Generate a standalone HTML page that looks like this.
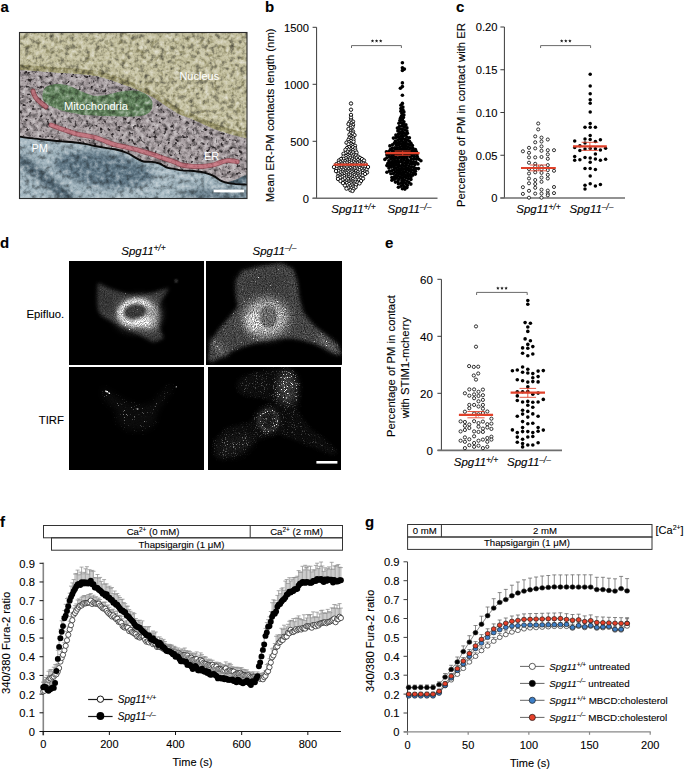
<!DOCTYPE html>
<html><head><meta charset="utf-8"><style>
html,body{margin:0;padding:0;background:#fff;}
svg{display:block;font-family:'Liberation Sans', sans-serif;}
.t{stroke:#000;stroke-width:0.1px;}
</style></head><body>
<svg width="685" height="770" viewBox="0 0 685 770">
<text x="0.50" y="12.00" font-size="15" text-anchor="start" font-weight="bold" font-style="normal" fill="#000" class="t">a</text>
<text x="265.00" y="12.00" font-size="15" text-anchor="start" font-weight="bold" font-style="normal" fill="#000" class="t">b</text>
<text x="456.00" y="12.00" font-size="15" text-anchor="start" font-weight="bold" font-style="normal" fill="#000" class="t">c</text>
<text x="0.00" y="248.00" font-size="15" text-anchor="start" font-weight="bold" font-style="normal" fill="#000" class="t">d</text>
<text x="385.00" y="248.00" font-size="15" text-anchor="start" font-weight="bold" font-style="normal" fill="#000" class="t">e</text>
<text x="0.00" y="527.00" font-size="15" text-anchor="start" font-weight="bold" font-style="normal" fill="#000" class="t">f</text>
<text x="365.00" y="527.00" font-size="15" text-anchor="start" font-weight="bold" font-style="normal" fill="#000" class="t">g</text>
<line x1="316.60" y1="27.30" x2="316.60" y2="198.30" stroke="#3a3a3a" stroke-width="1" />
<line x1="312.60" y1="27.30" x2="316.60" y2="27.30" stroke="#3a3a3a" stroke-width="1" />
<text x="309.00" y="31.70" font-size="11.2" text-anchor="end" font-weight="normal" font-style="normal" fill="#000" class="t">1500</text>
<line x1="312.60" y1="84.30" x2="316.60" y2="84.30" stroke="#3a3a3a" stroke-width="1" />
<text x="309.00" y="88.70" font-size="11.2" text-anchor="end" font-weight="normal" font-style="normal" fill="#000" class="t">1000</text>
<line x1="312.60" y1="141.30" x2="316.60" y2="141.30" stroke="#3a3a3a" stroke-width="1" />
<text x="309.00" y="145.70" font-size="11.2" text-anchor="end" font-weight="normal" font-style="normal" fill="#000" class="t">500</text>
<line x1="312.60" y1="198.30" x2="316.60" y2="198.30" stroke="#3a3a3a" stroke-width="1" />
<text x="309.00" y="202.70" font-size="11.2" text-anchor="end" font-weight="normal" font-style="normal" fill="#000" class="t">0</text>
<line x1="312.60" y1="198.30" x2="437.50" y2="198.30" stroke="#6e6e6e" stroke-width="1.6" />
<text transform="translate(274,115.35) rotate(-90)" font-size="11.35" text-anchor="middle" fill="#000" class="t">Mean ER-PM contacts length (nm)</text>
<text class="t" x="353.50" y="213.00" font-size="11.5" text-anchor="middle" fill="#000"><tspan font-style="italic">Spg11</tspan><tspan font-size="8.51" dx="-0.3" dy="-3.45" font-style="italic">+/+</tspan></text>
<text class="t" x="409.50" y="213.00" font-size="11.5" text-anchor="middle" fill="#000"><tspan font-style="italic">Spg11</tspan><tspan font-size="8.51" dx="-0.3" dy="-3.45" font-style="italic">–/–</tspan></text>
<line x1="504.40" y1="27.00" x2="504.40" y2="198.00" stroke="#3a3a3a" stroke-width="1" />
<line x1="500.40" y1="27.00" x2="504.40" y2="27.00" stroke="#3a3a3a" stroke-width="1" />
<text x="497.50" y="31.40" font-size="11.2" text-anchor="end" font-weight="normal" font-style="normal" fill="#000" class="t">0.20</text>
<line x1="500.40" y1="69.75" x2="504.40" y2="69.75" stroke="#3a3a3a" stroke-width="1" />
<text x="497.50" y="74.15" font-size="11.2" text-anchor="end" font-weight="normal" font-style="normal" fill="#000" class="t">0.15</text>
<line x1="500.40" y1="112.50" x2="504.40" y2="112.50" stroke="#3a3a3a" stroke-width="1" />
<text x="497.50" y="116.90" font-size="11.2" text-anchor="end" font-weight="normal" font-style="normal" fill="#000" class="t">0.10</text>
<line x1="500.40" y1="155.25" x2="504.40" y2="155.25" stroke="#3a3a3a" stroke-width="1" />
<text x="497.50" y="159.65" font-size="11.2" text-anchor="end" font-weight="normal" font-style="normal" fill="#000" class="t">0.05</text>
<line x1="500.40" y1="198.00" x2="504.40" y2="198.00" stroke="#3a3a3a" stroke-width="1" />
<text x="497.50" y="202.40" font-size="11.2" text-anchor="end" font-weight="normal" font-style="normal" fill="#000" class="t">0</text>
<line x1="500.40" y1="198.00" x2="625.00" y2="198.00" stroke="#6e6e6e" stroke-width="1.6" />
<text transform="translate(464.6,115.1) rotate(-90)" font-size="11.3" text-anchor="middle" fill="#000" class="t">Percentage of PM in contact with ER</text>
<text class="t" x="538.50" y="213.00" font-size="11.5" text-anchor="middle" fill="#000"><tspan font-style="italic">Spg11</tspan><tspan font-size="8.51" dx="-0.3" dy="-3.45" font-style="italic">+/+</tspan></text>
<text class="t" x="591.50" y="213.00" font-size="11.5" text-anchor="middle" fill="#000"><tspan font-style="italic">Spg11</tspan><tspan font-size="8.51" dx="-0.3" dy="-3.45" font-style="italic">–/–</tspan></text>
<line x1="441.40" y1="279.30" x2="441.40" y2="450.30" stroke="#3a3a3a" stroke-width="1" />
<line x1="437.40" y1="279.30" x2="441.40" y2="279.30" stroke="#3a3a3a" stroke-width="1" />
<text x="432.90" y="283.70" font-size="11.5" text-anchor="end" font-weight="normal" font-style="normal" fill="#000" class="t">60</text>
<line x1="437.40" y1="336.30" x2="441.40" y2="336.30" stroke="#3a3a3a" stroke-width="1" />
<text x="432.90" y="340.70" font-size="11.5" text-anchor="end" font-weight="normal" font-style="normal" fill="#000" class="t">40</text>
<line x1="437.40" y1="393.30" x2="441.40" y2="393.30" stroke="#3a3a3a" stroke-width="1" />
<text x="432.90" y="397.70" font-size="11.5" text-anchor="end" font-weight="normal" font-style="normal" fill="#000" class="t">20</text>
<line x1="437.40" y1="450.30" x2="441.40" y2="450.30" stroke="#3a3a3a" stroke-width="1" />
<text x="432.90" y="454.70" font-size="11.5" text-anchor="end" font-weight="normal" font-style="normal" fill="#000" class="t">0</text>
<line x1="437.60" y1="450.40" x2="562.00" y2="450.40" stroke="#6e6e6e" stroke-width="1.6" />
<text transform="translate(394.8,366.05) rotate(-90)" font-size="11.3" text-anchor="middle" fill="#000" class="t">Percentage of PM in contact</text>
<text transform="translate(408.6,367.7) rotate(-90)" font-size="11.3" text-anchor="middle" fill="#000" class="t">with STIM1-mcherry</text>
<text class="t" x="476.00" y="466.00" font-size="11.5" text-anchor="middle" fill="#000"><tspan font-style="italic">Spg11</tspan><tspan font-size="8.51" dx="-0.3" dy="-3.45" font-style="italic">+/+</tspan></text>
<text class="t" x="529.00" y="466.00" font-size="11.5" text-anchor="middle" fill="#000"><tspan font-style="italic">Spg11</tspan><tspan font-size="8.51" dx="-0.3" dy="-3.45" font-style="italic">–/–</tspan></text>
<text class="t" x="143.50" y="254.50" font-size="11.5" text-anchor="middle" fill="#000"><tspan font-style="italic">Spg11</tspan><tspan font-size="8.51" dx="-0.3" dy="-3.45" font-style="italic">+/+</tspan></text>
<text class="t" x="274.50" y="254.50" font-size="11.5" text-anchor="middle" fill="#000"><tspan font-style="italic">Spg11</tspan><tspan font-size="8.51" dx="-0.3" dy="-3.45" font-style="italic">–/–</tspan></text>
<text x="64.20" y="317.50" font-size="11.3" text-anchor="end" font-weight="normal" font-style="normal" fill="#000" class="t">Epifluo.</text>
<text x="63.90" y="423.60" font-size="11.3" text-anchor="end" font-weight="normal" font-style="normal" fill="#000" class="t">TIRF</text>
<line x1="43.30" y1="562.60" x2="43.30" y2="735.50" stroke="#858585" stroke-width="1.6" />
<line x1="39.50" y1="731.50" x2="43.30" y2="731.50" stroke="#111" stroke-width="1" />
<text x="34.90" y="735.90" font-size="11.2" text-anchor="end" font-weight="normal" font-style="normal" fill="#000" class="t">0</text>
<line x1="39.50" y1="712.81" x2="43.30" y2="712.81" stroke="#111" stroke-width="1" />
<text x="34.90" y="717.21" font-size="11.2" text-anchor="end" font-weight="normal" font-style="normal" fill="#000" class="t">0.1</text>
<line x1="39.50" y1="694.12" x2="43.30" y2="694.12" stroke="#111" stroke-width="1" />
<text x="34.90" y="698.52" font-size="11.2" text-anchor="end" font-weight="normal" font-style="normal" fill="#000" class="t">0.2</text>
<line x1="39.50" y1="675.43" x2="43.30" y2="675.43" stroke="#111" stroke-width="1" />
<text x="34.90" y="679.83" font-size="11.2" text-anchor="end" font-weight="normal" font-style="normal" fill="#000" class="t">0.3</text>
<line x1="39.50" y1="656.74" x2="43.30" y2="656.74" stroke="#111" stroke-width="1" />
<text x="34.90" y="661.14" font-size="11.2" text-anchor="end" font-weight="normal" font-style="normal" fill="#000" class="t">0.4</text>
<line x1="39.50" y1="638.05" x2="43.30" y2="638.05" stroke="#111" stroke-width="1" />
<text x="34.90" y="642.45" font-size="11.2" text-anchor="end" font-weight="normal" font-style="normal" fill="#000" class="t">0.5</text>
<line x1="39.50" y1="619.36" x2="43.30" y2="619.36" stroke="#111" stroke-width="1" />
<text x="34.90" y="623.76" font-size="11.2" text-anchor="end" font-weight="normal" font-style="normal" fill="#000" class="t">0.6</text>
<line x1="39.50" y1="600.67" x2="43.30" y2="600.67" stroke="#111" stroke-width="1" />
<text x="34.90" y="605.07" font-size="11.2" text-anchor="end" font-weight="normal" font-style="normal" fill="#000" class="t">0.7</text>
<line x1="39.50" y1="581.98" x2="43.30" y2="581.98" stroke="#111" stroke-width="1" />
<text x="34.90" y="586.38" font-size="11.2" text-anchor="end" font-weight="normal" font-style="normal" fill="#000" class="t">0.8</text>
<line x1="39.50" y1="563.29" x2="43.30" y2="563.29" stroke="#111" stroke-width="1" />
<text x="34.90" y="567.69" font-size="11.2" text-anchor="end" font-weight="normal" font-style="normal" fill="#000" class="t">0.9</text>
<line x1="39.80" y1="731.50" x2="341.00" y2="731.50" stroke="#111" stroke-width="1" />
<line x1="43.20" y1="731.50" x2="43.20" y2="735.00" stroke="#111" stroke-width="1" />
<text x="43.20" y="748.00" font-size="11" text-anchor="middle" font-weight="normal" font-style="normal" fill="#000" class="t">0</text>
<line x1="109.36" y1="731.50" x2="109.36" y2="735.00" stroke="#111" stroke-width="1" />
<text x="109.36" y="748.00" font-size="11" text-anchor="middle" font-weight="normal" font-style="normal" fill="#000" class="t">200</text>
<line x1="175.52" y1="731.50" x2="175.52" y2="735.00" stroke="#111" stroke-width="1" />
<text x="175.52" y="748.00" font-size="11" text-anchor="middle" font-weight="normal" font-style="normal" fill="#000" class="t">400</text>
<line x1="241.68" y1="731.50" x2="241.68" y2="735.00" stroke="#111" stroke-width="1" />
<text x="241.68" y="748.00" font-size="11" text-anchor="middle" font-weight="normal" font-style="normal" fill="#000" class="t">600</text>
<line x1="307.84" y1="731.50" x2="307.84" y2="735.00" stroke="#111" stroke-width="1" />
<text x="307.84" y="748.00" font-size="11" text-anchor="middle" font-weight="normal" font-style="normal" fill="#000" class="t">800</text>
<text x="192.50" y="765.50" font-size="11" text-anchor="middle" font-weight="normal" font-style="normal" fill="#000" class="t">Time (s)</text>
<text transform="translate(9.9,642.85) rotate(-90)" font-size="11.3" text-anchor="middle" fill="#000" class="t">340/380 Fura-2 ratio</text>
<rect x="43.5" y="525.5" width="299" height="12.3" fill="none" stroke="#333" stroke-width="1"/>
<line x1="250.20" y1="525.50" x2="250.20" y2="537.80" stroke="#333" stroke-width="1" />
<rect x="51.5" y="537.8" width="291" height="12.4" fill="none" stroke="#333" stroke-width="1"/>
<text x="153" y="535" font-size="9.6" text-anchor="middle" fill="#000" class="t">Ca<tspan font-size="6.5" dy="-3.5">2+</tspan><tspan dy="3.5"> (0 mM)</tspan></text>
<text x="296.5" y="535" font-size="9.6" text-anchor="middle" fill="#000" class="t">Ca<tspan font-size="6.5" dy="-3.5">2+</tspan><tspan dy="3.5"> (2 mM)</tspan></text>
<text x="181.5" y="547.5" font-size="9.6" text-anchor="middle" fill="#000" class="t">Thapsigargin (1 μM)</text>
<line x1="407.50" y1="561.90" x2="407.50" y2="734.80" stroke="#404040" stroke-width="1" />
<line x1="403.50" y1="731.90" x2="407.50" y2="731.90" stroke="#404040" stroke-width="1" />
<text x="399.50" y="736.30" font-size="11.2" text-anchor="end" font-weight="normal" font-style="normal" fill="#000" class="t">0</text>
<line x1="403.50" y1="713.00" x2="407.50" y2="713.00" stroke="#404040" stroke-width="1" />
<text x="399.50" y="717.40" font-size="11.2" text-anchor="end" font-weight="normal" font-style="normal" fill="#000" class="t">0.1</text>
<line x1="403.50" y1="694.10" x2="407.50" y2="694.10" stroke="#404040" stroke-width="1" />
<text x="399.50" y="698.50" font-size="11.2" text-anchor="end" font-weight="normal" font-style="normal" fill="#000" class="t">0.2</text>
<line x1="403.50" y1="675.20" x2="407.50" y2="675.20" stroke="#404040" stroke-width="1" />
<text x="399.50" y="679.60" font-size="11.2" text-anchor="end" font-weight="normal" font-style="normal" fill="#000" class="t">0.3</text>
<line x1="403.50" y1="656.30" x2="407.50" y2="656.30" stroke="#404040" stroke-width="1" />
<text x="399.50" y="660.70" font-size="11.2" text-anchor="end" font-weight="normal" font-style="normal" fill="#000" class="t">0.4</text>
<line x1="403.50" y1="637.40" x2="407.50" y2="637.40" stroke="#404040" stroke-width="1" />
<text x="399.50" y="641.80" font-size="11.2" text-anchor="end" font-weight="normal" font-style="normal" fill="#000" class="t">0.5</text>
<line x1="403.50" y1="618.50" x2="407.50" y2="618.50" stroke="#404040" stroke-width="1" />
<text x="399.50" y="622.90" font-size="11.2" text-anchor="end" font-weight="normal" font-style="normal" fill="#000" class="t">0.6</text>
<line x1="403.50" y1="599.60" x2="407.50" y2="599.60" stroke="#404040" stroke-width="1" />
<text x="399.50" y="604.00" font-size="11.2" text-anchor="end" font-weight="normal" font-style="normal" fill="#000" class="t">0.7</text>
<line x1="403.50" y1="580.70" x2="407.50" y2="580.70" stroke="#404040" stroke-width="1" />
<text x="399.50" y="585.10" font-size="11.2" text-anchor="end" font-weight="normal" font-style="normal" fill="#000" class="t">0.8</text>
<line x1="403.50" y1="561.80" x2="407.50" y2="561.80" stroke="#404040" stroke-width="1" />
<text x="399.50" y="566.20" font-size="11.2" text-anchor="end" font-weight="normal" font-style="normal" fill="#000" class="t">0.9</text>
<line x1="404.00" y1="731.90" x2="650.80" y2="731.90" stroke="#888" stroke-width="1.3" />
<line x1="407.50" y1="731.90" x2="407.50" y2="734.80" stroke="#888" stroke-width="1.2" />
<text x="407.50" y="749.00" font-size="11" text-anchor="middle" font-weight="normal" font-style="normal" fill="#000" class="t">0</text>
<line x1="468.18" y1="731.90" x2="468.18" y2="734.80" stroke="#888" stroke-width="1.2" />
<text x="468.18" y="749.00" font-size="11" text-anchor="middle" font-weight="normal" font-style="normal" fill="#000" class="t">50</text>
<line x1="528.85" y1="731.90" x2="528.85" y2="734.80" stroke="#888" stroke-width="1.2" />
<text x="528.85" y="749.00" font-size="11" text-anchor="middle" font-weight="normal" font-style="normal" fill="#000" class="t">100</text>
<line x1="589.52" y1="731.90" x2="589.52" y2="734.80" stroke="#888" stroke-width="1.2" />
<text x="589.52" y="749.00" font-size="11" text-anchor="middle" font-weight="normal" font-style="normal" fill="#000" class="t">150</text>
<line x1="650.20" y1="731.90" x2="650.20" y2="734.80" stroke="#888" stroke-width="1.2" />
<text x="650.20" y="749.00" font-size="11" text-anchor="middle" font-weight="normal" font-style="normal" fill="#000" class="t">200</text>
<text x="530.00" y="767.00" font-size="11" text-anchor="middle" font-weight="normal" font-style="normal" fill="#000" class="t">Time (s)</text>
<text transform="translate(374.4,640.95) rotate(-90)" font-size="11.3" text-anchor="middle" fill="#000" class="t">340/380 Fura-2 ratio</text>
<rect x="407.6" y="524.5" width="244.4" height="12.5" fill="none" stroke="#333" stroke-width="1"/>
<line x1="441.40" y1="524.50" x2="441.40" y2="537.00" stroke="#333" stroke-width="1" />
<rect x="407.6" y="537" width="244.4" height="12.4" fill="none" stroke="#333" stroke-width="1"/>
<text x="424.80" y="533.60" font-size="9.6" text-anchor="middle" font-weight="normal" font-style="normal" fill="#000" class="t">0 mM</text>
<text x="545.00" y="533.60" font-size="9.6" text-anchor="middle" font-weight="normal" font-style="normal" fill="#000" class="t">2 mM</text>
<text x="527.00" y="546.00" font-size="9.6" text-anchor="middle" font-weight="normal" font-style="normal" fill="#000" class="t">Thapsigargin (1 μM)</text>
<text x="655.5" y="534" font-size="11" fill="#000" class="t">[Ca<tspan font-size="7" dy="-4">2+</tspan><tspan dy="4">]</tspan></text>
<defs>
<clipPath id="clipA"><rect x="19.5" y="32.5" width="227.5" height="166"/></clipPath>
<filter id="emN" x="19" y="32" width="229" height="167" filterUnits="userSpaceOnUse" color-interpolation-filters="sRGB">
  <feTurbulence type="fractalNoise" baseFrequency="0.2" numOctaves="3" seed="4" result="n"/>
  <feColorMatrix in="n" type="matrix" values="0.7 0 0 0 0.150  0.7 0 0 0 0.150  0.7 0 0 0 0.150  0 0 0 0 1" result="g"/>
  <feBlend in="SourceGraphic" in2="g" mode="overlay" result="b"/>
  <feComposite in="b" in2="SourceGraphic" operator="in"/>
</filter>
<filter id="emC" x="19" y="32" width="229" height="167" filterUnits="userSpaceOnUse" color-interpolation-filters="sRGB">
  <feTurbulence type="fractalNoise" baseFrequency="0.22" numOctaves="3" seed="7" result="n"/>
  <feColorMatrix in="n" type="matrix" values="0.7 0 0 0 0.150  0.7 0 0 0 0.150  0.7 0 0 0 0.150  0 0 0 0 1" result="g"/>
  <feBlend in="SourceGraphic" in2="g" mode="overlay" result="b"/>
  <feComposite in="b" in2="SourceGraphic" operator="in"/>
</filter>
<filter id="emB" x="19" y="32" width="229" height="167" filterUnits="userSpaceOnUse" color-interpolation-filters="sRGB">
  <feTurbulence type="fractalNoise" baseFrequency="0.2" numOctaves="3" seed="11" result="n"/>
  <feColorMatrix in="n" type="matrix" values="0.6 0 0 0 0.200  0.6 0 0 0 0.200  0.6 0 0 0 0.200  0 0 0 0 1" result="g"/>
  <feBlend in="SourceGraphic" in2="g" mode="overlay" result="b"/>
  <feComposite in="b" in2="SourceGraphic" operator="in"/>
</filter>
<filter id="dotsC" x="19" y="32" width="229" height="167" filterUnits="userSpaceOnUse" color-interpolation-filters="sRGB">
  <feTurbulence type="fractalNoise" baseFrequency="0.28" numOctaves="2" seed="31" result="n"/>
  <feColorMatrix in="n" type="matrix" values="0 0 0 0 0.14  0 0 0 0 0.12  0 0 0 0 0.13  -5 0 0 0 2.15"/>
  <feGaussianBlur stdDeviation="0.5"/>
</filter>
<filter id="dotsN" x="19" y="32" width="229" height="167" filterUnits="userSpaceOnUse" color-interpolation-filters="sRGB">
  <feTurbulence type="fractalNoise" baseFrequency="0.22" numOctaves="2" seed="37" result="n"/>
  <feColorMatrix in="n" type="matrix" values="0 0 0 0 0.38  0 0 0 0 0.36  0 0 0 0 0.2  -5 0 0 0 2.1"/>
  <feGaussianBlur stdDeviation="0.45"/>
</filter>
<filter id="bl1" x="-20%" y="-20%" width="140%" height="140%" color-interpolation-filters="sRGB"><feGaussianBlur stdDeviation="0.6"/></filter>
<filter id="bl06" x="-20%" y="-20%" width="140%" height="140%" color-interpolation-filters="sRGB"><feGaussianBlur stdDeviation="0.8"/></filter>
<filter id="bl15" x="-20%" y="-20%" width="140%" height="140%" color-interpolation-filters="sRGB"><feGaussianBlur stdDeviation="1.5"/></filter>
<filter id="bl3" x="-30%" y="-30%" width="160%" height="160%" color-interpolation-filters="sRGB"><feGaussianBlur stdDeviation="3"/></filter>
<filter id="bl5" x="-50%" y="-50%" width="200%" height="200%" color-interpolation-filters="sRGB"><feGaussianBlur stdDeviation="5"/></filter>
<filter id="fTL" x="69" y="261" width="135" height="104" filterUnits="userSpaceOnUse" color-interpolation-filters="sRGB">
  <feGaussianBlur in="SourceGraphic" stdDeviation="0.8" result="g"/>
  <feTurbulence type="fractalNoise" baseFrequency="0.9" numOctaves="2" seed="9" result="n"/>
  <feColorMatrix in="n" type="matrix" values="0.6 0 0 0 0.200  0.6 0 0 0 0.200  0.6 0 0 0 0.200  0 0 0 0 1" result="nc"/>
  <feComposite in="g" in2="nc" operator="arithmetic" k1="2" k2="0" k3="0" k4="0" result="mod"/>
  <feTurbulence type="fractalNoise" baseFrequency="0.75" numOctaves="1" seed="109" result="n2"/>
  <feColorMatrix in="n2" type="matrix" values="10 0 0 0 -7.30  10 0 0 0 -7.30  10 0 0 0 -7.30  0 0 0 0 1" result="sp"/>
  <feComposite in="g" in2="sp" operator="arithmetic" k1="3.0" k2="0" k3="0" k4="0" result="spg"/>
  <feComposite in="mod" in2="spg" operator="arithmetic" k1="0" k2="1" k3="1" k4="0"/>
</filter>
<filter id="fTR" x="206" y="261" width="136" height="104" filterUnits="userSpaceOnUse" color-interpolation-filters="sRGB">
  <feGaussianBlur in="SourceGraphic" stdDeviation="0.8" result="g"/>
  <feTurbulence type="fractalNoise" baseFrequency="0.9" numOctaves="2" seed="13" result="n"/>
  <feColorMatrix in="n" type="matrix" values="0.9 0 0 0 0.050  0.9 0 0 0 0.050  0.9 0 0 0 0.050  0 0 0 0 1" result="nc"/>
  <feComposite in="g" in2="nc" operator="arithmetic" k1="2" k2="0" k3="0" k4="0" result="mod"/>
  <feTurbulence type="fractalNoise" baseFrequency="0.75" numOctaves="1" seed="113" result="n2"/>
  <feColorMatrix in="n2" type="matrix" values="10 0 0 0 -7.20  10 0 0 0 -7.20  10 0 0 0 -7.20  0 0 0 0 1" result="sp"/>
  <feComposite in="g" in2="sp" operator="arithmetic" k1="3.0" k2="0" k3="0" k4="0" result="spg"/>
  <feComposite in="mod" in2="spg" operator="arithmetic" k1="0" k2="1" k3="1" k4="0"/>
</filter>
<filter id="fBL" x="69" y="367" width="135" height="103" filterUnits="userSpaceOnUse" color-interpolation-filters="sRGB">
  <feGaussianBlur in="SourceGraphic" stdDeviation="0.6" result="g"/>
  <feTurbulence type="fractalNoise" baseFrequency="0.9" numOctaves="2" seed="17" result="n"/>
  <feColorMatrix in="n" type="matrix" values="0.6 0 0 0 0.200  0.6 0 0 0 0.200  0.6 0 0 0 0.200  0 0 0 0 1" result="nc"/>
  <feComposite in="g" in2="nc" operator="arithmetic" k1="2" k2="0" k3="0" k4="0" result="mod"/>
  <feTurbulence type="fractalNoise" baseFrequency="0.9" numOctaves="2" seed="117" result="n2"/>
  <feColorMatrix in="n2" type="matrix" values="10 0 0 0 -6.80  10 0 0 0 -6.80  10 0 0 0 -6.80  0 0 0 0 1" result="sp"/>
  <feComposite in="g" in2="sp" operator="arithmetic" k1="10.0" k2="0" k3="0" k4="0" result="spg"/>
  <feComposite in="mod" in2="spg" operator="arithmetic" k1="0" k2="1" k3="1" k4="0"/>
</filter>
<filter id="fBR" x="208" y="367" width="133" height="103" filterUnits="userSpaceOnUse" color-interpolation-filters="sRGB">
  <feGaussianBlur in="SourceGraphic" stdDeviation="0.8" result="g"/>
  <feTurbulence type="fractalNoise" baseFrequency="0.9" numOctaves="2" seed="23" result="n"/>
  <feColorMatrix in="n" type="matrix" values="1.0 0 0 0 0.000  1.0 0 0 0 0.000  1.0 0 0 0 0.000  0 0 0 0 1" result="nc"/>
  <feComposite in="g" in2="nc" operator="arithmetic" k1="2" k2="0" k3="0" k4="0" result="mod"/>
  <feTurbulence type="fractalNoise" baseFrequency="0.9" numOctaves="2" seed="123" result="n2"/>
  <feColorMatrix in="n2" type="matrix" values="10 0 0 0 -6.30  10 0 0 0 -6.30  10 0 0 0 -6.30  0 0 0 0 1" result="sp"/>
  <feComposite in="g" in2="sp" operator="arithmetic" k1="4.5" k2="0" k3="0" k4="0" result="spg"/>
  <feComposite in="mod" in2="spg" operator="arithmetic" k1="0" k2="1" k3="1" k4="0"/>
</filter>
</defs>
<defs><mask id="mCyto" maskUnits="userSpaceOnUse" x="19" y="32" width="229" height="167"><rect x="19" y="32" width="229" height="167" fill="#fff"/><path d="M19,32 L247,32 L247,138.5 C235,136 222,132.8 205,125.2 C195,120 185,117 178.4,113.9 C165,106 158,100 151.8,96.8 C140,91 132,87.5 125,85.4 C112,80 100,77 95,75.9 C80,74 60,73 57,72.9 C45,71.8 30,70.6 19,70.2 Z" fill="#000"/><path d="M19.0,136.6 C21.2,136.9 27.3,137.8 32.5,138.4 C37.7,139.0 45.1,139.7 50.0,140.2 C54.9,140.7 57.8,141.1 61.7,141.4 C65.6,141.7 69.5,141.8 73.4,142.2 C77.3,142.6 81.4,143.3 85.0,143.9 C88.6,144.5 92.1,145.4 95.0,146.0 C97.9,146.6 99.1,146.8 102.4,147.4 C105.7,148.0 110.7,148.4 114.8,149.3 C118.9,150.2 123.5,151.4 127.2,153.0 C130.9,154.6 134.4,157.2 137.1,158.6 C139.8,160.0 140.8,160.9 143.3,161.5 C145.8,162.1 149.3,161.6 152.0,161.9 C154.7,162.2 157.0,162.6 159.5,163.5 C162.0,164.4 164.3,166.7 166.9,167.6 C169.5,168.5 172.5,168.6 175.0,169.1 C177.5,169.6 178.6,170.1 181.7,170.4 C184.8,170.7 189.5,170.6 193.4,171.0 C197.3,171.4 201.5,171.9 205.0,172.8 C208.5,173.7 211.9,175.0 214.4,176.3 C216.9,177.6 218.3,179.3 220.2,180.4 C222.1,181.5 223.7,182.1 226.0,182.7 C228.3,183.3 231.1,183.6 234.2,183.9 C237.3,184.2 242.5,184.4 244.7,184.5 C246.9,184.6 247.0,184.6 247.5,184.6 L248,199 L19,199 Z" fill="#000"/><path d="M42.3,96 C42,89 46,85.5 52,84.5 C58,83.5 64,84 70,86 C78,89 84,93 92,95.2 C98,96.3 104,95.5 110,94 C118,91.5 126,90 134,90.3 C142,91 148,94.5 151.4,99.7 C153.5,103 153.5,108 149.5,112.5 C145,116 138,116.8 130,116.8 L115,116.4 L96,115.8 C88,115.5 82,114.8 77,113.9 C68,112.5 62,111 57,109 C51,106.5 46,104 43.5,100.5 C42.6,99 42.3,97.5 42.3,96 Z" fill="#000"/></mask><clipPath id="cNuc"><path d="M19,32 L247,32 L247,138.5 C235,136 222,132.8 205,125.2 C195,120 185,117 178.4,113.9 C165,106 158,100 151.8,96.8 C140,91 132,87.5 125,85.4 C112,80 100,77 95,75.9 C80,74 60,73 57,72.9 C45,71.8 30,70.6 19,70.2 Z"/></clipPath></defs>
<g clip-path="url(#clipA)">
<g filter="url(#emC)"><rect x="19" y="32" width="229" height="167" fill="#a69da0"/></g>
<g filter="url(#emN)"><path d="M19,32 L247,32 L247,138.5 C235,136 222,132.8 205,125.2 C195,120 185,117 178.4,113.9 C165,106 158,100 151.8,96.8 C140,91 132,87.5 125,85.4 C112,80 100,77 95,75.9 C80,74 60,73 57,72.9 C45,71.8 30,70.6 19,70.2 Z" fill="#c1bd9b"/><path d="M19,70.2 C30,70.6 45,71.8 57,72.9 C60,73 80,74 95,75.9 C100,77 112,80 125,85.4 C132,87.5 140,91 151.8,96.8 C158,100 165,106 178.4,113.9 C185,117 195,120 205,125.2 C222,132.8 235,136 247,138.5" fill="none" stroke="#9c976c" stroke-width="5" transform="translate(0,-3)"/></g>
<rect x="19" y="32" width="229" height="167" fill="#000" filter="url(#dotsC)" mask="url(#mCyto)" opacity="0.95"/>
<rect x="19" y="32" width="229" height="167" fill="#000" filter="url(#dotsN)" clip-path="url(#cNuc)" opacity="0.4"/>
<g filter="url(#emB)"><path d="M19.0,136.6 C21.2,136.9 27.3,137.8 32.5,138.4 C37.7,139.0 45.1,139.7 50.0,140.2 C54.9,140.7 57.8,141.1 61.7,141.4 C65.6,141.7 69.5,141.8 73.4,142.2 C77.3,142.6 81.4,143.3 85.0,143.9 C88.6,144.5 92.1,145.4 95.0,146.0 C97.9,146.6 99.1,146.8 102.4,147.4 C105.7,148.0 110.7,148.4 114.8,149.3 C118.9,150.2 123.5,151.4 127.2,153.0 C130.9,154.6 134.4,157.2 137.1,158.6 C139.8,160.0 140.8,160.9 143.3,161.5 C145.8,162.1 149.3,161.6 152.0,161.9 C154.7,162.2 157.0,162.6 159.5,163.5 C162.0,164.4 164.3,166.7 166.9,167.6 C169.5,168.5 172.5,168.6 175.0,169.1 C177.5,169.6 178.6,170.1 181.7,170.4 C184.8,170.7 189.5,170.6 193.4,171.0 C197.3,171.4 201.5,171.9 205.0,172.8 C208.5,173.7 211.9,175.0 214.4,176.3 C216.9,177.6 218.3,179.3 220.2,180.4 C222.1,181.5 223.7,182.1 226.0,182.7 C228.3,183.3 231.1,183.6 234.2,183.9 C237.3,184.2 242.5,184.4 244.7,184.5 C246.9,184.6 247.0,184.6 247.5,184.6 L248,199 L19,199 Z" fill="#9db1bb"/><path d="M224,182.6 C232,181.5 238,179 242,176.5 C244,175.5 246,174.8 248,174.5 L248,185 Z" fill="#5a7280"/>
<g filter="url(#bl3)"><ellipse cx="104" cy="170" rx="50" ry="17" fill="#587080" transform="rotate(9 104 170)" opacity="0.9"/><path d="M19,158 Q42,176 72,201" stroke="#3f5564" stroke-width="10" fill="none" opacity="0.9"/><ellipse cx="215" cy="196" rx="36" ry="8" fill="#647a88" opacity="0.85"/><path d="M112,201 Q140,190 172,176" stroke="#b4c5cd" stroke-width="7" fill="none" opacity="0.7"/></g></g>
<g filter="url(#emN)"><path d="M42.3,96 C42,89 46,85.5 52,84.5 C58,83.5 64,84 70,86 C78,89 84,93 92,95.2 C98,96.3 104,95.5 110,94 C118,91.5 126,90 134,90.3 C142,91 148,94.5 151.4,99.7 C153.5,103 153.5,108 149.5,112.5 C145,116 138,116.8 130,116.8 L115,116.4 L96,115.8 C88,115.5 82,114.8 77,113.9 C68,112.5 62,111 57,109 C51,106.5 46,104 43.5,100.5 C42.6,99 42.3,97.5 42.3,96 Z" fill="#5f805a"/></g>
<g opacity="0.75"><path d="M33,91 C34,96 36,99 40,102 L46,107" fill="none" stroke="#7e3038" stroke-width="5" stroke-linecap="round"/><path d="M51.0,125.0 C53.2,125.8 59.9,128.3 64.0,129.7 C68.1,131.1 72.2,132.6 75.7,133.6 C79.2,134.6 81.8,134.8 85.0,135.4 C88.2,136.0 92.1,136.6 95.0,137.4 C97.9,138.2 99.1,138.8 102.4,140.0 C105.7,141.2 110.7,143.5 114.8,144.7 C118.9,145.9 123.1,146.4 127.2,147.4 C131.3,148.4 135.5,149.4 139.6,150.5 C143.7,151.6 147.9,152.8 152.0,154.2 C156.1,155.5 160.6,157.3 164.4,158.6 C168.2,159.9 172.1,161.1 175.0,162.2 C177.9,163.3 178.6,164.3 181.7,165.0 C184.8,165.7 189.5,166.2 193.4,166.4 C197.3,166.6 201.5,166.5 205.0,166.2 C208.5,165.9 211.5,165.3 214.4,164.6 C217.3,163.8 220.3,162.4 222.6,161.7 C224.9,161.0 226.5,160.7 228.4,160.6 C230.3,160.5 232.7,160.9 234.2,161.1 C235.7,161.3 236.7,161.6 237.2,161.7" fill="none" stroke="#8a3a44" stroke-width="5" stroke-linecap="round"/>
<path d="M33,91 C34,96 36,99 40,102 L46,107" fill="none" stroke="#c06470" stroke-width="3.2" stroke-linecap="round"/><path d="M51.0,125.0 C53.2,125.8 59.9,128.3 64.0,129.7 C68.1,131.1 72.2,132.6 75.7,133.6 C79.2,134.6 81.8,134.8 85.0,135.4 C88.2,136.0 92.1,136.6 95.0,137.4 C97.9,138.2 99.1,138.8 102.4,140.0 C105.7,141.2 110.7,143.5 114.8,144.7 C118.9,145.9 123.1,146.4 127.2,147.4 C131.3,148.4 135.5,149.4 139.6,150.5 C143.7,151.6 147.9,152.8 152.0,154.2 C156.1,155.5 160.6,157.3 164.4,158.6 C168.2,159.9 172.1,161.1 175.0,162.2 C177.9,163.3 178.6,164.3 181.7,165.0 C184.8,165.7 189.5,166.2 193.4,166.4 C197.3,166.6 201.5,166.5 205.0,166.2 C208.5,165.9 211.5,165.3 214.4,164.6 C217.3,163.8 220.3,162.4 222.6,161.7 C224.9,161.0 226.5,160.7 228.4,160.6 C230.3,160.5 232.7,160.9 234.2,161.1 C235.7,161.3 236.7,161.6 237.2,161.7" fill="none" stroke="#cc6b78" stroke-width="3.3" stroke-linecap="round"/></g>
<path d="M19.0,136.6 C21.2,136.9 27.3,137.8 32.5,138.4 C37.7,139.0 45.1,139.7 50.0,140.2 C54.9,140.7 57.8,141.1 61.7,141.4 C65.6,141.7 69.5,141.8 73.4,142.2 C77.3,142.6 81.4,143.3 85.0,143.9 C88.6,144.5 92.1,145.4 95.0,146.0 C97.9,146.6 99.1,146.8 102.4,147.4 C105.7,148.0 110.7,148.4 114.8,149.3 C118.9,150.2 123.5,151.4 127.2,153.0 C130.9,154.6 134.4,157.2 137.1,158.6 C139.8,160.0 140.8,160.9 143.3,161.5 C145.8,162.1 149.3,161.6 152.0,161.9 C154.7,162.2 157.0,162.6 159.5,163.5 C162.0,164.4 164.3,166.7 166.9,167.6 C169.5,168.5 172.5,168.6 175.0,169.1 C177.5,169.6 178.6,170.1 181.7,170.4 C184.8,170.7 189.5,170.6 193.4,171.0 C197.3,171.4 201.5,171.9 205.0,172.8 C208.5,173.7 211.9,175.0 214.4,176.3 C216.9,177.6 218.3,179.3 220.2,180.4 C222.1,181.5 223.7,182.1 226.0,182.7 C228.3,183.3 231.1,183.6 234.2,183.9 C237.3,184.2 242.5,184.4 244.7,184.5 C246.9,184.6 247.0,184.6 247.5,184.6" fill="none" stroke="#0a0a0a" stroke-width="1.9"/>
</g>
<rect x="19.5" y="32.5" width="227.5" height="166" fill="none" stroke="#2a2a2a" stroke-width="1.1"/>
<text x="179.4" y="80.4" font-size="11" fill="#fff">Nucleus</text>
<text x="64" y="110.4" font-size="11.2" fill="#fff">Mitochondria</text>
<text x="31.4" y="151.6" font-size="11" fill="#fff">PM</text>
<text x="204" y="160" font-size="11" fill="#fff">ER</text>
<rect x="213.6" y="189.6" width="30.6" height="2.8" fill="#fff"/>
<g filter="url(#fTL)"><rect x="69" y="261" width="135" height="103.6" fill="#000"/>
<path d="M97.9,282.9 C105,286 110,289 116.3,290.8 C122,293 128,294.5 133.3,294.7 C140,295 145,294 149.1,293.4 C156,292 162,290 168.8,288.1 C167,292 165,295 163.5,297.3 C161,301 159,305 158.3,307.8 C157.5,313 157.8,317 158.3,321 C159,325 160,328 160.9,331.5 C162,334 163,336 163.5,338 C160,340 156,341.5 153,342 C147,339 141,336 136,332.8 C129,329 122,326 116.3,323.6 C111,321 107,319 103.1,317 C100,314 98.5,312 97.9,309.1 C97,300 97.2,291 97.9,282.9Z" fill="#3c3c3c" filter="url(#bl15)"/>
<path d="M98,290 L112,300 M99,298 L113,306 M100,306 L114,312" stroke="#222" stroke-width="1.2" filter="url(#bl06)"/>
<ellipse cx="138" cy="314" rx="21" ry="15" fill="#8a8a8a" transform="rotate(-8 138 314)" filter="url(#bl5)"/><ellipse cx="136" cy="312.5" rx="15" ry="10.5" fill="none" stroke="#e0e0e0" stroke-width="7" transform="rotate(-8 136 312.5)" filter="url(#bl15)"/><ellipse cx="150" cy="318" rx="9" ry="12" fill="#909090" filter="url(#bl3)"/>
<ellipse cx="145" cy="321" rx="8" ry="5" fill="#f4f4f4" filter="url(#bl3)"/>
<ellipse cx="127" cy="318" rx="5" ry="4" fill="#b0b0b0" filter="url(#bl3)"/>
<ellipse cx="135" cy="311.4" rx="11.4" ry="7.4" fill="#383838" transform="rotate(-8 135 311.4)" filter="url(#bl06)"/>
<circle cx="176.2" cy="280.9" r="0.8" fill="#fff"/></g>
<g filter="url(#fTR)"><rect x="206.4" y="261" width="134.6" height="103.6" fill="#000"/>
<path d="M241.7,270.9 L257.6,267 281.4,263 293.4,268.9 297.3,280.9 299.3,296.7 303.3,312.6 313.2,324.5 325.1,334.5 337,344.4 342,354.3 337,355 C320,344 300,338 285.4,338.4 C268,339 250,344 235,350 L212,362.3 208,360.3 210,344.4 217.9,330.5 229.8,316.6 237.8,306.7 235.8,294.8 235.8,280.9Z" fill="#444444" filter="url(#bl15)"/>
<ellipse cx="265" cy="285" rx="26" ry="15" fill="#3e3e3e" filter="url(#bl5)"/><ellipse cx="266" cy="318" rx="22" ry="19" fill="#b0b0b0" filter="url(#bl5)"/>
<ellipse cx="254" cy="322" rx="7" ry="9" fill="#c8c8c8" filter="url(#bl3)"/>
<ellipse cx="268.5" cy="316.6" rx="9" ry="11" fill="#686868" filter="url(#bl1)"/>
<path d="M318,336 L336,350 M212,340 L225,355" stroke="#707070" stroke-width="5" filter="url(#bl3)"/></g>
<g filter="url(#fBL)"><rect x="69" y="367" width="135" height="103" fill="#000"/>
<path d="M102,388 L110,392 122,400 137,406 152,404 160,395 172,384 170,392 158,410 154,424 146,430 128,430 118,422 116,410 104,398Z" fill="#0b0b0b" filter="url(#bl3)"/>
<ellipse cx="106.5" cy="391.5" rx="1.6" ry="0.9" fill="#ddd" transform="rotate(30 106.5 391.5)"/><ellipse cx="109" cy="393" rx="1" ry="0.7" fill="#bbb"/><ellipse cx="137.5" cy="409" rx="1.1" ry="0.8" fill="#bbb"/><circle cx="176.2" cy="386.9" r="0.6" fill="#ccc"/></g>
<g filter="url(#fBR)"><rect x="208.2" y="367" width="132.8" height="103" fill="#000"/>
<path d="M238,380 L256,372 276,368 290,368 298,380 300,400 298,412 310,428 326,440 338,452 332,455 310,446 290,438 278,434 258,440 240,452 222,460 214,456 214,440 226,428 250,422 258,410 268,404 276,404 262,398 246,396 238,392Z" fill="#0b0b0b" filter="url(#bl15)"/>
<ellipse cx="287" cy="388" rx="10" ry="17" fill="#383838" filter="url(#bl3)"/><ellipse cx="255" cy="385" rx="16" ry="9" fill="#0e0e0e" filter="url(#bl3)"/>
<ellipse cx="268.5" cy="420.6" rx="11" ry="12" fill="#1a1a1a" filter="url(#bl3)"/><ellipse cx="268.5" cy="420.6" rx="9" ry="10" fill="none" stroke="#2e2e2e" stroke-width="4" filter="url(#bl1)"/>
<ellipse cx="235" cy="445" rx="18" ry="10" fill="#161616" transform="rotate(-20 235 445)" filter="url(#bl3)"/></g>
<rect x="316.4" y="461" width="21" height="2.6" fill="#fff"/>
<circle cx="538.2" cy="123.5" r="1.55" fill="#fff" stroke="#111" stroke-width="0.85"/>
<circle cx="538.2" cy="129.4" r="1.55" fill="#fff" stroke="#111" stroke-width="0.85"/>
<circle cx="535.2" cy="136.4" r="1.55" fill="#fff" stroke="#111" stroke-width="0.85"/>
<circle cx="541.5" cy="137.6" r="1.55" fill="#fff" stroke="#111" stroke-width="0.85"/>
<circle cx="547.8" cy="139.5" r="1.55" fill="#fff" stroke="#111" stroke-width="0.85"/>
<circle cx="535.2" cy="142.3" r="1.55" fill="#fff" stroke="#111" stroke-width="0.85"/>
<circle cx="541.5" cy="141.5" r="1.55" fill="#fff" stroke="#111" stroke-width="0.85"/>
<circle cx="541.5" cy="146.4" r="1.55" fill="#fff" stroke="#111" stroke-width="0.85"/>
<circle cx="529.0" cy="147.8" r="1.55" fill="#fff" stroke="#111" stroke-width="0.85"/>
<circle cx="535.2" cy="148.4" r="1.55" fill="#fff" stroke="#111" stroke-width="0.85"/>
<circle cx="522.9" cy="151.3" r="1.55" fill="#fff" stroke="#111" stroke-width="0.85"/>
<circle cx="529.0" cy="152.8" r="1.55" fill="#fff" stroke="#111" stroke-width="0.85"/>
<circle cx="541.5" cy="150.8" r="1.55" fill="#fff" stroke="#111" stroke-width="0.85"/>
<circle cx="547.8" cy="150.2" r="1.55" fill="#fff" stroke="#111" stroke-width="0.85"/>
<circle cx="554.0" cy="150.2" r="1.55" fill="#fff" stroke="#111" stroke-width="0.85"/>
<circle cx="547.8" cy="154.4" r="1.55" fill="#fff" stroke="#111" stroke-width="0.85"/>
<circle cx="529.0" cy="157.4" r="1.55" fill="#fff" stroke="#111" stroke-width="0.85"/>
<circle cx="535.2" cy="157.4" r="1.55" fill="#fff" stroke="#111" stroke-width="0.85"/>
<circle cx="541.5" cy="157.0" r="1.55" fill="#fff" stroke="#111" stroke-width="0.85"/>
<circle cx="547.8" cy="158.8" r="1.55" fill="#fff" stroke="#111" stroke-width="0.85"/>
<circle cx="529.0" cy="162.7" r="1.55" fill="#fff" stroke="#111" stroke-width="0.85"/>
<circle cx="535.2" cy="163.8" r="1.55" fill="#fff" stroke="#111" stroke-width="0.85"/>
<circle cx="547.8" cy="165.1" r="1.55" fill="#fff" stroke="#111" stroke-width="0.85"/>
<circle cx="535.2" cy="166.6" r="1.55" fill="#fff" stroke="#111" stroke-width="0.85"/>
<circle cx="541.5" cy="166.6" r="1.55" fill="#fff" stroke="#111" stroke-width="0.85"/>
<circle cx="529.0" cy="169.0" r="1.55" fill="#fff" stroke="#111" stroke-width="0.85"/>
<circle cx="535.2" cy="169.3" r="1.55" fill="#fff" stroke="#111" stroke-width="0.85"/>
<circle cx="541.5" cy="169.3" r="1.55" fill="#fff" stroke="#111" stroke-width="0.85"/>
<circle cx="547.8" cy="170.1" r="1.55" fill="#fff" stroke="#111" stroke-width="0.85"/>
<circle cx="554.0" cy="170.8" r="1.55" fill="#fff" stroke="#111" stroke-width="0.85"/>
<circle cx="535.2" cy="172.3" r="1.55" fill="#fff" stroke="#111" stroke-width="0.85"/>
<circle cx="529.0" cy="173.5" r="1.55" fill="#fff" stroke="#111" stroke-width="0.85"/>
<circle cx="541.5" cy="172.9" r="1.55" fill="#fff" stroke="#111" stroke-width="0.85"/>
<circle cx="547.8" cy="174.8" r="1.55" fill="#fff" stroke="#111" stroke-width="0.85"/>
<circle cx="541.5" cy="177.6" r="1.55" fill="#fff" stroke="#111" stroke-width="0.85"/>
<circle cx="529.0" cy="178.5" r="1.55" fill="#fff" stroke="#111" stroke-width="0.85"/>
<circle cx="547.8" cy="178.5" r="1.55" fill="#fff" stroke="#111" stroke-width="0.85"/>
<circle cx="535.2" cy="180.0" r="1.55" fill="#fff" stroke="#111" stroke-width="0.85"/>
<circle cx="541.5" cy="181.8" r="1.55" fill="#fff" stroke="#111" stroke-width="0.85"/>
<circle cx="529.0" cy="183.3" r="1.55" fill="#fff" stroke="#111" stroke-width="0.85"/>
<circle cx="535.2" cy="184.0" r="1.55" fill="#fff" stroke="#111" stroke-width="0.85"/>
<circle cx="522.9" cy="187.2" r="1.55" fill="#fff" stroke="#111" stroke-width="0.85"/>
<circle cx="554.0" cy="187.0" r="1.55" fill="#fff" stroke="#111" stroke-width="0.85"/>
<circle cx="535.2" cy="187.8" r="1.55" fill="#fff" stroke="#111" stroke-width="0.85"/>
<circle cx="541.5" cy="189.7" r="1.55" fill="#fff" stroke="#111" stroke-width="0.85"/>
<circle cx="529.0" cy="190.8" r="1.55" fill="#fff" stroke="#111" stroke-width="0.85"/>
<circle cx="547.8" cy="190.6" r="1.55" fill="#fff" stroke="#111" stroke-width="0.85"/>
<circle cx="522.9" cy="193.9" r="1.55" fill="#fff" stroke="#111" stroke-width="0.85"/>
<circle cx="535.2" cy="193.6" r="1.55" fill="#fff" stroke="#111" stroke-width="0.85"/>
<circle cx="541.5" cy="193.6" r="1.55" fill="#fff" stroke="#111" stroke-width="0.85"/>
<circle cx="547.8" cy="193.6" r="1.55" fill="#fff" stroke="#111" stroke-width="0.85"/>
<circle cx="554.0" cy="193.1" r="1.55" fill="#fff" stroke="#111" stroke-width="0.85"/>
<circle cx="547.8" cy="195.3" r="1.55" fill="#fff" stroke="#111" stroke-width="0.85"/>
<circle cx="529.0" cy="197.7" r="1.55" fill="#fff" stroke="#111" stroke-width="0.85"/>
<circle cx="541.5" cy="197.7" r="1.55" fill="#fff" stroke="#111" stroke-width="0.85"/>
<circle cx="590.2" cy="74.3" r="1.75" fill="#000"/>
<circle cx="590.2" cy="86.0" r="1.75" fill="#000"/>
<circle cx="590.2" cy="93.7" r="1.75" fill="#000"/>
<circle cx="590.2" cy="99.7" r="1.75" fill="#000"/>
<circle cx="590.2" cy="103.3" r="1.75" fill="#000"/>
<circle cx="590.2" cy="111.9" r="1.75" fill="#000"/>
<circle cx="590.2" cy="123.5" r="1.75" fill="#000"/>
<circle cx="585.0" cy="127.3" r="1.75" fill="#000"/>
<circle cx="590.2" cy="127.3" r="1.75" fill="#000"/>
<circle cx="595.4" cy="127.3" r="1.75" fill="#000"/>
<circle cx="590.2" cy="135.4" r="1.75" fill="#000"/>
<circle cx="585.0" cy="139.0" r="1.75" fill="#000"/>
<circle cx="590.2" cy="139.5" r="1.75" fill="#000"/>
<circle cx="600.4" cy="139.8" r="1.75" fill="#000"/>
<circle cx="574.7" cy="140.9" r="1.75" fill="#000"/>
<circle cx="595.4" cy="141.6" r="1.75" fill="#000"/>
<circle cx="585.0" cy="142.9" r="1.75" fill="#000"/>
<circle cx="579.9" cy="145.7" r="1.75" fill="#000"/>
<circle cx="574.7" cy="147.6" r="1.75" fill="#000"/>
<circle cx="585.0" cy="149.0" r="1.75" fill="#000"/>
<circle cx="590.2" cy="148.4" r="1.75" fill="#000"/>
<circle cx="595.4" cy="148.8" r="1.75" fill="#000"/>
<circle cx="605.6" cy="148.2" r="1.75" fill="#000"/>
<circle cx="579.9" cy="150.6" r="1.75" fill="#000"/>
<circle cx="600.4" cy="150.1" r="1.75" fill="#000"/>
<circle cx="595.4" cy="153.9" r="1.75" fill="#000"/>
<circle cx="574.7" cy="156.5" r="1.75" fill="#000"/>
<circle cx="574.7" cy="160.2" r="1.75" fill="#000"/>
<circle cx="579.9" cy="159.8" r="1.75" fill="#000"/>
<circle cx="585.0" cy="157.6" r="1.75" fill="#000"/>
<circle cx="590.2" cy="158.0" r="1.75" fill="#000"/>
<circle cx="595.4" cy="158.9" r="1.75" fill="#000"/>
<circle cx="600.4" cy="160.3" r="1.75" fill="#000"/>
<circle cx="605.6" cy="159.2" r="1.75" fill="#000"/>
<circle cx="590.2" cy="162.2" r="1.75" fill="#000"/>
<circle cx="585.0" cy="168.6" r="1.75" fill="#000"/>
<circle cx="590.2" cy="168.6" r="1.75" fill="#000"/>
<circle cx="595.4" cy="169.4" r="1.75" fill="#000"/>
<circle cx="590.2" cy="176.0" r="1.75" fill="#000"/>
<circle cx="585.0" cy="185.2" r="1.75" fill="#000"/>
<circle cx="590.2" cy="183.7" r="1.75" fill="#000"/>
<circle cx="595.4" cy="185.9" r="1.75" fill="#000"/>
<circle cx="600.4" cy="184.5" r="1.75" fill="#000"/>
<circle cx="585.0" cy="188.9" r="1.75" fill="#000"/>
<line x1="529.9" y1="165.0" x2="546.9" y2="165.0" stroke="#e0412a" stroke-width="1" opacity="0.85"/>
<line x1="529.9" y1="170.8" x2="546.9" y2="170.8" stroke="#e0412a" stroke-width="1" opacity="0.85"/>
<line x1="538.4" y1="165.0" x2="538.4" y2="170.8" stroke="#e0412a" stroke-width="1" opacity="0.85"/>
<line x1="521.0" y1="168.0" x2="555.8" y2="168.0" stroke="#e0412a" stroke-width="2.2"/>
<line x1="581.6" y1="142.3" x2="598.2" y2="142.3" stroke="#e0412a" stroke-width="1" opacity="0.85"/>
<line x1="581.6" y1="150.4" x2="598.2" y2="150.4" stroke="#e0412a" stroke-width="1" opacity="0.85"/>
<line x1="589.9" y1="142.3" x2="589.9" y2="150.4" stroke="#e0412a" stroke-width="1" opacity="0.85"/>
<line x1="573.0" y1="146.3" x2="606.8" y2="146.3" stroke="#e0412a" stroke-width="2.2"/>
<path d="M540.6,48 V45.6 H590.6 V48" fill="none" stroke="#6a6a6a" stroke-width="1"/>
<polygon points="561.70,39.20 562.18,40.34 563.41,40.44 562.47,41.25 562.76,42.46 561.70,41.81 560.64,42.46 560.93,41.25 559.99,40.44 561.22,40.34" fill="#1a1a1a"/>
<polygon points="565.80,39.20 566.28,40.34 567.51,40.44 566.57,41.25 566.86,42.46 565.80,41.81 564.74,42.46 565.03,41.25 564.09,40.44 565.32,40.34" fill="#1a1a1a"/>
<polygon points="569.90,39.20 570.38,40.34 571.61,40.44 570.67,41.25 570.96,42.46 569.90,41.81 568.84,42.46 569.13,41.25 568.19,40.44 569.42,40.34" fill="#1a1a1a"/>
<circle cx="476.0" cy="326.4" r="1.6" fill="#fff" stroke="#111" stroke-width="0.85"/>
<circle cx="476.0" cy="346.7" r="1.6" fill="#fff" stroke="#111" stroke-width="0.85"/>
<circle cx="469.1" cy="366.1" r="1.6" fill="#fff" stroke="#111" stroke-width="0.85"/>
<circle cx="473.8" cy="366.9" r="1.6" fill="#fff" stroke="#111" stroke-width="0.85"/>
<circle cx="478.2" cy="366.7" r="1.6" fill="#fff" stroke="#111" stroke-width="0.85"/>
<circle cx="478.2" cy="373.5" r="1.6" fill="#fff" stroke="#111" stroke-width="0.85"/>
<circle cx="473.8" cy="375.5" r="1.6" fill="#fff" stroke="#111" stroke-width="0.85"/>
<circle cx="476.0" cy="379.6" r="1.6" fill="#fff" stroke="#111" stroke-width="0.85"/>
<circle cx="469.3" cy="389.4" r="1.6" fill="#fff" stroke="#111" stroke-width="0.85"/>
<circle cx="474.1" cy="389.4" r="1.6" fill="#fff" stroke="#111" stroke-width="0.85"/>
<circle cx="478.5" cy="391.8" r="1.6" fill="#fff" stroke="#111" stroke-width="0.85"/>
<circle cx="482.9" cy="389.6" r="1.6" fill="#fff" stroke="#111" stroke-width="0.85"/>
<circle cx="464.9" cy="393.3" r="1.6" fill="#fff" stroke="#111" stroke-width="0.85"/>
<circle cx="469.3" cy="395.7" r="1.6" fill="#fff" stroke="#111" stroke-width="0.85"/>
<circle cx="474.1" cy="394.4" r="1.6" fill="#fff" stroke="#111" stroke-width="0.85"/>
<circle cx="478.5" cy="396.0" r="1.6" fill="#fff" stroke="#111" stroke-width="0.85"/>
<circle cx="482.9" cy="395.2" r="1.6" fill="#fff" stroke="#111" stroke-width="0.85"/>
<circle cx="474.1" cy="398.2" r="1.6" fill="#fff" stroke="#111" stroke-width="0.85"/>
<circle cx="478.5" cy="401.3" r="1.6" fill="#fff" stroke="#111" stroke-width="0.85"/>
<circle cx="482.9" cy="399.9" r="1.6" fill="#fff" stroke="#111" stroke-width="0.85"/>
<circle cx="469.3" cy="404.9" r="1.6" fill="#fff" stroke="#111" stroke-width="0.85"/>
<circle cx="474.1" cy="404.9" r="1.6" fill="#fff" stroke="#111" stroke-width="0.85"/>
<circle cx="478.5" cy="406.5" r="1.6" fill="#fff" stroke="#111" stroke-width="0.85"/>
<circle cx="482.9" cy="404.9" r="1.6" fill="#fff" stroke="#111" stroke-width="0.85"/>
<circle cx="469.3" cy="408.2" r="1.6" fill="#fff" stroke="#111" stroke-width="0.85"/>
<circle cx="482.9" cy="408.7" r="1.6" fill="#fff" stroke="#111" stroke-width="0.85"/>
<circle cx="464.9" cy="411.7" r="1.6" fill="#fff" stroke="#111" stroke-width="0.85"/>
<circle cx="487.3" cy="411.5" r="1.6" fill="#fff" stroke="#111" stroke-width="0.85"/>
<circle cx="474.1" cy="413.5" r="1.6" fill="#fff" stroke="#111" stroke-width="0.85"/>
<circle cx="478.5" cy="414.2" r="1.6" fill="#fff" stroke="#111" stroke-width="0.85"/>
<circle cx="482.9" cy="413.1" r="1.6" fill="#fff" stroke="#111" stroke-width="0.85"/>
<circle cx="460.6" cy="421.4" r="1.6" fill="#fff" stroke="#111" stroke-width="0.85"/>
<circle cx="464.9" cy="422.0" r="1.6" fill="#fff" stroke="#111" stroke-width="0.85"/>
<circle cx="474.1" cy="421.2" r="1.6" fill="#fff" stroke="#111" stroke-width="0.85"/>
<circle cx="478.5" cy="423.1" r="1.6" fill="#fff" stroke="#111" stroke-width="0.85"/>
<circle cx="482.9" cy="421.6" r="1.6" fill="#fff" stroke="#111" stroke-width="0.85"/>
<circle cx="491.4" cy="418.7" r="1.6" fill="#fff" stroke="#111" stroke-width="0.85"/>
<circle cx="464.9" cy="425.8" r="1.6" fill="#fff" stroke="#111" stroke-width="0.85"/>
<circle cx="469.3" cy="424.5" r="1.6" fill="#fff" stroke="#111" stroke-width="0.85"/>
<circle cx="478.5" cy="426.7" r="1.6" fill="#fff" stroke="#111" stroke-width="0.85"/>
<circle cx="487.3" cy="424.2" r="1.6" fill="#fff" stroke="#111" stroke-width="0.85"/>
<circle cx="491.4" cy="423.6" r="1.6" fill="#fff" stroke="#111" stroke-width="0.85"/>
<circle cx="469.3" cy="428.0" r="1.6" fill="#fff" stroke="#111" stroke-width="0.85"/>
<circle cx="464.9" cy="430.0" r="1.6" fill="#fff" stroke="#111" stroke-width="0.85"/>
<circle cx="482.9" cy="428.6" r="1.6" fill="#fff" stroke="#111" stroke-width="0.85"/>
<circle cx="487.3" cy="427.5" r="1.6" fill="#fff" stroke="#111" stroke-width="0.85"/>
<circle cx="491.4" cy="428.9" r="1.6" fill="#fff" stroke="#111" stroke-width="0.85"/>
<circle cx="460.6" cy="431.4" r="1.6" fill="#fff" stroke="#111" stroke-width="0.85"/>
<circle cx="474.1" cy="431.4" r="1.6" fill="#fff" stroke="#111" stroke-width="0.85"/>
<circle cx="478.5" cy="431.9" r="1.6" fill="#fff" stroke="#111" stroke-width="0.85"/>
<circle cx="482.9" cy="431.9" r="1.6" fill="#fff" stroke="#111" stroke-width="0.85"/>
<circle cx="474.1" cy="436.3" r="1.6" fill="#fff" stroke="#111" stroke-width="0.85"/>
<circle cx="464.9" cy="437.4" r="1.6" fill="#fff" stroke="#111" stroke-width="0.85"/>
<circle cx="469.3" cy="439.3" r="1.6" fill="#fff" stroke="#111" stroke-width="0.85"/>
<circle cx="460.6" cy="440.7" r="1.6" fill="#fff" stroke="#111" stroke-width="0.85"/>
<circle cx="464.9" cy="441.8" r="1.6" fill="#fff" stroke="#111" stroke-width="0.85"/>
<circle cx="478.5" cy="440.7" r="1.6" fill="#fff" stroke="#111" stroke-width="0.85"/>
<circle cx="482.9" cy="439.6" r="1.6" fill="#fff" stroke="#111" stroke-width="0.85"/>
<circle cx="487.3" cy="438.0" r="1.6" fill="#fff" stroke="#111" stroke-width="0.85"/>
<circle cx="487.3" cy="441.8" r="1.6" fill="#fff" stroke="#111" stroke-width="0.85"/>
<circle cx="491.4" cy="436.7" r="1.6" fill="#fff" stroke="#111" stroke-width="0.85"/>
<circle cx="491.4" cy="439.6" r="1.6" fill="#fff" stroke="#111" stroke-width="0.85"/>
<circle cx="474.1" cy="443.0" r="1.6" fill="#fff" stroke="#111" stroke-width="0.85"/>
<circle cx="469.3" cy="445.2" r="1.6" fill="#fff" stroke="#111" stroke-width="0.85"/>
<circle cx="474.1" cy="446.8" r="1.6" fill="#fff" stroke="#111" stroke-width="0.85"/>
<circle cx="478.5" cy="445.7" r="1.6" fill="#fff" stroke="#111" stroke-width="0.85"/>
<circle cx="464.9" cy="448.1" r="1.6" fill="#fff" stroke="#111" stroke-width="0.85"/>
<circle cx="482.9" cy="448.1" r="1.6" fill="#fff" stroke="#111" stroke-width="0.85"/>
<circle cx="487.3" cy="446.8" r="1.6" fill="#fff" stroke="#111" stroke-width="0.85"/>
<circle cx="527.8" cy="300.5" r="1.8" fill="#000"/>
<circle cx="527.8" cy="304.3" r="1.8" fill="#000"/>
<circle cx="525.1" cy="322.6" r="1.8" fill="#000"/>
<circle cx="530.4" cy="323.3" r="1.8" fill="#000"/>
<circle cx="527.8" cy="327.0" r="1.8" fill="#000"/>
<circle cx="527.8" cy="331.4" r="1.8" fill="#000"/>
<circle cx="525.1" cy="338.9" r="1.8" fill="#000"/>
<circle cx="530.4" cy="340.8" r="1.8" fill="#000"/>
<circle cx="527.8" cy="344.4" r="1.8" fill="#000"/>
<circle cx="522.6" cy="347.9" r="1.8" fill="#000"/>
<circle cx="527.8" cy="348.3" r="1.8" fill="#000"/>
<circle cx="532.8" cy="346.6" r="1.8" fill="#000"/>
<circle cx="522.6" cy="353.2" r="1.8" fill="#000"/>
<circle cx="527.8" cy="355.7" r="1.8" fill="#000"/>
<circle cx="532.8" cy="354.0" r="1.8" fill="#000"/>
<circle cx="522.6" cy="367.0" r="1.8" fill="#000"/>
<circle cx="512.4" cy="370.8" r="1.8" fill="#000"/>
<circle cx="517.3" cy="370.0" r="1.8" fill="#000"/>
<circle cx="522.6" cy="372.2" r="1.8" fill="#000"/>
<circle cx="527.8" cy="369.2" r="1.8" fill="#000"/>
<circle cx="527.8" cy="373.0" r="1.8" fill="#000"/>
<circle cx="532.8" cy="373.6" r="1.8" fill="#000"/>
<circle cx="538.1" cy="371.1" r="1.8" fill="#000"/>
<circle cx="543.3" cy="370.6" r="1.8" fill="#000"/>
<circle cx="532.8" cy="377.7" r="1.8" fill="#000"/>
<circle cx="538.1" cy="376.6" r="1.8" fill="#000"/>
<circle cx="517.3" cy="379.7" r="1.8" fill="#000"/>
<circle cx="522.6" cy="380.7" r="1.8" fill="#000"/>
<circle cx="527.8" cy="382.1" r="1.8" fill="#000"/>
<circle cx="532.8" cy="381.6" r="1.8" fill="#000"/>
<circle cx="538.1" cy="381.9" r="1.8" fill="#000"/>
<circle cx="527.8" cy="386.7" r="1.8" fill="#000"/>
<circle cx="517.3" cy="391.8" r="1.8" fill="#000"/>
<circle cx="522.6" cy="391.8" r="1.8" fill="#000"/>
<circle cx="527.8" cy="391.5" r="1.8" fill="#000"/>
<circle cx="532.8" cy="394.2" r="1.8" fill="#000"/>
<circle cx="538.1" cy="393.1" r="1.8" fill="#000"/>
<circle cx="517.3" cy="395.9" r="1.8" fill="#000"/>
<circle cx="517.3" cy="400.5" r="1.8" fill="#000"/>
<circle cx="522.6" cy="402.0" r="1.8" fill="#000"/>
<circle cx="527.8" cy="401.4" r="1.8" fill="#000"/>
<circle cx="532.8" cy="402.3" r="1.8" fill="#000"/>
<circle cx="538.1" cy="402.0" r="1.8" fill="#000"/>
<circle cx="543.3" cy="399.4" r="1.8" fill="#000"/>
<circle cx="527.8" cy="405.3" r="1.8" fill="#000"/>
<circle cx="532.8" cy="407.2" r="1.8" fill="#000"/>
<circle cx="522.6" cy="410.3" r="1.8" fill="#000"/>
<circle cx="527.8" cy="411.4" r="1.8" fill="#000"/>
<circle cx="522.6" cy="414.1" r="1.8" fill="#000"/>
<circle cx="532.8" cy="413.9" r="1.8" fill="#000"/>
<circle cx="517.3" cy="416.3" r="1.8" fill="#000"/>
<circle cx="527.8" cy="417.1" r="1.8" fill="#000"/>
<circle cx="538.1" cy="416.3" r="1.8" fill="#000"/>
<circle cx="522.6" cy="421.6" r="1.8" fill="#000"/>
<circle cx="527.8" cy="423.7" r="1.8" fill="#000"/>
<circle cx="532.8" cy="423.2" r="1.8" fill="#000"/>
<circle cx="522.6" cy="427.6" r="1.8" fill="#000"/>
<circle cx="538.1" cy="427.6" r="1.8" fill="#000"/>
<circle cx="512.4" cy="429.9" r="1.8" fill="#000"/>
<circle cx="543.3" cy="430.1" r="1.8" fill="#000"/>
<circle cx="517.3" cy="432.6" r="1.8" fill="#000"/>
<circle cx="522.6" cy="431.6" r="1.8" fill="#000"/>
<circle cx="527.8" cy="431.6" r="1.8" fill="#000"/>
<circle cx="532.8" cy="432.6" r="1.8" fill="#000"/>
<circle cx="538.1" cy="431.2" r="1.8" fill="#000"/>
<circle cx="517.3" cy="437.1" r="1.8" fill="#000"/>
<circle cx="522.6" cy="439.2" r="1.8" fill="#000"/>
<circle cx="527.8" cy="437.0" r="1.8" fill="#000"/>
<circle cx="532.8" cy="436.5" r="1.8" fill="#000"/>
<circle cx="517.3" cy="442.3" r="1.8" fill="#000"/>
<circle cx="522.6" cy="443.6" r="1.8" fill="#000"/>
<circle cx="527.8" cy="445.0" r="1.8" fill="#000"/>
<circle cx="532.8" cy="445.0" r="1.8" fill="#000"/>
<circle cx="538.1" cy="442.8" r="1.8" fill="#000"/>
<circle cx="522.6" cy="446.9" r="1.8" fill="#000"/>
<line x1="467.4" y1="411.5" x2="484.6" y2="411.5" stroke="#e0412a" stroke-width="1" opacity="0.85"/>
<line x1="467.4" y1="417.8" x2="484.6" y2="417.8" stroke="#e0412a" stroke-width="1" opacity="0.85"/>
<line x1="476.0" y1="411.5" x2="476.0" y2="417.8" stroke="#e0412a" stroke-width="1" opacity="0.85"/>
<line x1="458.9" y1="414.8" x2="493.1" y2="414.8" stroke="#e0412a" stroke-width="2.2"/>
<line x1="519.5" y1="388.4" x2="536.1" y2="388.4" stroke="#e0412a" stroke-width="1" opacity="0.85"/>
<line x1="519.5" y1="397.3" x2="536.1" y2="397.3" stroke="#e0412a" stroke-width="1" opacity="0.85"/>
<line x1="527.8" y1="388.4" x2="527.8" y2="397.3" stroke="#e0412a" stroke-width="1" opacity="0.85"/>
<line x1="510.6" y1="392.6" x2="545.0" y2="392.6" stroke="#e0412a" stroke-width="2.2"/>
<path d="M476.6,295 V292.4 H527.2 V295" fill="none" stroke="#6a6a6a" stroke-width="1"/>
<polygon points="497.90,286.40 498.38,287.54 499.61,287.64 498.67,288.45 498.96,289.66 497.90,289.01 496.84,289.66 497.13,288.45 496.19,287.64 497.42,287.54" fill="#1a1a1a"/>
<polygon points="502.00,286.40 502.48,287.54 503.71,287.64 502.77,288.45 503.06,289.66 502.00,289.01 500.94,289.66 501.23,288.45 500.29,287.64 501.52,287.54" fill="#1a1a1a"/>
<polygon points="506.10,286.40 506.58,287.54 507.81,287.64 506.87,288.45 507.16,289.66 506.10,289.01 505.04,289.66 505.33,288.45 504.39,287.64 505.62,287.54" fill="#1a1a1a"/>
<circle cx="351.0" cy="103.5" r="1.7" fill="#fff" stroke="#111" stroke-width="1"/>
<circle cx="351.0" cy="109.7" r="1.7" fill="#fff" stroke="#111" stroke-width="1"/>
<circle cx="351.0" cy="114.9" r="1.7" fill="#fff" stroke="#111" stroke-width="1"/>
<circle cx="351.0" cy="117.7" r="1.7" fill="#fff" stroke="#111" stroke-width="1"/>
<circle cx="351.0" cy="120.5" r="1.7" fill="#fff" stroke="#111" stroke-width="1"/>
<circle cx="353.0" cy="121.6" r="1.7" fill="#fff" stroke="#111" stroke-width="1"/>
<circle cx="349.5" cy="122.3" r="1.7" fill="#fff" stroke="#111" stroke-width="1"/>
<circle cx="351.5" cy="123.3" r="1.7" fill="#fff" stroke="#111" stroke-width="1"/>
<circle cx="348.5" cy="124.2" r="1.7" fill="#fff" stroke="#111" stroke-width="1"/>
<circle cx="353.0" cy="124.8" r="1.7" fill="#fff" stroke="#111" stroke-width="1"/>
<circle cx="351.0" cy="125.7" r="1.7" fill="#fff" stroke="#111" stroke-width="1"/>
<circle cx="352.5" cy="127.2" r="1.7" fill="#fff" stroke="#111" stroke-width="1"/>
<circle cx="350.5" cy="128.0" r="1.7" fill="#fff" stroke="#111" stroke-width="1"/>
<circle cx="348.5" cy="129.0" r="1.7" fill="#fff" stroke="#111" stroke-width="1"/>
<circle cx="351.0" cy="130.7" r="1.7" fill="#fff" stroke="#111" stroke-width="1"/>
<circle cx="353.0" cy="131.5" r="1.7" fill="#fff" stroke="#111" stroke-width="1"/>
<circle cx="351.0" cy="132.8" r="1.7" fill="#fff" stroke="#111" stroke-width="1"/>
<circle cx="353.0" cy="133.6" r="1.7" fill="#fff" stroke="#111" stroke-width="1"/>
<circle cx="349.5" cy="134.6" r="1.7" fill="#fff" stroke="#111" stroke-width="1"/>
<circle cx="354.5" cy="135.2" r="1.7" fill="#fff" stroke="#111" stroke-width="1"/>
<circle cx="351.0" cy="136.4" r="1.7" fill="#fff" stroke="#111" stroke-width="1"/>
<circle cx="353.0" cy="137.3" r="1.7" fill="#fff" stroke="#111" stroke-width="1"/>
<circle cx="349.5" cy="137.9" r="1.7" fill="#fff" stroke="#111" stroke-width="1"/>
<circle cx="351.5" cy="138.8" r="1.7" fill="#fff" stroke="#111" stroke-width="1"/>
<circle cx="353.5" cy="139.5" r="1.7" fill="#fff" stroke="#111" stroke-width="1"/>
<circle cx="348.5" cy="139.9" r="1.7" fill="#fff" stroke="#111" stroke-width="1"/>
<circle cx="351.0" cy="141.1" r="1.7" fill="#fff" stroke="#111" stroke-width="1"/>
<circle cx="353.5" cy="141.7" r="1.7" fill="#fff" stroke="#111" stroke-width="1"/>
<circle cx="349.0" cy="142.2" r="1.7" fill="#fff" stroke="#111" stroke-width="1"/>
<circle cx="346.5" cy="142.7" r="1.7" fill="#fff" stroke="#111" stroke-width="1"/>
<circle cx="351.0" cy="143.8" r="1.7" fill="#fff" stroke="#111" stroke-width="1"/>
<circle cx="348.5" cy="144.3" r="1.7" fill="#fff" stroke="#111" stroke-width="1"/>
<circle cx="353.0" cy="145.0" r="1.7" fill="#fff" stroke="#111" stroke-width="1"/>
<circle cx="355.0" cy="145.7" r="1.7" fill="#fff" stroke="#111" stroke-width="1"/>
<circle cx="351.0" cy="146.3" r="1.7" fill="#fff" stroke="#111" stroke-width="1"/>
<circle cx="349.0" cy="147.1" r="1.7" fill="#fff" stroke="#111" stroke-width="1"/>
<circle cx="353.0" cy="147.2" r="1.7" fill="#fff" stroke="#111" stroke-width="1"/>
<circle cx="347.0" cy="148.1" r="1.7" fill="#fff" stroke="#111" stroke-width="1"/>
<circle cx="355.0" cy="148.4" r="1.7" fill="#fff" stroke="#111" stroke-width="1"/>
<circle cx="351.0" cy="149.3" r="1.7" fill="#fff" stroke="#111" stroke-width="1"/>
<circle cx="348.5" cy="149.7" r="1.7" fill="#fff" stroke="#111" stroke-width="1"/>
<circle cx="345.5" cy="149.8" r="1.7" fill="#fff" stroke="#111" stroke-width="1"/>
<circle cx="353.0" cy="150.2" r="1.7" fill="#fff" stroke="#111" stroke-width="1"/>
<circle cx="355.5" cy="150.7" r="1.7" fill="#fff" stroke="#111" stroke-width="1"/>
<circle cx="351.0" cy="151.7" r="1.7" fill="#fff" stroke="#111" stroke-width="1"/>
<circle cx="347.5" cy="151.8" r="1.7" fill="#fff" stroke="#111" stroke-width="1"/>
<circle cx="353.0" cy="152.4" r="1.7" fill="#fff" stroke="#111" stroke-width="1"/>
<circle cx="356.5" cy="152.6" r="1.7" fill="#fff" stroke="#111" stroke-width="1"/>
<circle cx="345.5" cy="153.1" r="1.7" fill="#fff" stroke="#111" stroke-width="1"/>
<circle cx="349.5" cy="153.4" r="1.7" fill="#fff" stroke="#111" stroke-width="1"/>
<circle cx="343.5" cy="153.8" r="1.7" fill="#fff" stroke="#111" stroke-width="1"/>
<circle cx="351.5" cy="154.4" r="1.7" fill="#fff" stroke="#111" stroke-width="1"/>
<circle cx="354.0" cy="154.7" r="1.7" fill="#fff" stroke="#111" stroke-width="1"/>
<circle cx="348.0" cy="155.1" r="1.7" fill="#fff" stroke="#111" stroke-width="1"/>
<circle cx="356.0" cy="155.4" r="1.7" fill="#fff" stroke="#111" stroke-width="1"/>
<circle cx="350.0" cy="155.9" r="1.7" fill="#fff" stroke="#111" stroke-width="1"/>
<circle cx="346.0" cy="156.1" r="1.7" fill="#fff" stroke="#111" stroke-width="1"/>
<circle cx="352.5" cy="156.5" r="1.7" fill="#fff" stroke="#111" stroke-width="1"/>
<circle cx="358.0" cy="156.6" r="1.7" fill="#fff" stroke="#111" stroke-width="1"/>
<circle cx="343.5" cy="156.6" r="1.7" fill="#fff" stroke="#111" stroke-width="1"/>
<circle cx="348.0" cy="157.3" r="1.7" fill="#fff" stroke="#111" stroke-width="1"/>
<circle cx="354.5" cy="157.7" r="1.7" fill="#fff" stroke="#111" stroke-width="1"/>
<circle cx="350.5" cy="157.9" r="1.7" fill="#fff" stroke="#111" stroke-width="1"/>
<circle cx="360.0" cy="157.9" r="1.7" fill="#fff" stroke="#111" stroke-width="1"/>
<circle cx="346.0" cy="158.3" r="1.7" fill="#fff" stroke="#111" stroke-width="1"/>
<circle cx="356.5" cy="158.3" r="1.7" fill="#fff" stroke="#111" stroke-width="1"/>
<circle cx="352.5" cy="158.9" r="1.7" fill="#fff" stroke="#111" stroke-width="1"/>
<circle cx="343.5" cy="158.9" r="1.7" fill="#fff" stroke="#111" stroke-width="1"/>
<circle cx="341.0" cy="159.1" r="1.7" fill="#fff" stroke="#111" stroke-width="1"/>
<circle cx="362.0" cy="159.1" r="1.7" fill="#fff" stroke="#111" stroke-width="1"/>
<circle cx="349.5" cy="159.8" r="1.7" fill="#fff" stroke="#111" stroke-width="1"/>
<circle cx="354.5" cy="159.9" r="1.7" fill="#fff" stroke="#111" stroke-width="1"/>
<circle cx="358.0" cy="160.1" r="1.7" fill="#fff" stroke="#111" stroke-width="1"/>
<circle cx="347.0" cy="160.4" r="1.7" fill="#fff" stroke="#111" stroke-width="1"/>
<circle cx="339.0" cy="160.5" r="1.7" fill="#fff" stroke="#111" stroke-width="1"/>
<circle cx="364.0" cy="160.5" r="1.7" fill="#fff" stroke="#111" stroke-width="1"/>
<circle cx="351.5" cy="160.8" r="1.7" fill="#fff" stroke="#111" stroke-width="1"/>
<circle cx="345.0" cy="161.2" r="1.7" fill="#fff" stroke="#111" stroke-width="1"/>
<circle cx="342.5" cy="161.3" r="1.7" fill="#fff" stroke="#111" stroke-width="1"/>
<circle cx="356.0" cy="161.5" r="1.7" fill="#fff" stroke="#111" stroke-width="1"/>
<circle cx="359.5" cy="161.6" r="1.7" fill="#fff" stroke="#111" stroke-width="1"/>
<circle cx="353.5" cy="161.8" r="1.7" fill="#fff" stroke="#111" stroke-width="1"/>
<circle cx="349.5" cy="162.1" r="1.7" fill="#fff" stroke="#111" stroke-width="1"/>
<circle cx="340.5" cy="162.1" r="1.7" fill="#fff" stroke="#111" stroke-width="1"/>
<circle cx="347.0" cy="162.6" r="1.7" fill="#fff" stroke="#111" stroke-width="1"/>
<circle cx="361.5" cy="162.8" r="1.7" fill="#fff" stroke="#111" stroke-width="1"/>
<circle cx="351.5" cy="162.9" r="1.7" fill="#fff" stroke="#111" stroke-width="1"/>
<circle cx="338.5" cy="163.0" r="1.7" fill="#fff" stroke="#111" stroke-width="1"/>
<circle cx="357.5" cy="163.0" r="1.7" fill="#fff" stroke="#111" stroke-width="1"/>
<circle cx="344.5" cy="163.3" r="1.7" fill="#fff" stroke="#111" stroke-width="1"/>
<circle cx="355.0" cy="163.4" r="1.7" fill="#fff" stroke="#111" stroke-width="1"/>
<circle cx="363.5" cy="163.6" r="1.7" fill="#fff" stroke="#111" stroke-width="1"/>
<circle cx="342.0" cy="163.6" r="1.7" fill="#fff" stroke="#111" stroke-width="1"/>
<circle cx="359.5" cy="163.9" r="1.7" fill="#fff" stroke="#111" stroke-width="1"/>
<circle cx="336.5" cy="164.1" r="1.7" fill="#fff" stroke="#111" stroke-width="1"/>
<circle cx="349.5" cy="164.2" r="1.7" fill="#fff" stroke="#111" stroke-width="1"/>
<circle cx="365.5" cy="164.3" r="1.7" fill="#fff" stroke="#111" stroke-width="1"/>
<circle cx="353.0" cy="164.7" r="1.7" fill="#fff" stroke="#111" stroke-width="1"/>
<circle cx="347.5" cy="164.9" r="1.7" fill="#fff" stroke="#111" stroke-width="1"/>
<circle cx="356.5" cy="165.2" r="1.7" fill="#fff" stroke="#111" stroke-width="1"/>
<circle cx="343.5" cy="165.3" r="1.7" fill="#fff" stroke="#111" stroke-width="1"/>
<circle cx="361.0" cy="165.4" r="1.7" fill="#fff" stroke="#111" stroke-width="1"/>
<circle cx="341.0" cy="165.5" r="1.7" fill="#fff" stroke="#111" stroke-width="1"/>
<circle cx="338.5" cy="165.6" r="1.7" fill="#fff" stroke="#111" stroke-width="1"/>
<circle cx="351.0" cy="165.9" r="1.7" fill="#fff" stroke="#111" stroke-width="1"/>
<circle cx="345.5" cy="166.0" r="1.7" fill="#fff" stroke="#111" stroke-width="1"/>
<circle cx="358.5" cy="166.1" r="1.7" fill="#fff" stroke="#111" stroke-width="1"/>
<circle cx="354.5" cy="166.3" r="1.7" fill="#fff" stroke="#111" stroke-width="1"/>
<circle cx="349.0" cy="166.6" r="1.7" fill="#fff" stroke="#111" stroke-width="1"/>
<circle cx="363.0" cy="166.7" r="1.7" fill="#fff" stroke="#111" stroke-width="1"/>
<circle cx="336.5" cy="166.7" r="1.7" fill="#fff" stroke="#111" stroke-width="1"/>
<circle cx="365.5" cy="166.8" r="1.7" fill="#fff" stroke="#111" stroke-width="1"/>
<circle cx="368.0" cy="167.0" r="1.7" fill="#fff" stroke="#111" stroke-width="1"/>
<circle cx="334.0" cy="167.1" r="1.7" fill="#fff" stroke="#111" stroke-width="1"/>
<circle cx="352.5" cy="167.5" r="1.7" fill="#fff" stroke="#111" stroke-width="1"/>
<circle cx="347.0" cy="167.5" r="1.7" fill="#fff" stroke="#111" stroke-width="1"/>
<circle cx="356.5" cy="167.6" r="1.7" fill="#fff" stroke="#111" stroke-width="1"/>
<circle cx="344.0" cy="167.6" r="1.7" fill="#fff" stroke="#111" stroke-width="1"/>
<circle cx="360.0" cy="167.8" r="1.7" fill="#fff" stroke="#111" stroke-width="1"/>
<circle cx="341.5" cy="168.0" r="1.7" fill="#fff" stroke="#111" stroke-width="1"/>
<circle cx="350.5" cy="168.1" r="1.7" fill="#fff" stroke="#111" stroke-width="1"/>
<circle cx="354.5" cy="168.4" r="1.7" fill="#fff" stroke="#111" stroke-width="1"/>
<circle cx="339.0" cy="168.5" r="1.7" fill="#fff" stroke="#111" stroke-width="1"/>
<circle cx="362.0" cy="168.7" r="1.7" fill="#fff" stroke="#111" stroke-width="1"/>
<circle cx="364.5" cy="169.0" r="1.7" fill="#fff" stroke="#111" stroke-width="1"/>
<circle cx="336.5" cy="169.0" r="1.7" fill="#fff" stroke="#111" stroke-width="1"/>
<circle cx="348.5" cy="169.2" r="1.7" fill="#fff" stroke="#111" stroke-width="1"/>
<circle cx="345.5" cy="169.3" r="1.7" fill="#fff" stroke="#111" stroke-width="1"/>
<circle cx="357.5" cy="169.5" r="1.7" fill="#fff" stroke="#111" stroke-width="1"/>
<circle cx="352.0" cy="169.6" r="1.7" fill="#fff" stroke="#111" stroke-width="1"/>
<circle cx="343.0" cy="169.7" r="1.7" fill="#fff" stroke="#111" stroke-width="1"/>
<circle cx="366.5" cy="169.7" r="1.7" fill="#fff" stroke="#111" stroke-width="1"/>
<circle cx="359.5" cy="170.2" r="1.7" fill="#fff" stroke="#111" stroke-width="1"/>
<circle cx="340.5" cy="170.3" r="1.7" fill="#fff" stroke="#111" stroke-width="1"/>
<circle cx="354.0" cy="170.6" r="1.7" fill="#fff" stroke="#111" stroke-width="1"/>
<circle cx="363.0" cy="170.6" r="1.7" fill="#fff" stroke="#111" stroke-width="1"/>
<circle cx="350.0" cy="170.8" r="1.7" fill="#fff" stroke="#111" stroke-width="1"/>
<circle cx="347.0" cy="170.8" r="1.7" fill="#fff" stroke="#111" stroke-width="1"/>
<circle cx="338.5" cy="170.9" r="1.7" fill="#fff" stroke="#111" stroke-width="1"/>
<circle cx="336.0" cy="171.1" r="1.7" fill="#fff" stroke="#111" stroke-width="1"/>
<circle cx="356.0" cy="171.2" r="1.7" fill="#fff" stroke="#111" stroke-width="1"/>
<circle cx="345.0" cy="171.6" r="1.7" fill="#fff" stroke="#111" stroke-width="1"/>
<circle cx="365.0" cy="171.6" r="1.7" fill="#fff" stroke="#111" stroke-width="1"/>
<circle cx="352.0" cy="171.7" r="1.7" fill="#fff" stroke="#111" stroke-width="1"/>
<circle cx="342.5" cy="171.8" r="1.7" fill="#fff" stroke="#111" stroke-width="1"/>
<circle cx="358.0" cy="172.2" r="1.7" fill="#fff" stroke="#111" stroke-width="1"/>
<circle cx="348.5" cy="172.3" r="1.7" fill="#fff" stroke="#111" stroke-width="1"/>
<circle cx="360.5" cy="172.5" r="1.7" fill="#fff" stroke="#111" stroke-width="1"/>
<circle cx="340.5" cy="172.5" r="1.7" fill="#fff" stroke="#111" stroke-width="1"/>
<circle cx="367.0" cy="172.5" r="1.7" fill="#fff" stroke="#111" stroke-width="1"/>
<circle cx="354.0" cy="172.9" r="1.7" fill="#fff" stroke="#111" stroke-width="1"/>
<circle cx="363.0" cy="173.0" r="1.7" fill="#fff" stroke="#111" stroke-width="1"/>
<circle cx="346.5" cy="173.1" r="1.7" fill="#fff" stroke="#111" stroke-width="1"/>
<circle cx="350.5" cy="173.4" r="1.7" fill="#fff" stroke="#111" stroke-width="1"/>
<circle cx="344.0" cy="173.5" r="1.7" fill="#fff" stroke="#111" stroke-width="1"/>
<circle cx="356.0" cy="173.7" r="1.7" fill="#fff" stroke="#111" stroke-width="1"/>
<circle cx="338.5" cy="173.8" r="1.7" fill="#fff" stroke="#111" stroke-width="1"/>
<circle cx="365.0" cy="174.0" r="1.7" fill="#fff" stroke="#111" stroke-width="1"/>
<circle cx="358.0" cy="174.4" r="1.7" fill="#fff" stroke="#111" stroke-width="1"/>
<circle cx="342.0" cy="174.4" r="1.7" fill="#fff" stroke="#111" stroke-width="1"/>
<circle cx="352.5" cy="174.5" r="1.7" fill="#fff" stroke="#111" stroke-width="1"/>
<circle cx="348.5" cy="174.8" r="1.7" fill="#fff" stroke="#111" stroke-width="1"/>
<circle cx="360.5" cy="174.8" r="1.7" fill="#fff" stroke="#111" stroke-width="1"/>
<circle cx="354.5" cy="175.2" r="1.7" fill="#fff" stroke="#111" stroke-width="1"/>
<circle cx="346.0" cy="175.4" r="1.7" fill="#fff" stroke="#111" stroke-width="1"/>
<circle cx="340.0" cy="175.4" r="1.7" fill="#fff" stroke="#111" stroke-width="1"/>
<circle cx="350.5" cy="175.5" r="1.7" fill="#fff" stroke="#111" stroke-width="1"/>
<circle cx="362.5" cy="175.6" r="1.7" fill="#fff" stroke="#111" stroke-width="1"/>
<circle cx="356.5" cy="176.0" r="1.7" fill="#fff" stroke="#111" stroke-width="1"/>
<circle cx="344.0" cy="176.0" r="1.7" fill="#fff" stroke="#111" stroke-width="1"/>
<circle cx="359.0" cy="176.5" r="1.7" fill="#fff" stroke="#111" stroke-width="1"/>
<circle cx="338.0" cy="176.5" r="1.7" fill="#fff" stroke="#111" stroke-width="1"/>
<circle cx="352.5" cy="176.7" r="1.7" fill="#fff" stroke="#111" stroke-width="1"/>
<circle cx="342.0" cy="176.8" r="1.7" fill="#fff" stroke="#111" stroke-width="1"/>
<circle cx="349.0" cy="177.3" r="1.7" fill="#fff" stroke="#111" stroke-width="1"/>
<circle cx="354.5" cy="177.4" r="1.7" fill="#fff" stroke="#111" stroke-width="1"/>
<circle cx="346.5" cy="177.6" r="1.7" fill="#fff" stroke="#111" stroke-width="1"/>
<circle cx="361.0" cy="177.7" r="1.7" fill="#fff" stroke="#111" stroke-width="1"/>
<circle cx="340.0" cy="177.7" r="1.7" fill="#fff" stroke="#111" stroke-width="1"/>
<circle cx="357.5" cy="178.0" r="1.7" fill="#fff" stroke="#111" stroke-width="1"/>
<circle cx="351.0" cy="178.4" r="1.7" fill="#fff" stroke="#111" stroke-width="1"/>
<circle cx="344.5" cy="178.5" r="1.7" fill="#fff" stroke="#111" stroke-width="1"/>
<circle cx="363.0" cy="178.6" r="1.7" fill="#fff" stroke="#111" stroke-width="1"/>
<circle cx="338.0" cy="178.9" r="1.7" fill="#fff" stroke="#111" stroke-width="1"/>
<circle cx="353.0" cy="179.1" r="1.7" fill="#fff" stroke="#111" stroke-width="1"/>
<circle cx="348.0" cy="179.2" r="1.7" fill="#fff" stroke="#111" stroke-width="1"/>
<circle cx="355.5" cy="179.6" r="1.7" fill="#fff" stroke="#111" stroke-width="1"/>
<circle cx="359.0" cy="179.7" r="1.7" fill="#fff" stroke="#111" stroke-width="1"/>
<circle cx="342.5" cy="179.9" r="1.7" fill="#fff" stroke="#111" stroke-width="1"/>
<circle cx="351.0" cy="180.6" r="1.7" fill="#fff" stroke="#111" stroke-width="1"/>
<circle cx="346.5" cy="180.7" r="1.7" fill="#fff" stroke="#111" stroke-width="1"/>
<circle cx="361.0" cy="181.0" r="1.7" fill="#fff" stroke="#111" stroke-width="1"/>
<circle cx="340.5" cy="181.0" r="1.7" fill="#fff" stroke="#111" stroke-width="1"/>
<circle cx="349.0" cy="181.6" r="1.7" fill="#fff" stroke="#111" stroke-width="1"/>
<circle cx="353.0" cy="181.6" r="1.7" fill="#fff" stroke="#111" stroke-width="1"/>
<circle cx="355.5" cy="181.8" r="1.7" fill="#fff" stroke="#111" stroke-width="1"/>
<circle cx="345.0" cy="182.2" r="1.7" fill="#fff" stroke="#111" stroke-width="1"/>
<circle cx="357.5" cy="182.5" r="1.7" fill="#fff" stroke="#111" stroke-width="1"/>
<circle cx="351.0" cy="182.7" r="1.7" fill="#fff" stroke="#111" stroke-width="1"/>
<circle cx="347.0" cy="182.9" r="1.7" fill="#fff" stroke="#111" stroke-width="1"/>
<circle cx="343.0" cy="183.1" r="1.7" fill="#fff" stroke="#111" stroke-width="1"/>
<circle cx="359.5" cy="183.4" r="1.7" fill="#fff" stroke="#111" stroke-width="1"/>
<circle cx="354.0" cy="183.6" r="1.7" fill="#fff" stroke="#111" stroke-width="1"/>
<circle cx="349.0" cy="183.9" r="1.7" fill="#fff" stroke="#111" stroke-width="1"/>
<circle cx="352.0" cy="184.6" r="1.7" fill="#fff" stroke="#111" stroke-width="1"/>
<circle cx="356.0" cy="184.8" r="1.7" fill="#fff" stroke="#111" stroke-width="1"/>
<circle cx="347.5" cy="185.4" r="1.7" fill="#fff" stroke="#111" stroke-width="1"/>
<circle cx="345.0" cy="185.5" r="1.7" fill="#fff" stroke="#111" stroke-width="1"/>
<circle cx="350.5" cy="186.3" r="1.7" fill="#fff" stroke="#111" stroke-width="1"/>
<circle cx="353.0" cy="186.6" r="1.7" fill="#fff" stroke="#111" stroke-width="1"/>
<circle cx="355.5" cy="187.3" r="1.7" fill="#fff" stroke="#111" stroke-width="1"/>
<circle cx="348.5" cy="187.7" r="1.7" fill="#fff" stroke="#111" stroke-width="1"/>
<circle cx="351.5" cy="188.2" r="1.7" fill="#fff" stroke="#111" stroke-width="1"/>
<circle cx="346.5" cy="188.6" r="1.7" fill="#fff" stroke="#111" stroke-width="1"/>
<circle cx="353.5" cy="189.0" r="1.7" fill="#fff" stroke="#111" stroke-width="1"/>
<circle cx="350.5" cy="190.2" r="1.7" fill="#fff" stroke="#111" stroke-width="1"/>
<circle cx="352.5" cy="190.9" r="1.7" fill="#fff" stroke="#111" stroke-width="1"/>
<circle cx="402.4" cy="62.7" r="1.8" fill="#000"/>
<circle cx="402.4" cy="67.7" r="1.8" fill="#000"/>
<circle cx="404.4" cy="69.1" r="1.8" fill="#000"/>
<circle cx="402.4" cy="70.5" r="1.8" fill="#000"/>
<circle cx="402.4" cy="82.9" r="1.8" fill="#000"/>
<circle cx="402.4" cy="86.6" r="1.8" fill="#000"/>
<circle cx="400.4" cy="88.2" r="1.8" fill="#000"/>
<circle cx="402.4" cy="95.2" r="1.8" fill="#000"/>
<circle cx="402.4" cy="103.4" r="1.8" fill="#000"/>
<circle cx="400.9" cy="105.3" r="1.8" fill="#000"/>
<circle cx="402.9" cy="107.0" r="1.8" fill="#000"/>
<circle cx="400.9" cy="108.6" r="1.8" fill="#000"/>
<circle cx="402.9" cy="109.7" r="1.8" fill="#000"/>
<circle cx="400.9" cy="111.2" r="1.8" fill="#000"/>
<circle cx="403.9" cy="111.9" r="1.8" fill="#000"/>
<circle cx="401.9" cy="113.5" r="1.8" fill="#000"/>
<circle cx="403.9" cy="115.1" r="1.8" fill="#000"/>
<circle cx="401.4" cy="116.2" r="1.8" fill="#000"/>
<circle cx="403.4" cy="117.5" r="1.8" fill="#000"/>
<circle cx="400.4" cy="118.4" r="1.8" fill="#000"/>
<circle cx="402.4" cy="119.8" r="1.8" fill="#000"/>
<circle cx="399.9" cy="120.6" r="1.8" fill="#000"/>
<circle cx="403.9" cy="121.8" r="1.8" fill="#000"/>
<circle cx="401.4" cy="122.7" r="1.8" fill="#000"/>
<circle cx="398.9" cy="123.2" r="1.8" fill="#000"/>
<circle cx="403.4" cy="124.1" r="1.8" fill="#000"/>
<circle cx="405.9" cy="124.9" r="1.8" fill="#000"/>
<circle cx="401.9" cy="125.9" r="1.8" fill="#000"/>
<circle cx="399.4" cy="126.6" r="1.8" fill="#000"/>
<circle cx="404.4" cy="126.8" r="1.8" fill="#000"/>
<circle cx="406.9" cy="127.9" r="1.8" fill="#000"/>
<circle cx="397.4" cy="128.1" r="1.8" fill="#000"/>
<circle cx="402.4" cy="129.0" r="1.8" fill="#000"/>
<circle cx="399.9" cy="129.3" r="1.8" fill="#000"/>
<circle cx="404.9" cy="129.8" r="1.8" fill="#000"/>
<circle cx="397.9" cy="130.9" r="1.8" fill="#000"/>
<circle cx="406.9" cy="131.0" r="1.8" fill="#000"/>
<circle cx="402.4" cy="131.6" r="1.8" fill="#000"/>
<circle cx="399.9" cy="132.6" r="1.8" fill="#000"/>
<circle cx="404.4" cy="133.1" r="1.8" fill="#000"/>
<circle cx="407.4" cy="133.3" r="1.8" fill="#000"/>
<circle cx="401.9" cy="134.2" r="1.8" fill="#000"/>
<circle cx="398.4" cy="134.4" r="1.8" fill="#000"/>
<circle cx="395.9" cy="135.0" r="1.8" fill="#000"/>
<circle cx="405.9" cy="135.1" r="1.8" fill="#000"/>
<circle cx="403.4" cy="136.1" r="1.8" fill="#000"/>
<circle cx="400.9" cy="136.3" r="1.8" fill="#000"/>
<circle cx="398.4" cy="137.0" r="1.8" fill="#000"/>
<circle cx="406.9" cy="137.3" r="1.8" fill="#000"/>
<circle cx="395.9" cy="137.4" r="1.8" fill="#000"/>
<circle cx="409.4" cy="137.8" r="1.8" fill="#000"/>
<circle cx="393.4" cy="138.1" r="1.8" fill="#000"/>
<circle cx="402.4" cy="138.6" r="1.8" fill="#000"/>
<circle cx="399.9" cy="138.8" r="1.8" fill="#000"/>
<circle cx="404.9" cy="139.4" r="1.8" fill="#000"/>
<circle cx="407.4" cy="140.0" r="1.8" fill="#000"/>
<circle cx="397.9" cy="140.0" r="1.8" fill="#000"/>
<circle cx="401.4" cy="140.8" r="1.8" fill="#000"/>
<circle cx="395.4" cy="141.0" r="1.8" fill="#000"/>
<circle cx="409.4" cy="141.3" r="1.8" fill="#000"/>
<circle cx="403.4" cy="142.0" r="1.8" fill="#000"/>
<circle cx="399.4" cy="142.1" r="1.8" fill="#000"/>
<circle cx="405.9" cy="142.4" r="1.8" fill="#000"/>
<circle cx="396.9" cy="142.8" r="1.8" fill="#000"/>
<circle cx="394.4" cy="143.1" r="1.8" fill="#000"/>
<circle cx="410.9" cy="143.2" r="1.8" fill="#000"/>
<circle cx="401.4" cy="143.7" r="1.8" fill="#000"/>
<circle cx="407.9" cy="144.0" r="1.8" fill="#000"/>
<circle cx="403.9" cy="144.4" r="1.8" fill="#000"/>
<circle cx="398.9" cy="144.5" r="1.8" fill="#000"/>
<circle cx="392.4" cy="144.8" r="1.8" fill="#000"/>
<circle cx="396.4" cy="145.3" r="1.8" fill="#000"/>
<circle cx="409.9" cy="145.3" r="1.8" fill="#000"/>
<circle cx="405.9" cy="145.6" r="1.8" fill="#000"/>
<circle cx="412.4" cy="145.6" r="1.8" fill="#000"/>
<circle cx="389.9" cy="145.9" r="1.8" fill="#000"/>
<circle cx="402.4" cy="146.2" r="1.8" fill="#000"/>
<circle cx="399.9" cy="146.7" r="1.8" fill="#000"/>
<circle cx="407.9" cy="147.0" r="1.8" fill="#000"/>
<circle cx="404.4" cy="147.4" r="1.8" fill="#000"/>
<circle cx="397.4" cy="147.7" r="1.8" fill="#000"/>
<circle cx="394.9" cy="147.8" r="1.8" fill="#000"/>
<circle cx="410.4" cy="148.0" r="1.8" fill="#000"/>
<circle cx="392.4" cy="148.1" r="1.8" fill="#000"/>
<circle cx="412.9" cy="148.4" r="1.8" fill="#000"/>
<circle cx="402.4" cy="148.7" r="1.8" fill="#000"/>
<circle cx="406.4" cy="148.8" r="1.8" fill="#000"/>
<circle cx="399.9" cy="149.2" r="1.8" fill="#000"/>
<circle cx="390.4" cy="149.5" r="1.8" fill="#000"/>
<circle cx="415.4" cy="149.5" r="1.8" fill="#000"/>
<circle cx="408.9" cy="149.7" r="1.8" fill="#000"/>
<circle cx="404.4" cy="150.0" r="1.8" fill="#000"/>
<circle cx="397.4" cy="150.3" r="1.8" fill="#000"/>
<circle cx="394.9" cy="150.3" r="1.8" fill="#000"/>
<circle cx="411.4" cy="150.7" r="1.8" fill="#000"/>
<circle cx="392.4" cy="150.9" r="1.8" fill="#000"/>
<circle cx="401.9" cy="151.1" r="1.8" fill="#000"/>
<circle cx="406.4" cy="151.4" r="1.8" fill="#000"/>
<circle cx="413.9" cy="151.5" r="1.8" fill="#000"/>
<circle cx="388.9" cy="151.5" r="1.8" fill="#000"/>
<circle cx="399.4" cy="151.7" r="1.8" fill="#000"/>
<circle cx="416.4" cy="151.8" r="1.8" fill="#000"/>
<circle cx="386.4" cy="151.9" r="1.8" fill="#000"/>
<circle cx="408.9" cy="152.2" r="1.8" fill="#000"/>
<circle cx="403.9" cy="152.7" r="1.8" fill="#000"/>
<circle cx="396.9" cy="152.8" r="1.8" fill="#000"/>
<circle cx="394.4" cy="152.9" r="1.8" fill="#000"/>
<circle cx="411.4" cy="153.1" r="1.8" fill="#000"/>
<circle cx="401.4" cy="153.5" r="1.8" fill="#000"/>
<circle cx="391.9" cy="153.6" r="1.8" fill="#000"/>
<circle cx="406.9" cy="153.7" r="1.8" fill="#000"/>
<circle cx="414.4" cy="153.7" r="1.8" fill="#000"/>
<circle cx="398.9" cy="154.2" r="1.8" fill="#000"/>
<circle cx="409.4" cy="154.5" r="1.8" fill="#000"/>
<circle cx="389.4" cy="154.5" r="1.8" fill="#000"/>
<circle cx="416.9" cy="154.6" r="1.8" fill="#000"/>
<circle cx="386.9" cy="154.7" r="1.8" fill="#000"/>
<circle cx="404.9" cy="154.9" r="1.8" fill="#000"/>
<circle cx="396.9" cy="155.3" r="1.8" fill="#000"/>
<circle cx="394.4" cy="155.4" r="1.8" fill="#000"/>
<circle cx="411.9" cy="155.6" r="1.8" fill="#000"/>
<circle cx="402.4" cy="155.8" r="1.8" fill="#000"/>
<circle cx="406.9" cy="156.1" r="1.8" fill="#000"/>
<circle cx="399.9" cy="156.5" r="1.8" fill="#000"/>
<circle cx="391.9" cy="156.5" r="1.8" fill="#000"/>
<circle cx="414.4" cy="156.6" r="1.8" fill="#000"/>
<circle cx="409.9" cy="156.8" r="1.8" fill="#000"/>
<circle cx="389.4" cy="156.9" r="1.8" fill="#000"/>
<circle cx="417.4" cy="156.9" r="1.8" fill="#000"/>
<circle cx="404.4" cy="157.4" r="1.8" fill="#000"/>
<circle cx="395.9" cy="157.5" r="1.8" fill="#000"/>
<circle cx="386.9" cy="157.7" r="1.8" fill="#000"/>
<circle cx="401.9" cy="158.2" r="1.8" fill="#000"/>
<circle cx="398.4" cy="158.3" r="1.8" fill="#000"/>
<circle cx="406.9" cy="158.5" r="1.8" fill="#000"/>
<circle cx="393.4" cy="158.6" r="1.8" fill="#000"/>
<circle cx="411.4" cy="158.7" r="1.8" fill="#000"/>
<circle cx="413.9" cy="158.9" r="1.8" fill="#000"/>
<circle cx="390.9" cy="159.0" r="1.8" fill="#000"/>
<circle cx="416.4" cy="159.1" r="1.8" fill="#000"/>
<circle cx="418.9" cy="159.3" r="1.8" fill="#000"/>
<circle cx="384.9" cy="159.4" r="1.8" fill="#000"/>
<circle cx="403.9" cy="159.7" r="1.8" fill="#000"/>
<circle cx="400.9" cy="160.3" r="1.8" fill="#000"/>
<circle cx="397.4" cy="160.5" r="1.8" fill="#000"/>
<circle cx="408.4" cy="160.5" r="1.8" fill="#000"/>
<circle cx="394.9" cy="160.6" r="1.8" fill="#000"/>
<circle cx="388.9" cy="160.7" r="1.8" fill="#000"/>
<circle cx="420.9" cy="160.7" r="1.8" fill="#000"/>
<circle cx="405.9" cy="161.0" r="1.8" fill="#000"/>
<circle cx="410.9" cy="161.5" r="1.8" fill="#000"/>
<circle cx="392.4" cy="161.6" r="1.8" fill="#000"/>
<circle cx="413.4" cy="161.7" r="1.8" fill="#000"/>
<circle cx="402.4" cy="162.1" r="1.8" fill="#000"/>
<circle cx="399.4" cy="162.3" r="1.8" fill="#000"/>
<circle cx="415.9" cy="162.4" r="1.8" fill="#000"/>
<circle cx="396.4" cy="162.6" r="1.8" fill="#000"/>
<circle cx="407.4" cy="162.8" r="1.8" fill="#000"/>
<circle cx="390.4" cy="162.9" r="1.8" fill="#000"/>
<circle cx="404.9" cy="163.2" r="1.8" fill="#000"/>
<circle cx="387.9" cy="163.2" r="1.8" fill="#000"/>
<circle cx="393.9" cy="163.4" r="1.8" fill="#000"/>
<circle cx="409.9" cy="163.8" r="1.8" fill="#000"/>
<circle cx="412.4" cy="163.9" r="1.8" fill="#000"/>
<circle cx="417.9" cy="163.9" r="1.8" fill="#000"/>
<circle cx="402.4" cy="164.5" r="1.8" fill="#000"/>
<circle cx="398.4" cy="164.5" r="1.8" fill="#000"/>
<circle cx="414.9" cy="164.5" r="1.8" fill="#000"/>
<circle cx="391.9" cy="164.6" r="1.8" fill="#000"/>
<circle cx="406.4" cy="165.0" r="1.8" fill="#000"/>
<circle cx="395.9" cy="165.1" r="1.8" fill="#000"/>
<circle cx="389.4" cy="165.5" r="1.8" fill="#000"/>
<circle cx="386.9" cy="165.6" r="1.8" fill="#000"/>
<circle cx="400.4" cy="166.0" r="1.8" fill="#000"/>
<circle cx="408.9" cy="166.1" r="1.8" fill="#000"/>
<circle cx="403.9" cy="166.3" r="1.8" fill="#000"/>
<circle cx="393.9" cy="166.4" r="1.8" fill="#000"/>
<circle cx="411.4" cy="166.7" r="1.8" fill="#000"/>
<circle cx="397.9" cy="166.9" r="1.8" fill="#000"/>
<circle cx="391.4" cy="167.1" r="1.8" fill="#000"/>
<circle cx="413.9" cy="167.2" r="1.8" fill="#000"/>
<circle cx="405.9" cy="167.6" r="1.8" fill="#000"/>
<circle cx="401.9" cy="167.8" r="1.8" fill="#000"/>
<circle cx="388.9" cy="167.9" r="1.8" fill="#000"/>
<circle cx="395.9" cy="168.3" r="1.8" fill="#000"/>
<circle cx="408.4" cy="168.4" r="1.8" fill="#000"/>
<circle cx="415.9" cy="168.5" r="1.8" fill="#000"/>
<circle cx="418.4" cy="168.6" r="1.8" fill="#000"/>
<circle cx="399.4" cy="168.7" r="1.8" fill="#000"/>
<circle cx="403.9" cy="169.3" r="1.8" fill="#000"/>
<circle cx="410.9" cy="169.5" r="1.8" fill="#000"/>
<circle cx="393.9" cy="169.6" r="1.8" fill="#000"/>
<circle cx="413.4" cy="169.8" r="1.8" fill="#000"/>
<circle cx="406.4" cy="170.0" r="1.8" fill="#000"/>
<circle cx="401.4" cy="170.1" r="1.8" fill="#000"/>
<circle cx="397.4" cy="170.2" r="1.8" fill="#000"/>
<circle cx="408.9" cy="170.7" r="1.8" fill="#000"/>
<circle cx="391.9" cy="170.7" r="1.8" fill="#000"/>
<circle cx="389.4" cy="171.1" r="1.8" fill="#000"/>
<circle cx="415.4" cy="171.2" r="1.8" fill="#000"/>
<circle cx="399.4" cy="171.5" r="1.8" fill="#000"/>
<circle cx="403.4" cy="171.8" r="1.8" fill="#000"/>
<circle cx="395.4" cy="171.9" r="1.8" fill="#000"/>
<circle cx="410.9" cy="172.0" r="1.8" fill="#000"/>
<circle cx="386.9" cy="172.2" r="1.8" fill="#000"/>
<circle cx="405.9" cy="172.3" r="1.8" fill="#000"/>
<circle cx="413.4" cy="172.7" r="1.8" fill="#000"/>
<circle cx="401.4" cy="173.0" r="1.8" fill="#000"/>
<circle cx="397.4" cy="173.1" r="1.8" fill="#000"/>
<circle cx="407.9" cy="173.5" r="1.8" fill="#000"/>
<circle cx="393.4" cy="173.6" r="1.8" fill="#000"/>
<circle cx="390.9" cy="173.7" r="1.8" fill="#000"/>
<circle cx="403.9" cy="174.1" r="1.8" fill="#000"/>
<circle cx="415.4" cy="174.1" r="1.8" fill="#000"/>
<circle cx="399.4" cy="174.3" r="1.8" fill="#000"/>
<circle cx="410.4" cy="174.6" r="1.8" fill="#000"/>
<circle cx="395.9" cy="175.0" r="1.8" fill="#000"/>
<circle cx="412.9" cy="175.1" r="1.8" fill="#000"/>
<circle cx="401.9" cy="175.3" r="1.8" fill="#000"/>
<circle cx="405.9" cy="175.5" r="1.8" fill="#000"/>
<circle cx="408.4" cy="176.0" r="1.8" fill="#000"/>
<circle cx="397.9" cy="176.2" r="1.8" fill="#000"/>
<circle cx="403.9" cy="176.7" r="1.8" fill="#000"/>
<circle cx="394.4" cy="176.9" r="1.8" fill="#000"/>
<circle cx="410.9" cy="176.9" r="1.8" fill="#000"/>
<circle cx="400.4" cy="177.3" r="1.8" fill="#000"/>
<circle cx="391.9" cy="177.6" r="1.8" fill="#000"/>
<circle cx="405.9" cy="177.8" r="1.8" fill="#000"/>
<circle cx="396.4" cy="178.1" r="1.8" fill="#000"/>
<circle cx="402.4" cy="178.4" r="1.8" fill="#000"/>
<circle cx="408.4" cy="178.6" r="1.8" fill="#000"/>
<circle cx="398.9" cy="179.3" r="1.8" fill="#000"/>
<circle cx="394.4" cy="179.3" r="1.8" fill="#000"/>
<circle cx="410.9" cy="179.4" r="1.8" fill="#000"/>
<circle cx="404.4" cy="180.2" r="1.8" fill="#000"/>
<circle cx="391.9" cy="180.2" r="1.8" fill="#000"/>
<circle cx="401.9" cy="180.7" r="1.8" fill="#000"/>
<circle cx="406.9" cy="181.0" r="1.8" fill="#000"/>
<circle cx="397.9" cy="181.4" r="1.8" fill="#000"/>
<circle cx="395.4" cy="182.1" r="1.8" fill="#000"/>
<circle cx="408.9" cy="182.4" r="1.8" fill="#000"/>
<circle cx="403.4" cy="182.6" r="1.8" fill="#000"/>
<circle cx="400.9" cy="183.2" r="1.8" fill="#000"/>
<circle cx="405.9" cy="183.5" r="1.8" fill="#000"/>
<circle cx="398.4" cy="183.8" r="1.8" fill="#000"/>
<circle cx="410.9" cy="184.1" r="1.8" fill="#000"/>
<circle cx="402.9" cy="184.9" r="1.8" fill="#000"/>
<circle cx="407.4" cy="185.3" r="1.8" fill="#000"/>
<circle cx="400.9" cy="186.2" r="1.8" fill="#000"/>
<circle cx="404.4" cy="186.7" r="1.8" fill="#000"/>
<circle cx="398.4" cy="187.2" r="1.8" fill="#000"/>
<circle cx="406.9" cy="187.6" r="1.8" fill="#000"/>
<circle cx="402.4" cy="188.7" r="1.8" fill="#000"/>
<circle cx="404.9" cy="189.1" r="1.8" fill="#000"/>
<line x1="333.6" y1="164.7" x2="368.0" y2="164.7" stroke="#e0412a" stroke-width="2.2"/>
<line x1="394.6" y1="151.0" x2="410.6" y2="151.0" stroke="#e0412a" stroke-width="1" opacity="0.85"/>
<line x1="394.6" y1="155.3" x2="410.6" y2="155.3" stroke="#e0412a" stroke-width="1" opacity="0.85"/>
<line x1="402.6" y1="151.0" x2="402.6" y2="155.3" stroke="#e0412a" stroke-width="1" opacity="0.85"/>
<line x1="385.6" y1="153.2" x2="419.6" y2="153.2" stroke="#e0412a" stroke-width="2.2"/>
<path d="M351.5,48 V45.6 H401.4 V48" fill="none" stroke="#6a6a6a" stroke-width="1"/>
<polygon points="372.50,39.20 372.98,40.34 374.21,40.44 373.27,41.25 373.56,42.46 372.50,41.81 371.44,42.46 371.73,41.25 370.79,40.44 372.02,40.34" fill="#1a1a1a"/>
<polygon points="376.60,39.20 377.08,40.34 378.31,40.44 377.37,41.25 377.66,42.46 376.60,41.81 375.54,42.46 375.83,41.25 374.89,40.44 376.12,40.34" fill="#1a1a1a"/>
<polygon points="380.70,39.20 381.18,40.34 382.41,40.44 381.47,41.25 381.76,42.46 380.70,41.81 379.64,42.46 379.93,41.25 378.99,40.44 380.22,40.34" fill="#1a1a1a"/>
<path d="M43.2,691.4V682.2M41.2,682.2h4M44.5,690.7V680.0M42.5,680.0h4M45.8,685.7V677.5M43.8,677.5h4M47.2,684.2V675.4M45.2,675.4h4M48.5,680.2V671.3M46.5,671.3h4M49.8,678.3V670.0M47.8,670.0h4M51.1,678.6V669.5M49.1,669.5h4M52.5,677.1V671.1M50.5,671.1h4M53.8,676.5V667.2M51.8,667.2h4M55.1,674.6V664.7M53.1,664.7h4M56.4,674.3V667.7M54.4,667.7h4M57.8,671.6V663.8M55.8,663.8h4M59.1,668.1V659.1M57.1,659.1h4M60.4,661.6V654.4M58.4,654.4h4M61.7,657.9V651.7M59.7,651.7h4M63.0,654.8V648.8M61.0,648.8h4M64.4,650.2V642.7M62.4,642.7h4M65.7,645.8V640.6M63.7,640.6h4M67.0,640.3V631.3M65.0,631.3h4M68.3,634.8V626.2M66.3,626.2h4M69.7,629.3V621.2M67.7,621.2h4M71.0,625.2V616.5M69.0,616.5h4M72.3,620.2V612.7M70.3,612.7h4M73.6,614.7V608.1M71.6,608.1h4M75.0,613.0V605.6M73.0,605.6h4M76.3,610.8V603.9M74.3,603.9h4M77.6,608.7V600.0M75.6,600.0h4M78.9,606.9V598.9M76.9,598.9h4M80.2,605.5V599.8M78.2,599.8h4M81.6,605.5V597.3M79.6,597.3h4M82.9,603.8V596.3M80.9,596.3h4M84.2,603.1V595.5M82.2,595.5h4M85.5,603.4V595.7M83.5,595.7h4M86.9,603.0V596.9M84.9,596.9h4M88.2,602.6V594.7M86.2,594.7h4M89.5,602.4V594.5M87.5,594.5h4M90.8,600.6V593.5M88.8,593.5h4M92.2,604.0V596.7M90.2,596.7h4M93.5,602.5V595.2M91.5,595.2h4M94.8,603.3V597.4M92.8,597.4h4M96.1,603.8V596.7M94.1,596.7h4M97.5,603.7V599.1M95.5,599.1h4M98.8,603.6V598.0M96.8,598.0h4M100.1,605.6V599.5M98.1,599.5h4M101.4,606.7V602.4M99.4,602.4h4M102.7,608.2V602.6M100.7,602.6h4M104.1,608.7V602.1M102.1,602.1h4M105.4,608.7V602.2M103.4,602.2h4M106.7,610.9V605.8M104.7,605.8h4M108.0,612.6V605.0M106.0,605.0h4M109.4,613.9V607.3M107.4,607.3h4M110.7,615.0V609.6M108.7,609.6h4M112.0,616.5V610.0M110.0,610.0h4M113.3,615.4V609.2M111.3,609.2h4M114.7,617.3V611.3M112.7,611.3h4M116.0,619.0V613.6M114.0,613.6h4M117.3,618.7V611.1M115.3,611.1h4M118.6,621.9V615.6M116.6,615.6h4M119.9,621.7V615.3M117.9,615.3h4M121.3,622.8V616.2M119.3,616.2h4M122.6,626.1V618.8M120.6,618.8h4M123.9,627.2V623.2M121.9,623.2h4M125.2,627.7V621.7M123.2,621.7h4M126.6,627.1V620.7M124.6,620.7h4M127.9,627.8V623.0M125.9,623.0h4M129.2,631.1V625.9M127.2,625.9h4M130.5,629.9V625.8M128.5,625.8h4M131.9,632.0V627.4M129.9,627.4h4M133.2,632.8V627.6M131.2,627.6h4M134.5,633.7V629.5M132.5,629.5h4M135.8,634.3V629.6M133.8,629.6h4M137.1,636.5V629.6M135.1,629.6h4M138.5,636.6V630.8M136.5,630.8h4M139.8,637.6V631.9M137.8,631.9h4M141.1,636.8V629.6M139.1,629.6h4M142.4,636.1V630.2M140.4,630.2h4M143.8,636.2V628.9M141.8,628.9h4M145.1,639.8V633.7M143.1,633.7h4M146.4,641.7V635.1M144.4,635.1h4M147.7,641.2V637.0M145.7,637.0h4M149.1,642.4V636.4M147.1,636.4h4M150.4,640.3V633.9M148.4,633.9h4M151.7,642.3V638.3M149.7,638.3h4M153.0,644.2V637.2M151.0,637.2h4M154.3,643.3V638.9M152.3,638.9h4M155.7,644.4V638.9M153.7,638.9h4M157.0,647.0V642.5M155.0,642.5h4M158.3,646.6V641.0M156.3,641.0h4M159.6,647.0V641.0M157.6,641.0h4M161.0,647.4V643.2M159.0,643.2h4M162.3,647.9V640.8M160.3,640.8h4M163.6,649.0V643.6M161.6,643.6h4M164.9,649.0V643.3M162.9,643.3h4M166.3,650.3V644.3M164.3,644.3h4M167.6,651.0V645.9M165.6,645.9h4M168.9,649.2V644.3M166.9,644.3h4M170.2,650.8V644.6M168.2,644.6h4M171.6,651.1V645.3M169.6,645.3h4M172.9,653.5V648.6M170.9,648.6h4M174.2,652.6V646.3M172.2,646.3h4M175.5,652.1V647.2M173.5,647.2h4M176.8,654.6V650.6M174.8,650.6h4M178.2,652.8V648.0M176.2,648.0h4M179.5,654.6V650.6M177.5,650.6h4M180.8,654.4V649.9M178.8,649.9h4M182.1,655.3V648.9M180.1,648.9h4M183.5,655.4V650.2M181.5,650.2h4M184.8,655.0V648.0M182.8,648.0h4M186.1,656.9V650.5M184.1,650.5h4M187.4,655.6V651.5M185.4,651.5h4M188.8,658.2V650.9M186.8,650.9h4M190.1,658.8V651.7M188.1,651.7h4M191.4,657.7V653.5M189.4,653.5h4M192.7,659.8V652.9M190.7,652.9h4M194.0,659.7V654.3M192.0,654.3h4M195.4,659.0V653.4M193.4,653.4h4M196.7,659.1V651.9M194.7,651.9h4M198.0,662.4V657.7M196.0,657.7h4M199.3,660.8V655.1M197.3,655.1h4M200.7,660.0V652.9M198.7,652.9h4M202.0,661.1V654.7M200.0,654.7h4M203.3,662.9V657.4M201.3,657.4h4M204.6,663.7V656.5M202.6,656.5h4M206.0,663.9V657.2M204.0,657.2h4M207.3,665.2V659.2M205.3,659.2h4M208.6,664.8V660.5M206.6,660.5h4M209.9,665.2V659.2M207.9,659.2h4M211.2,665.7V660.2M209.2,660.2h4M212.6,664.9V660.3M210.6,660.3h4M213.9,666.7V662.6M211.9,662.6h4M215.2,668.3V662.6M213.2,662.6h4M216.5,666.5V662.1M214.5,662.1h4M217.9,668.9V663.5M215.9,663.5h4M219.2,668.8V662.6M217.2,662.6h4M220.5,669.0V663.5M218.5,663.5h4M221.8,669.7V664.9M219.8,664.9h4M223.2,670.7V664.8M221.2,664.8h4M224.5,670.4V665.0M222.5,665.0h4M225.8,668.4V661.9M223.8,661.9h4M227.1,671.4V665.7M225.1,665.7h4M228.4,671.3V664.0M226.4,664.0h4M229.8,670.4V663.3M227.8,663.3h4M231.1,671.1V664.7M229.1,664.7h4M232.4,671.4V666.7M230.4,666.7h4M233.7,671.6V667.3M231.7,667.3h4M235.1,674.6V667.7M233.1,667.7h4M236.4,673.9V667.3M234.4,667.3h4M237.7,673.3V667.3M235.7,667.3h4M239.0,673.3V668.1M237.0,668.1h4M240.4,672.9V668.0M238.4,668.0h4M241.7,674.0V667.7M239.7,667.7h4M243.0,675.0V669.3M241.0,669.3h4M244.3,675.0V669.5M242.3,669.5h4M245.6,675.6V670.1M243.6,670.1h4M247.0,675.5V669.9M245.0,669.9h4M248.3,675.4V671.6M246.3,671.6h4M249.6,676.7V672.9M247.6,672.9h4M250.9,677.6V672.0M248.9,672.0h4M252.3,678.0V672.9M250.3,672.9h4M253.6,676.6V671.8M251.6,671.8h4M254.9,676.9V674.2M252.9,674.2h4M256.2,677.6V674.6M254.2,674.6h4M257.6,678.1V674.2M255.6,674.2h4M258.9,678.2V673.6M256.9,673.6h4M260.2,678.9V673.3M258.2,673.3h4M261.5,678.2V673.9M259.5,673.9h4M262.9,679.3V673.1M260.9,673.1h4M264.2,677.2V672.4M262.2,672.4h4M265.5,675.8V670.7M263.5,670.7h4M266.8,672.4V664.5M264.8,664.5h4M268.1,671.2V663.5M266.1,663.5h4M269.5,667.2V658.7M267.5,658.7h4M270.8,662.5V654.9M268.8,654.9h4M272.1,657.3V648.8M270.1,648.8h4M273.4,655.4V648.0M271.4,648.0h4M274.8,652.0V643.5M272.8,643.5h4M276.1,647.1V636.3M274.1,636.3h4M277.4,646.4V634.9M275.4,634.9h4M278.7,642.9V635.8M276.7,635.8h4M280.1,642.0V634.5M278.1,634.5h4M281.4,639.8V628.3M279.4,628.3h4M282.7,640.0V629.5M280.7,629.5h4M284.0,636.7V625.2M282.0,625.2h4M285.3,637.0V628.7M283.3,628.7h4M286.7,636.5V626.9M284.7,626.9h4M288.0,632.9V624.3M286.0,624.3h4M289.3,633.3V621.3M287.3,621.3h4M290.6,629.9V620.4M288.6,620.4h4M292.0,632.0V620.7M290.0,620.7h4M293.3,632.0V618.6M291.3,618.6h4M294.6,631.0V621.7M292.6,621.7h4M295.9,629.2V618.3M293.9,618.3h4M297.3,630.2V618.0M295.3,618.0h4M298.6,629.3V615.9M296.6,615.9h4M299.9,628.7V618.4M297.9,618.4h4M301.2,629.5V619.6M299.2,619.6h4M302.5,628.1V619.8M300.5,619.8h4M303.9,628.3V614.8M301.9,614.8h4M305.2,628.6V620.4M303.2,620.4h4M306.5,626.3V618.0M304.5,618.0h4M307.8,626.2V614.5M305.8,614.5h4M309.2,626.4V615.3M307.2,615.3h4M310.5,627.0V614.5M308.5,614.5h4M311.8,627.7V617.8M309.8,617.8h4M313.1,625.0V611.9M311.1,611.9h4M314.5,625.2V616.8M312.5,616.8h4M315.8,626.3V617.1M313.8,617.1h4M317.1,624.5V612.2M315.1,612.2h4M318.4,625.5V617.1M316.4,617.1h4M319.7,623.8V613.9M317.7,613.9h4M321.1,623.3V610.6M319.1,610.6h4M322.4,622.8V610.2M320.4,610.2h4M323.7,622.6V612.8M321.7,612.8h4M325.0,622.3V613.5M323.0,613.5h4M326.4,623.2V612.9M324.4,612.9h4M327.7,622.1V609.4M325.7,609.4h4M329.0,621.9V611.6M327.0,611.6h4M330.3,621.3V612.7M328.3,612.7h4M331.7,620.5V607.9M329.7,607.9h4M333.0,619.8V608.2M331.0,608.2h4M334.3,618.6V604.5M332.3,604.5h4M335.6,622.2V608.0M333.6,608.0h4M337.0,619.1V605.1M335.0,605.1h4M338.3,619.3V608.6M336.3,608.6h4M339.6,616.8V603.6M337.6,603.6h4M340.9,618.0V608.1M338.9,608.1h4" stroke="#8f8f8f" stroke-width="0.75" fill="none"/>
<circle cx="43.2" cy="691.4" r="2.6" fill="#fff" stroke="#222" stroke-width="0.75"/>
<circle cx="44.5" cy="690.7" r="2.6" fill="#fff" stroke="#222" stroke-width="0.75"/>
<circle cx="45.8" cy="685.7" r="2.6" fill="#fff" stroke="#222" stroke-width="0.75"/>
<circle cx="47.2" cy="684.2" r="2.6" fill="#fff" stroke="#222" stroke-width="0.75"/>
<circle cx="48.5" cy="680.2" r="2.6" fill="#fff" stroke="#222" stroke-width="0.75"/>
<circle cx="49.8" cy="678.3" r="2.6" fill="#fff" stroke="#222" stroke-width="0.75"/>
<circle cx="51.1" cy="678.6" r="2.6" fill="#fff" stroke="#222" stroke-width="0.75"/>
<circle cx="52.5" cy="677.1" r="2.6" fill="#fff" stroke="#222" stroke-width="0.75"/>
<circle cx="53.8" cy="676.5" r="2.6" fill="#fff" stroke="#222" stroke-width="0.75"/>
<circle cx="55.1" cy="674.6" r="2.6" fill="#fff" stroke="#222" stroke-width="0.75"/>
<circle cx="56.4" cy="674.3" r="2.6" fill="#fff" stroke="#222" stroke-width="0.75"/>
<circle cx="57.8" cy="671.6" r="2.6" fill="#fff" stroke="#222" stroke-width="0.75"/>
<circle cx="59.1" cy="668.1" r="2.6" fill="#fff" stroke="#222" stroke-width="0.75"/>
<circle cx="60.4" cy="661.6" r="2.6" fill="#fff" stroke="#222" stroke-width="0.75"/>
<circle cx="61.7" cy="657.9" r="2.6" fill="#fff" stroke="#222" stroke-width="0.75"/>
<circle cx="63.0" cy="654.8" r="2.6" fill="#fff" stroke="#222" stroke-width="0.75"/>
<circle cx="64.4" cy="650.2" r="2.6" fill="#fff" stroke="#222" stroke-width="0.75"/>
<circle cx="65.7" cy="645.8" r="2.6" fill="#fff" stroke="#222" stroke-width="0.75"/>
<circle cx="67.0" cy="640.3" r="2.6" fill="#fff" stroke="#222" stroke-width="0.75"/>
<circle cx="68.3" cy="634.8" r="2.6" fill="#fff" stroke="#222" stroke-width="0.75"/>
<circle cx="69.7" cy="629.3" r="2.6" fill="#fff" stroke="#222" stroke-width="0.75"/>
<circle cx="71.0" cy="625.2" r="2.6" fill="#fff" stroke="#222" stroke-width="0.75"/>
<circle cx="72.3" cy="620.2" r="2.6" fill="#fff" stroke="#222" stroke-width="0.75"/>
<circle cx="73.6" cy="614.7" r="2.6" fill="#fff" stroke="#222" stroke-width="0.75"/>
<circle cx="75.0" cy="613.0" r="2.6" fill="#fff" stroke="#222" stroke-width="0.75"/>
<circle cx="76.3" cy="610.8" r="2.6" fill="#fff" stroke="#222" stroke-width="0.75"/>
<circle cx="77.6" cy="608.7" r="2.6" fill="#fff" stroke="#222" stroke-width="0.75"/>
<circle cx="78.9" cy="606.9" r="2.6" fill="#fff" stroke="#222" stroke-width="0.75"/>
<circle cx="80.2" cy="605.5" r="2.6" fill="#fff" stroke="#222" stroke-width="0.75"/>
<circle cx="81.6" cy="605.5" r="2.6" fill="#fff" stroke="#222" stroke-width="0.75"/>
<circle cx="82.9" cy="603.8" r="2.6" fill="#fff" stroke="#222" stroke-width="0.75"/>
<circle cx="84.2" cy="603.1" r="2.6" fill="#fff" stroke="#222" stroke-width="0.75"/>
<circle cx="85.5" cy="603.4" r="2.6" fill="#fff" stroke="#222" stroke-width="0.75"/>
<circle cx="86.9" cy="603.0" r="2.6" fill="#fff" stroke="#222" stroke-width="0.75"/>
<circle cx="88.2" cy="602.6" r="2.6" fill="#fff" stroke="#222" stroke-width="0.75"/>
<circle cx="89.5" cy="602.4" r="2.6" fill="#fff" stroke="#222" stroke-width="0.75"/>
<circle cx="90.8" cy="600.6" r="2.6" fill="#fff" stroke="#222" stroke-width="0.75"/>
<circle cx="92.2" cy="604.0" r="2.6" fill="#fff" stroke="#222" stroke-width="0.75"/>
<circle cx="93.5" cy="602.5" r="2.6" fill="#fff" stroke="#222" stroke-width="0.75"/>
<circle cx="94.8" cy="603.3" r="2.6" fill="#fff" stroke="#222" stroke-width="0.75"/>
<circle cx="96.1" cy="603.8" r="2.6" fill="#fff" stroke="#222" stroke-width="0.75"/>
<circle cx="97.5" cy="603.7" r="2.6" fill="#fff" stroke="#222" stroke-width="0.75"/>
<circle cx="98.8" cy="603.6" r="2.6" fill="#fff" stroke="#222" stroke-width="0.75"/>
<circle cx="100.1" cy="605.6" r="2.6" fill="#fff" stroke="#222" stroke-width="0.75"/>
<circle cx="101.4" cy="606.7" r="2.6" fill="#fff" stroke="#222" stroke-width="0.75"/>
<circle cx="102.7" cy="608.2" r="2.6" fill="#fff" stroke="#222" stroke-width="0.75"/>
<circle cx="104.1" cy="608.7" r="2.6" fill="#fff" stroke="#222" stroke-width="0.75"/>
<circle cx="105.4" cy="608.7" r="2.6" fill="#fff" stroke="#222" stroke-width="0.75"/>
<circle cx="106.7" cy="610.9" r="2.6" fill="#fff" stroke="#222" stroke-width="0.75"/>
<circle cx="108.0" cy="612.6" r="2.6" fill="#fff" stroke="#222" stroke-width="0.75"/>
<circle cx="109.4" cy="613.9" r="2.6" fill="#fff" stroke="#222" stroke-width="0.75"/>
<circle cx="110.7" cy="615.0" r="2.6" fill="#fff" stroke="#222" stroke-width="0.75"/>
<circle cx="112.0" cy="616.5" r="2.6" fill="#fff" stroke="#222" stroke-width="0.75"/>
<circle cx="113.3" cy="615.4" r="2.6" fill="#fff" stroke="#222" stroke-width="0.75"/>
<circle cx="114.7" cy="617.3" r="2.6" fill="#fff" stroke="#222" stroke-width="0.75"/>
<circle cx="116.0" cy="619.0" r="2.6" fill="#fff" stroke="#222" stroke-width="0.75"/>
<circle cx="117.3" cy="618.7" r="2.6" fill="#fff" stroke="#222" stroke-width="0.75"/>
<circle cx="118.6" cy="621.9" r="2.6" fill="#fff" stroke="#222" stroke-width="0.75"/>
<circle cx="119.9" cy="621.7" r="2.6" fill="#fff" stroke="#222" stroke-width="0.75"/>
<circle cx="121.3" cy="622.8" r="2.6" fill="#fff" stroke="#222" stroke-width="0.75"/>
<circle cx="122.6" cy="626.1" r="2.6" fill="#fff" stroke="#222" stroke-width="0.75"/>
<circle cx="123.9" cy="627.2" r="2.6" fill="#fff" stroke="#222" stroke-width="0.75"/>
<circle cx="125.2" cy="627.7" r="2.6" fill="#fff" stroke="#222" stroke-width="0.75"/>
<circle cx="126.6" cy="627.1" r="2.6" fill="#fff" stroke="#222" stroke-width="0.75"/>
<circle cx="127.9" cy="627.8" r="2.6" fill="#fff" stroke="#222" stroke-width="0.75"/>
<circle cx="129.2" cy="631.1" r="2.6" fill="#fff" stroke="#222" stroke-width="0.75"/>
<circle cx="130.5" cy="629.9" r="2.6" fill="#fff" stroke="#222" stroke-width="0.75"/>
<circle cx="131.9" cy="632.0" r="2.6" fill="#fff" stroke="#222" stroke-width="0.75"/>
<circle cx="133.2" cy="632.8" r="2.6" fill="#fff" stroke="#222" stroke-width="0.75"/>
<circle cx="134.5" cy="633.7" r="2.6" fill="#fff" stroke="#222" stroke-width="0.75"/>
<circle cx="135.8" cy="634.3" r="2.6" fill="#fff" stroke="#222" stroke-width="0.75"/>
<circle cx="137.1" cy="636.5" r="2.6" fill="#fff" stroke="#222" stroke-width="0.75"/>
<circle cx="138.5" cy="636.6" r="2.6" fill="#fff" stroke="#222" stroke-width="0.75"/>
<circle cx="139.8" cy="637.6" r="2.6" fill="#fff" stroke="#222" stroke-width="0.75"/>
<circle cx="141.1" cy="636.8" r="2.6" fill="#fff" stroke="#222" stroke-width="0.75"/>
<circle cx="142.4" cy="636.1" r="2.6" fill="#fff" stroke="#222" stroke-width="0.75"/>
<circle cx="143.8" cy="636.2" r="2.6" fill="#fff" stroke="#222" stroke-width="0.75"/>
<circle cx="145.1" cy="639.8" r="2.6" fill="#fff" stroke="#222" stroke-width="0.75"/>
<circle cx="146.4" cy="641.7" r="2.6" fill="#fff" stroke="#222" stroke-width="0.75"/>
<circle cx="147.7" cy="641.2" r="2.6" fill="#fff" stroke="#222" stroke-width="0.75"/>
<circle cx="149.1" cy="642.4" r="2.6" fill="#fff" stroke="#222" stroke-width="0.75"/>
<circle cx="150.4" cy="640.3" r="2.6" fill="#fff" stroke="#222" stroke-width="0.75"/>
<circle cx="151.7" cy="642.3" r="2.6" fill="#fff" stroke="#222" stroke-width="0.75"/>
<circle cx="153.0" cy="644.2" r="2.6" fill="#fff" stroke="#222" stroke-width="0.75"/>
<circle cx="154.3" cy="643.3" r="2.6" fill="#fff" stroke="#222" stroke-width="0.75"/>
<circle cx="155.7" cy="644.4" r="2.6" fill="#fff" stroke="#222" stroke-width="0.75"/>
<circle cx="157.0" cy="647.0" r="2.6" fill="#fff" stroke="#222" stroke-width="0.75"/>
<circle cx="158.3" cy="646.6" r="2.6" fill="#fff" stroke="#222" stroke-width="0.75"/>
<circle cx="159.6" cy="647.0" r="2.6" fill="#fff" stroke="#222" stroke-width="0.75"/>
<circle cx="161.0" cy="647.4" r="2.6" fill="#fff" stroke="#222" stroke-width="0.75"/>
<circle cx="162.3" cy="647.9" r="2.6" fill="#fff" stroke="#222" stroke-width="0.75"/>
<circle cx="163.6" cy="649.0" r="2.6" fill="#fff" stroke="#222" stroke-width="0.75"/>
<circle cx="164.9" cy="649.0" r="2.6" fill="#fff" stroke="#222" stroke-width="0.75"/>
<circle cx="166.3" cy="650.3" r="2.6" fill="#fff" stroke="#222" stroke-width="0.75"/>
<circle cx="167.6" cy="651.0" r="2.6" fill="#fff" stroke="#222" stroke-width="0.75"/>
<circle cx="168.9" cy="649.2" r="2.6" fill="#fff" stroke="#222" stroke-width="0.75"/>
<circle cx="170.2" cy="650.8" r="2.6" fill="#fff" stroke="#222" stroke-width="0.75"/>
<circle cx="171.6" cy="651.1" r="2.6" fill="#fff" stroke="#222" stroke-width="0.75"/>
<circle cx="172.9" cy="653.5" r="2.6" fill="#fff" stroke="#222" stroke-width="0.75"/>
<circle cx="174.2" cy="652.6" r="2.6" fill="#fff" stroke="#222" stroke-width="0.75"/>
<circle cx="175.5" cy="652.1" r="2.6" fill="#fff" stroke="#222" stroke-width="0.75"/>
<circle cx="176.8" cy="654.6" r="2.6" fill="#fff" stroke="#222" stroke-width="0.75"/>
<circle cx="178.2" cy="652.8" r="2.6" fill="#fff" stroke="#222" stroke-width="0.75"/>
<circle cx="179.5" cy="654.6" r="2.6" fill="#fff" stroke="#222" stroke-width="0.75"/>
<circle cx="180.8" cy="654.4" r="2.6" fill="#fff" stroke="#222" stroke-width="0.75"/>
<circle cx="182.1" cy="655.3" r="2.6" fill="#fff" stroke="#222" stroke-width="0.75"/>
<circle cx="183.5" cy="655.4" r="2.6" fill="#fff" stroke="#222" stroke-width="0.75"/>
<circle cx="184.8" cy="655.0" r="2.6" fill="#fff" stroke="#222" stroke-width="0.75"/>
<circle cx="186.1" cy="656.9" r="2.6" fill="#fff" stroke="#222" stroke-width="0.75"/>
<circle cx="187.4" cy="655.6" r="2.6" fill="#fff" stroke="#222" stroke-width="0.75"/>
<circle cx="188.8" cy="658.2" r="2.6" fill="#fff" stroke="#222" stroke-width="0.75"/>
<circle cx="190.1" cy="658.8" r="2.6" fill="#fff" stroke="#222" stroke-width="0.75"/>
<circle cx="191.4" cy="657.7" r="2.6" fill="#fff" stroke="#222" stroke-width="0.75"/>
<circle cx="192.7" cy="659.8" r="2.6" fill="#fff" stroke="#222" stroke-width="0.75"/>
<circle cx="194.0" cy="659.7" r="2.6" fill="#fff" stroke="#222" stroke-width="0.75"/>
<circle cx="195.4" cy="659.0" r="2.6" fill="#fff" stroke="#222" stroke-width="0.75"/>
<circle cx="196.7" cy="659.1" r="2.6" fill="#fff" stroke="#222" stroke-width="0.75"/>
<circle cx="198.0" cy="662.4" r="2.6" fill="#fff" stroke="#222" stroke-width="0.75"/>
<circle cx="199.3" cy="660.8" r="2.6" fill="#fff" stroke="#222" stroke-width="0.75"/>
<circle cx="200.7" cy="660.0" r="2.6" fill="#fff" stroke="#222" stroke-width="0.75"/>
<circle cx="202.0" cy="661.1" r="2.6" fill="#fff" stroke="#222" stroke-width="0.75"/>
<circle cx="203.3" cy="662.9" r="2.6" fill="#fff" stroke="#222" stroke-width="0.75"/>
<circle cx="204.6" cy="663.7" r="2.6" fill="#fff" stroke="#222" stroke-width="0.75"/>
<circle cx="206.0" cy="663.9" r="2.6" fill="#fff" stroke="#222" stroke-width="0.75"/>
<circle cx="207.3" cy="665.2" r="2.6" fill="#fff" stroke="#222" stroke-width="0.75"/>
<circle cx="208.6" cy="664.8" r="2.6" fill="#fff" stroke="#222" stroke-width="0.75"/>
<circle cx="209.9" cy="665.2" r="2.6" fill="#fff" stroke="#222" stroke-width="0.75"/>
<circle cx="211.2" cy="665.7" r="2.6" fill="#fff" stroke="#222" stroke-width="0.75"/>
<circle cx="212.6" cy="664.9" r="2.6" fill="#fff" stroke="#222" stroke-width="0.75"/>
<circle cx="213.9" cy="666.7" r="2.6" fill="#fff" stroke="#222" stroke-width="0.75"/>
<circle cx="215.2" cy="668.3" r="2.6" fill="#fff" stroke="#222" stroke-width="0.75"/>
<circle cx="216.5" cy="666.5" r="2.6" fill="#fff" stroke="#222" stroke-width="0.75"/>
<circle cx="217.9" cy="668.9" r="2.6" fill="#fff" stroke="#222" stroke-width="0.75"/>
<circle cx="219.2" cy="668.8" r="2.6" fill="#fff" stroke="#222" stroke-width="0.75"/>
<circle cx="220.5" cy="669.0" r="2.6" fill="#fff" stroke="#222" stroke-width="0.75"/>
<circle cx="221.8" cy="669.7" r="2.6" fill="#fff" stroke="#222" stroke-width="0.75"/>
<circle cx="223.2" cy="670.7" r="2.6" fill="#fff" stroke="#222" stroke-width="0.75"/>
<circle cx="224.5" cy="670.4" r="2.6" fill="#fff" stroke="#222" stroke-width="0.75"/>
<circle cx="225.8" cy="668.4" r="2.6" fill="#fff" stroke="#222" stroke-width="0.75"/>
<circle cx="227.1" cy="671.4" r="2.6" fill="#fff" stroke="#222" stroke-width="0.75"/>
<circle cx="228.4" cy="671.3" r="2.6" fill="#fff" stroke="#222" stroke-width="0.75"/>
<circle cx="229.8" cy="670.4" r="2.6" fill="#fff" stroke="#222" stroke-width="0.75"/>
<circle cx="231.1" cy="671.1" r="2.6" fill="#fff" stroke="#222" stroke-width="0.75"/>
<circle cx="232.4" cy="671.4" r="2.6" fill="#fff" stroke="#222" stroke-width="0.75"/>
<circle cx="233.7" cy="671.6" r="2.6" fill="#fff" stroke="#222" stroke-width="0.75"/>
<circle cx="235.1" cy="674.6" r="2.6" fill="#fff" stroke="#222" stroke-width="0.75"/>
<circle cx="236.4" cy="673.9" r="2.6" fill="#fff" stroke="#222" stroke-width="0.75"/>
<circle cx="237.7" cy="673.3" r="2.6" fill="#fff" stroke="#222" stroke-width="0.75"/>
<circle cx="239.0" cy="673.3" r="2.6" fill="#fff" stroke="#222" stroke-width="0.75"/>
<circle cx="240.4" cy="672.9" r="2.6" fill="#fff" stroke="#222" stroke-width="0.75"/>
<circle cx="241.7" cy="674.0" r="2.6" fill="#fff" stroke="#222" stroke-width="0.75"/>
<circle cx="243.0" cy="675.0" r="2.6" fill="#fff" stroke="#222" stroke-width="0.75"/>
<circle cx="244.3" cy="675.0" r="2.6" fill="#fff" stroke="#222" stroke-width="0.75"/>
<circle cx="245.6" cy="675.6" r="2.6" fill="#fff" stroke="#222" stroke-width="0.75"/>
<circle cx="247.0" cy="675.5" r="2.6" fill="#fff" stroke="#222" stroke-width="0.75"/>
<circle cx="248.3" cy="675.4" r="2.6" fill="#fff" stroke="#222" stroke-width="0.75"/>
<circle cx="249.6" cy="676.7" r="2.6" fill="#fff" stroke="#222" stroke-width="0.75"/>
<circle cx="250.9" cy="677.6" r="2.6" fill="#fff" stroke="#222" stroke-width="0.75"/>
<circle cx="252.3" cy="678.0" r="2.6" fill="#fff" stroke="#222" stroke-width="0.75"/>
<circle cx="253.6" cy="676.6" r="2.6" fill="#fff" stroke="#222" stroke-width="0.75"/>
<circle cx="254.9" cy="676.9" r="2.6" fill="#fff" stroke="#222" stroke-width="0.75"/>
<circle cx="256.2" cy="677.6" r="2.6" fill="#fff" stroke="#222" stroke-width="0.75"/>
<circle cx="257.6" cy="678.1" r="2.6" fill="#fff" stroke="#222" stroke-width="0.75"/>
<circle cx="258.9" cy="678.2" r="2.6" fill="#fff" stroke="#222" stroke-width="0.75"/>
<circle cx="260.2" cy="678.9" r="2.6" fill="#fff" stroke="#222" stroke-width="0.75"/>
<circle cx="261.5" cy="678.2" r="2.6" fill="#fff" stroke="#222" stroke-width="0.75"/>
<circle cx="262.9" cy="679.3" r="2.6" fill="#fff" stroke="#222" stroke-width="0.75"/>
<circle cx="264.2" cy="677.2" r="2.6" fill="#fff" stroke="#222" stroke-width="0.75"/>
<circle cx="265.5" cy="675.8" r="2.6" fill="#fff" stroke="#222" stroke-width="0.75"/>
<circle cx="266.8" cy="672.4" r="2.6" fill="#fff" stroke="#222" stroke-width="0.75"/>
<circle cx="268.1" cy="671.2" r="2.6" fill="#fff" stroke="#222" stroke-width="0.75"/>
<circle cx="269.5" cy="667.2" r="2.6" fill="#fff" stroke="#222" stroke-width="0.75"/>
<circle cx="270.8" cy="662.5" r="2.6" fill="#fff" stroke="#222" stroke-width="0.75"/>
<circle cx="272.1" cy="657.3" r="2.6" fill="#fff" stroke="#222" stroke-width="0.75"/>
<circle cx="273.4" cy="655.4" r="2.6" fill="#fff" stroke="#222" stroke-width="0.75"/>
<circle cx="274.8" cy="652.0" r="2.6" fill="#fff" stroke="#222" stroke-width="0.75"/>
<circle cx="276.1" cy="647.1" r="2.6" fill="#fff" stroke="#222" stroke-width="0.75"/>
<circle cx="277.4" cy="646.4" r="2.6" fill="#fff" stroke="#222" stroke-width="0.75"/>
<circle cx="278.7" cy="642.9" r="2.6" fill="#fff" stroke="#222" stroke-width="0.75"/>
<circle cx="280.1" cy="642.0" r="2.6" fill="#fff" stroke="#222" stroke-width="0.75"/>
<circle cx="281.4" cy="639.8" r="2.6" fill="#fff" stroke="#222" stroke-width="0.75"/>
<circle cx="282.7" cy="640.0" r="2.6" fill="#fff" stroke="#222" stroke-width="0.75"/>
<circle cx="284.0" cy="636.7" r="2.6" fill="#fff" stroke="#222" stroke-width="0.75"/>
<circle cx="285.3" cy="637.0" r="2.6" fill="#fff" stroke="#222" stroke-width="0.75"/>
<circle cx="286.7" cy="636.5" r="2.6" fill="#fff" stroke="#222" stroke-width="0.75"/>
<circle cx="288.0" cy="632.9" r="2.6" fill="#fff" stroke="#222" stroke-width="0.75"/>
<circle cx="289.3" cy="633.3" r="2.6" fill="#fff" stroke="#222" stroke-width="0.75"/>
<circle cx="290.6" cy="629.9" r="2.6" fill="#fff" stroke="#222" stroke-width="0.75"/>
<circle cx="292.0" cy="632.0" r="2.6" fill="#fff" stroke="#222" stroke-width="0.75"/>
<circle cx="293.3" cy="632.0" r="2.6" fill="#fff" stroke="#222" stroke-width="0.75"/>
<circle cx="294.6" cy="631.0" r="2.6" fill="#fff" stroke="#222" stroke-width="0.75"/>
<circle cx="295.9" cy="629.2" r="2.6" fill="#fff" stroke="#222" stroke-width="0.75"/>
<circle cx="297.3" cy="630.2" r="2.6" fill="#fff" stroke="#222" stroke-width="0.75"/>
<circle cx="298.6" cy="629.3" r="2.6" fill="#fff" stroke="#222" stroke-width="0.75"/>
<circle cx="299.9" cy="628.7" r="2.6" fill="#fff" stroke="#222" stroke-width="0.75"/>
<circle cx="301.2" cy="629.5" r="2.6" fill="#fff" stroke="#222" stroke-width="0.75"/>
<circle cx="302.5" cy="628.1" r="2.6" fill="#fff" stroke="#222" stroke-width="0.75"/>
<circle cx="303.9" cy="628.3" r="2.6" fill="#fff" stroke="#222" stroke-width="0.75"/>
<circle cx="305.2" cy="628.6" r="2.6" fill="#fff" stroke="#222" stroke-width="0.75"/>
<circle cx="306.5" cy="626.3" r="2.6" fill="#fff" stroke="#222" stroke-width="0.75"/>
<circle cx="307.8" cy="626.2" r="2.6" fill="#fff" stroke="#222" stroke-width="0.75"/>
<circle cx="309.2" cy="626.4" r="2.6" fill="#fff" stroke="#222" stroke-width="0.75"/>
<circle cx="310.5" cy="627.0" r="2.6" fill="#fff" stroke="#222" stroke-width="0.75"/>
<circle cx="311.8" cy="627.7" r="2.6" fill="#fff" stroke="#222" stroke-width="0.75"/>
<circle cx="313.1" cy="625.0" r="2.6" fill="#fff" stroke="#222" stroke-width="0.75"/>
<circle cx="314.5" cy="625.2" r="2.6" fill="#fff" stroke="#222" stroke-width="0.75"/>
<circle cx="315.8" cy="626.3" r="2.6" fill="#fff" stroke="#222" stroke-width="0.75"/>
<circle cx="317.1" cy="624.5" r="2.6" fill="#fff" stroke="#222" stroke-width="0.75"/>
<circle cx="318.4" cy="625.5" r="2.6" fill="#fff" stroke="#222" stroke-width="0.75"/>
<circle cx="319.7" cy="623.8" r="2.6" fill="#fff" stroke="#222" stroke-width="0.75"/>
<circle cx="321.1" cy="623.3" r="2.6" fill="#fff" stroke="#222" stroke-width="0.75"/>
<circle cx="322.4" cy="622.8" r="2.6" fill="#fff" stroke="#222" stroke-width="0.75"/>
<circle cx="323.7" cy="622.6" r="2.6" fill="#fff" stroke="#222" stroke-width="0.75"/>
<circle cx="325.0" cy="622.3" r="2.6" fill="#fff" stroke="#222" stroke-width="0.75"/>
<circle cx="326.4" cy="623.2" r="2.6" fill="#fff" stroke="#222" stroke-width="0.75"/>
<circle cx="327.7" cy="622.1" r="2.6" fill="#fff" stroke="#222" stroke-width="0.75"/>
<circle cx="329.0" cy="621.9" r="2.6" fill="#fff" stroke="#222" stroke-width="0.75"/>
<circle cx="330.3" cy="621.3" r="2.6" fill="#fff" stroke="#222" stroke-width="0.75"/>
<circle cx="331.7" cy="620.5" r="2.6" fill="#fff" stroke="#222" stroke-width="0.75"/>
<circle cx="333.0" cy="619.8" r="2.6" fill="#fff" stroke="#222" stroke-width="0.75"/>
<circle cx="334.3" cy="618.6" r="2.6" fill="#fff" stroke="#222" stroke-width="0.75"/>
<circle cx="335.6" cy="622.2" r="2.6" fill="#fff" stroke="#222" stroke-width="0.75"/>
<circle cx="337.0" cy="619.1" r="2.6" fill="#fff" stroke="#222" stroke-width="0.75"/>
<circle cx="338.3" cy="619.3" r="2.6" fill="#fff" stroke="#222" stroke-width="0.75"/>
<circle cx="339.6" cy="616.8" r="2.6" fill="#fff" stroke="#222" stroke-width="0.75"/>
<circle cx="340.9" cy="618.0" r="2.6" fill="#fff" stroke="#222" stroke-width="0.75"/>
<path d="M43.2,687.2V682.2M41.2,682.2h4M44.5,686.6V681.1M42.5,681.1h4M45.8,687.3V679.6M43.8,679.6h4M47.2,689.6V681.7M45.2,681.7h4M48.5,690.7V685.1M46.5,685.1h4M49.8,689.5V683.2M47.8,683.2h4M51.1,688.7V682.2M49.1,682.2h4M52.5,687.4V680.6M50.5,680.6h4M53.8,687.9V680.8M51.8,680.8h4M55.1,683.0V675.7M53.1,675.7h4M56.4,671.0V664.4M54.4,664.4h4M57.8,658.9V650.3M55.8,650.3h4M59.1,646.9V636.8M57.1,636.8h4M60.4,638.2V629.2M58.4,629.2h4M61.7,631.8V620.8M59.7,620.8h4M63.0,626.1V616.4M61.0,616.4h4M64.4,618.3V610.5M62.4,610.5h4M65.7,615.7V604.3M63.7,604.3h4M67.0,610.9V598.5M65.0,598.5h4M68.3,606.3V597.3M66.3,597.3h4M69.7,600.8V593.2M67.7,593.2h4M71.0,597.1V586.1M69.0,586.1h4M72.3,594.3V582.9M70.3,582.9h4M73.6,591.3V579.5M71.6,579.5h4M75.0,588.9V574.0M73.0,574.0h4M76.3,586.5V573.6M74.3,573.6h4M77.6,584.4V570.1M75.6,570.1h4M78.9,583.9V574.8M76.9,574.8h4M80.2,585.1V572.1M78.2,572.1h4M81.6,582.2V567.1M79.6,567.1h4M82.9,583.6V573.8M80.9,573.8h4M84.2,582.1V572.4M82.2,572.4h4M85.5,583.4V568.8M83.5,568.8h4M86.9,582.4V566.7M84.9,566.7h4M88.2,583.5V574.1M86.2,574.1h4M89.5,583.0V569.7M87.5,569.7h4M90.8,580.6V571.0M88.8,571.0h4M92.2,584.3V570.4M90.2,570.4h4M93.5,584.3V571.3M91.5,571.3h4M94.8,587.5V577.5M92.8,577.5h4M96.1,587.6V577.9M94.1,577.9h4M97.5,587.9V574.5M95.5,574.5h4M98.8,589.7V578.2M96.8,578.2h4M100.1,590.4V577.4M98.1,577.4h4M101.4,591.7V581.4M99.4,581.4h4M102.7,593.8V584.0M100.7,584.0h4M104.1,593.4V579.6M102.1,579.6h4M105.4,595.8V584.0M103.4,584.0h4M106.7,594.3V583.9M104.7,583.9h4M108.0,597.6V587.1M106.0,587.1h4M109.4,597.7V586.2M107.4,586.2h4M110.7,599.7V588.3M108.7,588.3h4M112.0,600.0V587.6M110.0,587.6h4M113.3,602.8V593.5M111.3,593.5h4M114.7,602.5V591.0M112.7,591.0h4M116.0,604.8V594.4M114.0,594.4h4M117.3,604.8V593.5M115.3,593.5h4M118.6,606.7V595.8M116.6,595.8h4M119.9,608.4V597.5M117.9,597.5h4M121.3,610.5V599.5M119.3,599.5h4M122.6,610.4V599.2M120.6,599.2h4M123.9,612.0V602.6M121.9,602.6h4M125.2,612.3V603.7M123.2,603.7h4M126.6,615.5V606.1M124.6,606.1h4M127.9,616.1V606.2M125.9,606.2h4M129.2,617.5V609.6M127.2,609.6h4M130.5,619.1V611.3M128.5,611.3h4M131.9,620.6V614.1M129.9,614.1h4M133.2,622.0V612.7M131.2,612.7h4M134.5,624.1V613.6M132.5,613.6h4M135.8,625.9V618.5M133.8,618.5h4M137.1,626.7V620.3M135.1,620.3h4M138.5,627.2V620.7M136.5,620.7h4M139.8,627.7V620.2M137.8,620.2h4M141.1,629.6V622.8M139.1,622.8h4M142.4,630.9V620.9M140.4,620.9h4M143.8,632.3V626.7M141.8,626.7h4M145.1,633.5V626.7M143.1,626.7h4M146.4,634.9V629.1M144.4,629.1h4M147.7,635.4V627.1M145.7,627.1h4M149.1,635.4V626.6M147.1,626.6h4M150.4,638.4V632.3M148.4,632.3h4M151.7,639.7V634.2M149.7,634.2h4M153.0,638.2V631.0M151.0,631.0h4M154.3,640.8V633.1M152.3,633.1h4M155.7,641.1V632.0M153.7,632.0h4M157.0,642.2V637.0M155.0,637.0h4M158.3,645.1V639.6M156.3,639.6h4M159.6,642.7V636.9M157.6,636.9h4M161.0,644.3V638.4M159.0,638.4h4M162.3,646.8V640.9M160.3,640.9h4M163.6,647.3V639.4M161.6,639.4h4M164.9,648.8V641.5M162.9,641.5h4M166.3,650.8V645.0M164.3,645.0h4M167.6,651.0V645.4M165.6,645.4h4M168.9,651.4V645.5M166.9,645.5h4M170.2,651.6V646.1M168.2,646.1h4M171.6,652.8V645.1M169.6,645.1h4M172.9,654.3V648.4M170.9,648.4h4M174.2,654.0V647.2M172.2,647.2h4M175.5,656.8V649.0M173.5,649.0h4M176.8,656.2V649.8M174.8,649.8h4M178.2,656.8V651.3M176.2,651.3h4M179.5,659.0V651.0M177.5,651.0h4M180.8,661.3V653.2M178.8,653.2h4M182.1,661.3V655.5M180.1,655.5h4M183.5,661.1V654.5M181.5,654.5h4M184.8,661.7V653.6M182.8,653.6h4M186.1,661.7V655.3M184.1,655.3h4M187.4,664.9V659.6M185.4,659.6h4M188.8,664.8V660.2M186.8,660.2h4M190.1,665.0V657.0M188.1,657.0h4M191.4,666.4V659.0M189.4,659.0h4M192.7,669.1V663.3M190.7,663.3h4M194.0,666.8V660.4M192.0,660.4h4M195.4,666.0V659.7M193.4,659.7h4M196.7,667.8V662.4M194.7,662.4h4M198.0,670.2V662.2M196.0,662.2h4M199.3,670.4V663.6M197.3,663.6h4M200.7,670.3V665.1M198.7,665.1h4M202.0,668.6V664.3M200.0,664.3h4M203.3,670.9V664.8M201.3,664.8h4M204.6,671.8V666.2M202.6,666.2h4M206.0,670.9V663.7M204.0,663.7h4M207.3,673.0V666.1M205.3,666.1h4M208.6,671.6V665.2M206.6,665.2h4M209.9,674.5V669.7M207.9,669.7h4M211.2,674.8V670.0M209.2,670.0h4M212.6,674.1V668.7M210.6,668.7h4M213.9,673.9V668.8M211.9,668.8h4M215.2,675.1V667.8M213.2,667.8h4M216.5,675.9V669.9M214.5,669.9h4M217.9,678.4V672.0M215.9,672.0h4M219.2,677.8V670.2M217.2,670.2h4M220.5,678.2V673.1M218.5,673.1h4M221.8,678.6V672.6M219.8,672.6h4M223.2,678.0V673.4M221.2,673.4h4M224.5,679.2V672.4M222.5,672.4h4M225.8,678.4V674.3M223.8,674.3h4M227.1,679.3V672.3M225.1,672.3h4M228.4,679.9V672.9M226.4,672.9h4M229.8,679.7V672.8M227.8,672.8h4M231.1,679.6V675.3M229.1,675.3h4M232.4,679.5V674.5M230.4,674.5h4M233.7,681.0V674.5M231.7,674.5h4M235.1,681.0V676.7M233.1,676.7h4M236.4,682.3V676.7M234.4,676.7h4M237.7,679.8V674.2M235.7,674.2h4M239.0,680.1V672.9M237.0,672.9h4M240.4,681.9V676.0M238.4,676.0h4M241.7,682.4V675.6M239.7,675.6h4M243.0,683.2V678.5M241.0,678.5h4M244.3,682.0V675.9M242.3,675.9h4M245.6,682.1V677.3M243.6,677.3h4M247.0,680.4V674.3M245.0,674.3h4M248.3,682.3V678.8M246.3,678.8h4M249.6,683.4V678.0M247.6,678.0h4M250.9,685.0V681.5M248.9,681.5h4M252.3,681.3V677.1M250.3,677.1h4M253.6,681.7V677.7M251.6,677.7h4M254.9,682.2V679.3M252.9,679.3h4M256.2,678.5V673.3M254.2,673.3h4M257.6,676.2V671.9M255.6,671.9h4M258.9,666.2V661.4M256.9,661.4h4M260.2,662.5V658.1M258.2,658.1h4M261.5,656.4V650.6M259.5,650.6h4M262.9,649.9V642.9M260.9,642.9h4M264.2,644.4V635.7M262.2,635.7h4M265.5,635.9V628.4M263.5,628.4h4M266.8,632.4V622.6M264.8,622.6h4M268.1,626.8V619.7M266.1,619.7h4M269.5,626.1V616.8M267.5,616.8h4M270.8,621.7V611.5M268.8,611.5h4M272.1,616.8V602.7M270.1,602.7h4M273.4,613.7V599.8M271.4,599.8h4M274.8,613.7V600.4M272.8,600.4h4M276.1,611.5V602.8M274.1,602.8h4M277.4,606.8V595.4M275.4,595.4h4M278.7,604.6V590.7M276.7,590.7h4M280.1,604.1V593.7M278.1,593.7h4M281.4,601.8V588.8M279.4,588.8h4M282.7,600.1V587.8M280.7,587.8h4M284.0,599.3V590.3M282.0,590.3h4M285.3,597.6V581.1M283.3,581.1h4M286.7,594.7V579.5M284.7,579.5h4M288.0,594.0V583.4M286.0,583.4h4M289.3,591.6V577.7M287.3,577.7h4M290.6,592.4V581.0M288.6,581.0h4M292.0,591.3V579.2M290.0,579.2h4M293.3,591.0V577.5M291.3,577.5h4M294.6,589.2V577.5M292.6,577.5h4M295.9,589.3V577.3M293.9,577.3h4M297.3,588.7V576.2M295.3,576.2h4M298.6,585.4V570.6M296.6,570.6h4M299.9,583.7V572.1M297.9,572.1h4M301.2,583.3V572.1M299.2,572.1h4M302.5,581.9V566.3M300.5,566.3h4M303.9,582.3V569.9M301.9,569.9h4M305.2,582.9V565.3M303.2,565.3h4M306.5,581.9V567.5M304.5,567.5h4M307.8,582.1V566.2M305.8,566.2h4M309.2,582.6V570.0M307.2,570.0h4M310.5,582.9V566.2M308.5,566.2h4M311.8,582.5V571.9M309.8,571.9h4M313.1,580.9V569.9M311.1,569.9h4M314.5,580.6V570.0M312.5,570.0h4M315.8,581.0V565.4M313.8,565.4h4M317.1,579.0V563.2M315.1,563.2h4M318.4,579.9V568.6M316.4,568.6h4M319.7,579.4V566.3M317.7,566.3h4M321.1,578.9V562.0M319.1,562.0h4M322.4,580.8V566.0M320.4,566.0h4M323.7,582.0V571.4M321.7,571.4h4M325.0,579.5V567.8M323.0,567.8h4M326.4,580.9V569.8M324.4,569.8h4M327.7,579.1V568.3M325.7,568.3h4M329.0,580.1V566.9M327.0,566.9h4M330.3,579.6V569.1M328.3,569.1h4M331.7,579.8V562.3M329.7,562.3h4M333.0,582.6V569.2M331.0,569.2h4M334.3,580.0V565.9M332.3,565.9h4M335.6,581.4V566.1M333.6,566.1h4M337.0,581.5V565.3M335.0,565.3h4M338.3,581.3V564.6M336.3,564.6h4M339.6,580.3V567.2M337.6,567.2h4M340.9,580.2V567.6M338.9,567.6h4" stroke="#8f8f8f" stroke-width="0.75" fill="none"/>
<circle cx="43.2" cy="687.2" r="2.95" fill="#000"/>
<circle cx="44.5" cy="686.6" r="2.95" fill="#000"/>
<circle cx="45.8" cy="687.3" r="2.95" fill="#000"/>
<circle cx="47.2" cy="689.6" r="2.95" fill="#000"/>
<circle cx="48.5" cy="690.7" r="2.95" fill="#000"/>
<circle cx="49.8" cy="689.5" r="2.95" fill="#000"/>
<circle cx="51.1" cy="688.7" r="2.95" fill="#000"/>
<circle cx="52.5" cy="687.4" r="2.95" fill="#000"/>
<circle cx="53.8" cy="687.9" r="2.95" fill="#000"/>
<circle cx="55.1" cy="683.0" r="2.95" fill="#000"/>
<circle cx="56.4" cy="671.0" r="2.95" fill="#000"/>
<circle cx="57.8" cy="658.9" r="2.95" fill="#000"/>
<circle cx="59.1" cy="646.9" r="2.95" fill="#000"/>
<circle cx="60.4" cy="638.2" r="2.95" fill="#000"/>
<circle cx="61.7" cy="631.8" r="2.95" fill="#000"/>
<circle cx="63.0" cy="626.1" r="2.95" fill="#000"/>
<circle cx="64.4" cy="618.3" r="2.95" fill="#000"/>
<circle cx="65.7" cy="615.7" r="2.95" fill="#000"/>
<circle cx="67.0" cy="610.9" r="2.95" fill="#000"/>
<circle cx="68.3" cy="606.3" r="2.95" fill="#000"/>
<circle cx="69.7" cy="600.8" r="2.95" fill="#000"/>
<circle cx="71.0" cy="597.1" r="2.95" fill="#000"/>
<circle cx="72.3" cy="594.3" r="2.95" fill="#000"/>
<circle cx="73.6" cy="591.3" r="2.95" fill="#000"/>
<circle cx="75.0" cy="588.9" r="2.95" fill="#000"/>
<circle cx="76.3" cy="586.5" r="2.95" fill="#000"/>
<circle cx="77.6" cy="584.4" r="2.95" fill="#000"/>
<circle cx="78.9" cy="583.9" r="2.95" fill="#000"/>
<circle cx="80.2" cy="585.1" r="2.95" fill="#000"/>
<circle cx="81.6" cy="582.2" r="2.95" fill="#000"/>
<circle cx="82.9" cy="583.6" r="2.95" fill="#000"/>
<circle cx="84.2" cy="582.1" r="2.95" fill="#000"/>
<circle cx="85.5" cy="583.4" r="2.95" fill="#000"/>
<circle cx="86.9" cy="582.4" r="2.95" fill="#000"/>
<circle cx="88.2" cy="583.5" r="2.95" fill="#000"/>
<circle cx="89.5" cy="583.0" r="2.95" fill="#000"/>
<circle cx="90.8" cy="580.6" r="2.95" fill="#000"/>
<circle cx="92.2" cy="584.3" r="2.95" fill="#000"/>
<circle cx="93.5" cy="584.3" r="2.95" fill="#000"/>
<circle cx="94.8" cy="587.5" r="2.95" fill="#000"/>
<circle cx="96.1" cy="587.6" r="2.95" fill="#000"/>
<circle cx="97.5" cy="587.9" r="2.95" fill="#000"/>
<circle cx="98.8" cy="589.7" r="2.95" fill="#000"/>
<circle cx="100.1" cy="590.4" r="2.95" fill="#000"/>
<circle cx="101.4" cy="591.7" r="2.95" fill="#000"/>
<circle cx="102.7" cy="593.8" r="2.95" fill="#000"/>
<circle cx="104.1" cy="593.4" r="2.95" fill="#000"/>
<circle cx="105.4" cy="595.8" r="2.95" fill="#000"/>
<circle cx="106.7" cy="594.3" r="2.95" fill="#000"/>
<circle cx="108.0" cy="597.6" r="2.95" fill="#000"/>
<circle cx="109.4" cy="597.7" r="2.95" fill="#000"/>
<circle cx="110.7" cy="599.7" r="2.95" fill="#000"/>
<circle cx="112.0" cy="600.0" r="2.95" fill="#000"/>
<circle cx="113.3" cy="602.8" r="2.95" fill="#000"/>
<circle cx="114.7" cy="602.5" r="2.95" fill="#000"/>
<circle cx="116.0" cy="604.8" r="2.95" fill="#000"/>
<circle cx="117.3" cy="604.8" r="2.95" fill="#000"/>
<circle cx="118.6" cy="606.7" r="2.95" fill="#000"/>
<circle cx="119.9" cy="608.4" r="2.95" fill="#000"/>
<circle cx="121.3" cy="610.5" r="2.95" fill="#000"/>
<circle cx="122.6" cy="610.4" r="2.95" fill="#000"/>
<circle cx="123.9" cy="612.0" r="2.95" fill="#000"/>
<circle cx="125.2" cy="612.3" r="2.95" fill="#000"/>
<circle cx="126.6" cy="615.5" r="2.95" fill="#000"/>
<circle cx="127.9" cy="616.1" r="2.95" fill="#000"/>
<circle cx="129.2" cy="617.5" r="2.95" fill="#000"/>
<circle cx="130.5" cy="619.1" r="2.95" fill="#000"/>
<circle cx="131.9" cy="620.6" r="2.95" fill="#000"/>
<circle cx="133.2" cy="622.0" r="2.95" fill="#000"/>
<circle cx="134.5" cy="624.1" r="2.95" fill="#000"/>
<circle cx="135.8" cy="625.9" r="2.95" fill="#000"/>
<circle cx="137.1" cy="626.7" r="2.95" fill="#000"/>
<circle cx="138.5" cy="627.2" r="2.95" fill="#000"/>
<circle cx="139.8" cy="627.7" r="2.95" fill="#000"/>
<circle cx="141.1" cy="629.6" r="2.95" fill="#000"/>
<circle cx="142.4" cy="630.9" r="2.95" fill="#000"/>
<circle cx="143.8" cy="632.3" r="2.95" fill="#000"/>
<circle cx="145.1" cy="633.5" r="2.95" fill="#000"/>
<circle cx="146.4" cy="634.9" r="2.95" fill="#000"/>
<circle cx="147.7" cy="635.4" r="2.95" fill="#000"/>
<circle cx="149.1" cy="635.4" r="2.95" fill="#000"/>
<circle cx="150.4" cy="638.4" r="2.95" fill="#000"/>
<circle cx="151.7" cy="639.7" r="2.95" fill="#000"/>
<circle cx="153.0" cy="638.2" r="2.95" fill="#000"/>
<circle cx="154.3" cy="640.8" r="2.95" fill="#000"/>
<circle cx="155.7" cy="641.1" r="2.95" fill="#000"/>
<circle cx="157.0" cy="642.2" r="2.95" fill="#000"/>
<circle cx="158.3" cy="645.1" r="2.95" fill="#000"/>
<circle cx="159.6" cy="642.7" r="2.95" fill="#000"/>
<circle cx="161.0" cy="644.3" r="2.95" fill="#000"/>
<circle cx="162.3" cy="646.8" r="2.95" fill="#000"/>
<circle cx="163.6" cy="647.3" r="2.95" fill="#000"/>
<circle cx="164.9" cy="648.8" r="2.95" fill="#000"/>
<circle cx="166.3" cy="650.8" r="2.95" fill="#000"/>
<circle cx="167.6" cy="651.0" r="2.95" fill="#000"/>
<circle cx="168.9" cy="651.4" r="2.95" fill="#000"/>
<circle cx="170.2" cy="651.6" r="2.95" fill="#000"/>
<circle cx="171.6" cy="652.8" r="2.95" fill="#000"/>
<circle cx="172.9" cy="654.3" r="2.95" fill="#000"/>
<circle cx="174.2" cy="654.0" r="2.95" fill="#000"/>
<circle cx="175.5" cy="656.8" r="2.95" fill="#000"/>
<circle cx="176.8" cy="656.2" r="2.95" fill="#000"/>
<circle cx="178.2" cy="656.8" r="2.95" fill="#000"/>
<circle cx="179.5" cy="659.0" r="2.95" fill="#000"/>
<circle cx="180.8" cy="661.3" r="2.95" fill="#000"/>
<circle cx="182.1" cy="661.3" r="2.95" fill="#000"/>
<circle cx="183.5" cy="661.1" r="2.95" fill="#000"/>
<circle cx="184.8" cy="661.7" r="2.95" fill="#000"/>
<circle cx="186.1" cy="661.7" r="2.95" fill="#000"/>
<circle cx="187.4" cy="664.9" r="2.95" fill="#000"/>
<circle cx="188.8" cy="664.8" r="2.95" fill="#000"/>
<circle cx="190.1" cy="665.0" r="2.95" fill="#000"/>
<circle cx="191.4" cy="666.4" r="2.95" fill="#000"/>
<circle cx="192.7" cy="669.1" r="2.95" fill="#000"/>
<circle cx="194.0" cy="666.8" r="2.95" fill="#000"/>
<circle cx="195.4" cy="666.0" r="2.95" fill="#000"/>
<circle cx="196.7" cy="667.8" r="2.95" fill="#000"/>
<circle cx="198.0" cy="670.2" r="2.95" fill="#000"/>
<circle cx="199.3" cy="670.4" r="2.95" fill="#000"/>
<circle cx="200.7" cy="670.3" r="2.95" fill="#000"/>
<circle cx="202.0" cy="668.6" r="2.95" fill="#000"/>
<circle cx="203.3" cy="670.9" r="2.95" fill="#000"/>
<circle cx="204.6" cy="671.8" r="2.95" fill="#000"/>
<circle cx="206.0" cy="670.9" r="2.95" fill="#000"/>
<circle cx="207.3" cy="673.0" r="2.95" fill="#000"/>
<circle cx="208.6" cy="671.6" r="2.95" fill="#000"/>
<circle cx="209.9" cy="674.5" r="2.95" fill="#000"/>
<circle cx="211.2" cy="674.8" r="2.95" fill="#000"/>
<circle cx="212.6" cy="674.1" r="2.95" fill="#000"/>
<circle cx="213.9" cy="673.9" r="2.95" fill="#000"/>
<circle cx="215.2" cy="675.1" r="2.95" fill="#000"/>
<circle cx="216.5" cy="675.9" r="2.95" fill="#000"/>
<circle cx="217.9" cy="678.4" r="2.95" fill="#000"/>
<circle cx="219.2" cy="677.8" r="2.95" fill="#000"/>
<circle cx="220.5" cy="678.2" r="2.95" fill="#000"/>
<circle cx="221.8" cy="678.6" r="2.95" fill="#000"/>
<circle cx="223.2" cy="678.0" r="2.95" fill="#000"/>
<circle cx="224.5" cy="679.2" r="2.95" fill="#000"/>
<circle cx="225.8" cy="678.4" r="2.95" fill="#000"/>
<circle cx="227.1" cy="679.3" r="2.95" fill="#000"/>
<circle cx="228.4" cy="679.9" r="2.95" fill="#000"/>
<circle cx="229.8" cy="679.7" r="2.95" fill="#000"/>
<circle cx="231.1" cy="679.6" r="2.95" fill="#000"/>
<circle cx="232.4" cy="679.5" r="2.95" fill="#000"/>
<circle cx="233.7" cy="681.0" r="2.95" fill="#000"/>
<circle cx="235.1" cy="681.0" r="2.95" fill="#000"/>
<circle cx="236.4" cy="682.3" r="2.95" fill="#000"/>
<circle cx="237.7" cy="679.8" r="2.95" fill="#000"/>
<circle cx="239.0" cy="680.1" r="2.95" fill="#000"/>
<circle cx="240.4" cy="681.9" r="2.95" fill="#000"/>
<circle cx="241.7" cy="682.4" r="2.95" fill="#000"/>
<circle cx="243.0" cy="683.2" r="2.95" fill="#000"/>
<circle cx="244.3" cy="682.0" r="2.95" fill="#000"/>
<circle cx="245.6" cy="682.1" r="2.95" fill="#000"/>
<circle cx="247.0" cy="680.4" r="2.95" fill="#000"/>
<circle cx="248.3" cy="682.3" r="2.95" fill="#000"/>
<circle cx="249.6" cy="683.4" r="2.95" fill="#000"/>
<circle cx="250.9" cy="685.0" r="2.95" fill="#000"/>
<circle cx="252.3" cy="681.3" r="2.95" fill="#000"/>
<circle cx="253.6" cy="681.7" r="2.95" fill="#000"/>
<circle cx="254.9" cy="682.2" r="2.95" fill="#000"/>
<circle cx="256.2" cy="678.5" r="2.95" fill="#000"/>
<circle cx="257.6" cy="676.2" r="2.95" fill="#000"/>
<circle cx="258.9" cy="666.2" r="2.95" fill="#000"/>
<circle cx="260.2" cy="662.5" r="2.95" fill="#000"/>
<circle cx="261.5" cy="656.4" r="2.95" fill="#000"/>
<circle cx="262.9" cy="649.9" r="2.95" fill="#000"/>
<circle cx="264.2" cy="644.4" r="2.95" fill="#000"/>
<circle cx="265.5" cy="635.9" r="2.95" fill="#000"/>
<circle cx="266.8" cy="632.4" r="2.95" fill="#000"/>
<circle cx="268.1" cy="626.8" r="2.95" fill="#000"/>
<circle cx="269.5" cy="626.1" r="2.95" fill="#000"/>
<circle cx="270.8" cy="621.7" r="2.95" fill="#000"/>
<circle cx="272.1" cy="616.8" r="2.95" fill="#000"/>
<circle cx="273.4" cy="613.7" r="2.95" fill="#000"/>
<circle cx="274.8" cy="613.7" r="2.95" fill="#000"/>
<circle cx="276.1" cy="611.5" r="2.95" fill="#000"/>
<circle cx="277.4" cy="606.8" r="2.95" fill="#000"/>
<circle cx="278.7" cy="604.6" r="2.95" fill="#000"/>
<circle cx="280.1" cy="604.1" r="2.95" fill="#000"/>
<circle cx="281.4" cy="601.8" r="2.95" fill="#000"/>
<circle cx="282.7" cy="600.1" r="2.95" fill="#000"/>
<circle cx="284.0" cy="599.3" r="2.95" fill="#000"/>
<circle cx="285.3" cy="597.6" r="2.95" fill="#000"/>
<circle cx="286.7" cy="594.7" r="2.95" fill="#000"/>
<circle cx="288.0" cy="594.0" r="2.95" fill="#000"/>
<circle cx="289.3" cy="591.6" r="2.95" fill="#000"/>
<circle cx="290.6" cy="592.4" r="2.95" fill="#000"/>
<circle cx="292.0" cy="591.3" r="2.95" fill="#000"/>
<circle cx="293.3" cy="591.0" r="2.95" fill="#000"/>
<circle cx="294.6" cy="589.2" r="2.95" fill="#000"/>
<circle cx="295.9" cy="589.3" r="2.95" fill="#000"/>
<circle cx="297.3" cy="588.7" r="2.95" fill="#000"/>
<circle cx="298.6" cy="585.4" r="2.95" fill="#000"/>
<circle cx="299.9" cy="583.7" r="2.95" fill="#000"/>
<circle cx="301.2" cy="583.3" r="2.95" fill="#000"/>
<circle cx="302.5" cy="581.9" r="2.95" fill="#000"/>
<circle cx="303.9" cy="582.3" r="2.95" fill="#000"/>
<circle cx="305.2" cy="582.9" r="2.95" fill="#000"/>
<circle cx="306.5" cy="581.9" r="2.95" fill="#000"/>
<circle cx="307.8" cy="582.1" r="2.95" fill="#000"/>
<circle cx="309.2" cy="582.6" r="2.95" fill="#000"/>
<circle cx="310.5" cy="582.9" r="2.95" fill="#000"/>
<circle cx="311.8" cy="582.5" r="2.95" fill="#000"/>
<circle cx="313.1" cy="580.9" r="2.95" fill="#000"/>
<circle cx="314.5" cy="580.6" r="2.95" fill="#000"/>
<circle cx="315.8" cy="581.0" r="2.95" fill="#000"/>
<circle cx="317.1" cy="579.0" r="2.95" fill="#000"/>
<circle cx="318.4" cy="579.9" r="2.95" fill="#000"/>
<circle cx="319.7" cy="579.4" r="2.95" fill="#000"/>
<circle cx="321.1" cy="578.9" r="2.95" fill="#000"/>
<circle cx="322.4" cy="580.8" r="2.95" fill="#000"/>
<circle cx="323.7" cy="582.0" r="2.95" fill="#000"/>
<circle cx="325.0" cy="579.5" r="2.95" fill="#000"/>
<circle cx="326.4" cy="580.9" r="2.95" fill="#000"/>
<circle cx="327.7" cy="579.1" r="2.95" fill="#000"/>
<circle cx="329.0" cy="580.1" r="2.95" fill="#000"/>
<circle cx="330.3" cy="579.6" r="2.95" fill="#000"/>
<circle cx="331.7" cy="579.8" r="2.95" fill="#000"/>
<circle cx="333.0" cy="582.6" r="2.95" fill="#000"/>
<circle cx="334.3" cy="580.0" r="2.95" fill="#000"/>
<circle cx="335.6" cy="581.4" r="2.95" fill="#000"/>
<circle cx="337.0" cy="581.5" r="2.95" fill="#000"/>
<circle cx="338.3" cy="581.3" r="2.95" fill="#000"/>
<circle cx="339.6" cy="580.3" r="2.95" fill="#000"/>
<circle cx="340.9" cy="580.2" r="2.95" fill="#000"/>
<line x1="88.1" y1="699.5" x2="112.6" y2="699.5" stroke="#1a1a1a" stroke-width="1.2"/>
<circle cx="100.4" cy="699.2" r="3.2" fill="#fff" stroke="#111" stroke-width="1"/>
<line x1="88.1" y1="716.5" x2="112.6" y2="716.5" stroke="#1a1a1a" stroke-width="1.2"/>
<circle cx="100.4" cy="716" r="3.9" fill="#000"/>
<path d="M408.7,695.0 L414.8,695.0 L420.8,695.0 L426.9,695.0 L433.0,695.0 L439.1,692.2 L445.1,685.6 L451.2,679.9 L457.3,674.3 L463.3,668.4 L469.4,662.0 L475.5,656.3 L481.5,650.6 L487.6,645.9 L493.7,641.2 L499.7,637.4 L505.8,634.6 L511.9,632.1 L517.9,630.4 L524.0,628.9 L530.1,627.9 L536.1,627.6 L542.2,627.2 L548.3,626.8 L554.3,626.4 L560.4,626.4 L566.5,626.4 L572.5,628.1 L578.6,626.3 L584.7,627.6 L590.7,626.2 L596.8,628.1 L602.9,627.7 L608.9,627.2 L615.0,630.0 L621.1,630.0 L627.1,626.1" fill="none" stroke="#333" stroke-width="0.6"/>
<path d="M408.7,695.0V693.5M406.7,693.5h4M414.8,695.0V693.5M412.8,693.5h4M420.8,695.0V693.4M418.8,693.4h4M426.9,695.0V693.3M424.9,693.3h4M433.0,695.0V693.3M431.0,693.3h4M439.1,692.2V690.4M437.1,690.4h4M445.1,685.6V683.7M443.1,683.7h4M451.2,679.9V677.7M449.2,677.7h4M457.3,674.3V671.7M455.3,671.7h4M463.3,668.4V665.6M461.3,665.6h4M469.4,662.0V658.8M467.4,658.8h4M475.5,656.3V652.8M473.5,652.8h4M481.5,650.6V646.9M479.5,646.9h4M487.6,645.9V642.1M485.6,642.1h4M493.7,641.2V637.4M491.7,637.4h4M499.7,637.4V633.6M497.7,633.6h4M505.8,634.6V630.8M503.8,630.8h4M511.9,632.1V628.3M509.9,628.3h4M517.9,630.4V626.6M515.9,626.6h4M524.0,628.9V625.1M522.0,625.1h4M530.1,627.9V624.2M528.1,624.2h4M536.1,627.6V623.8M534.1,623.8h4M542.2,627.2V623.4M540.2,623.4h4M548.3,626.8V623.0M546.3,623.0h4M554.3,626.4V622.7M552.3,622.7h4M560.4,626.4V622.6M558.4,622.6h4M566.5,626.4V622.6M564.5,622.6h4M572.5,628.1V624.4M570.5,624.4h4M578.6,626.3V622.5M576.6,622.5h4M584.7,627.6V623.8M582.7,623.8h4M590.7,626.2V622.5M588.7,622.5h4M596.8,628.1V624.4M594.8,624.4h4M602.9,627.7V623.9M600.9,623.9h4M608.9,627.2V623.4M606.9,623.4h4M615.0,630.0V626.2M613.0,626.2h4M621.1,630.0V626.2M619.1,626.2h4M627.1,626.1V622.3M625.1,622.3h4" stroke="#555" stroke-width="0.7" fill="none"/>
<ellipse cx="408.7" cy="695.0" rx="2.45" ry="2.2" fill="#fff" stroke="#1a1a1a" stroke-width="0.65"/>
<ellipse cx="414.8" cy="695.0" rx="2.45" ry="2.2" fill="#fff" stroke="#1a1a1a" stroke-width="0.65"/>
<ellipse cx="420.8" cy="695.0" rx="2.45" ry="2.2" fill="#fff" stroke="#1a1a1a" stroke-width="0.65"/>
<ellipse cx="426.9" cy="695.0" rx="2.45" ry="2.2" fill="#fff" stroke="#1a1a1a" stroke-width="0.65"/>
<ellipse cx="433.0" cy="695.0" rx="2.45" ry="2.2" fill="#fff" stroke="#1a1a1a" stroke-width="0.65"/>
<ellipse cx="439.1" cy="692.2" rx="2.45" ry="2.2" fill="#fff" stroke="#1a1a1a" stroke-width="0.65"/>
<ellipse cx="445.1" cy="685.6" rx="2.45" ry="2.2" fill="#fff" stroke="#1a1a1a" stroke-width="0.65"/>
<ellipse cx="451.2" cy="679.9" rx="2.45" ry="2.2" fill="#fff" stroke="#1a1a1a" stroke-width="0.65"/>
<ellipse cx="457.3" cy="674.3" rx="2.45" ry="2.2" fill="#fff" stroke="#1a1a1a" stroke-width="0.65"/>
<ellipse cx="463.3" cy="668.4" rx="2.45" ry="2.2" fill="#fff" stroke="#1a1a1a" stroke-width="0.65"/>
<ellipse cx="469.4" cy="662.0" rx="2.45" ry="2.2" fill="#fff" stroke="#1a1a1a" stroke-width="0.65"/>
<ellipse cx="475.5" cy="656.3" rx="2.45" ry="2.2" fill="#fff" stroke="#1a1a1a" stroke-width="0.65"/>
<ellipse cx="481.5" cy="650.6" rx="2.45" ry="2.2" fill="#fff" stroke="#1a1a1a" stroke-width="0.65"/>
<ellipse cx="487.6" cy="645.9" rx="2.45" ry="2.2" fill="#fff" stroke="#1a1a1a" stroke-width="0.65"/>
<ellipse cx="493.7" cy="641.2" rx="2.45" ry="2.2" fill="#fff" stroke="#1a1a1a" stroke-width="0.65"/>
<ellipse cx="499.7" cy="637.4" rx="2.45" ry="2.2" fill="#fff" stroke="#1a1a1a" stroke-width="0.65"/>
<ellipse cx="505.8" cy="634.6" rx="2.45" ry="2.2" fill="#fff" stroke="#1a1a1a" stroke-width="0.65"/>
<ellipse cx="511.9" cy="632.1" rx="2.45" ry="2.2" fill="#fff" stroke="#1a1a1a" stroke-width="0.65"/>
<ellipse cx="517.9" cy="630.4" rx="2.45" ry="2.2" fill="#fff" stroke="#1a1a1a" stroke-width="0.65"/>
<ellipse cx="524.0" cy="628.9" rx="2.45" ry="2.2" fill="#fff" stroke="#1a1a1a" stroke-width="0.65"/>
<ellipse cx="530.1" cy="627.9" rx="2.45" ry="2.2" fill="#fff" stroke="#1a1a1a" stroke-width="0.65"/>
<ellipse cx="536.1" cy="627.6" rx="2.45" ry="2.2" fill="#fff" stroke="#1a1a1a" stroke-width="0.65"/>
<ellipse cx="542.2" cy="627.2" rx="2.45" ry="2.2" fill="#fff" stroke="#1a1a1a" stroke-width="0.65"/>
<ellipse cx="548.3" cy="626.8" rx="2.45" ry="2.2" fill="#fff" stroke="#1a1a1a" stroke-width="0.65"/>
<ellipse cx="554.3" cy="626.4" rx="2.45" ry="2.2" fill="#fff" stroke="#1a1a1a" stroke-width="0.65"/>
<ellipse cx="560.4" cy="626.4" rx="2.45" ry="2.2" fill="#fff" stroke="#1a1a1a" stroke-width="0.65"/>
<ellipse cx="566.5" cy="626.4" rx="2.45" ry="2.2" fill="#fff" stroke="#1a1a1a" stroke-width="0.65"/>
<ellipse cx="572.5" cy="628.1" rx="2.45" ry="2.2" fill="#fff" stroke="#1a1a1a" stroke-width="0.65"/>
<ellipse cx="578.6" cy="626.3" rx="2.45" ry="2.2" fill="#fff" stroke="#1a1a1a" stroke-width="0.65"/>
<ellipse cx="584.7" cy="627.6" rx="2.45" ry="2.2" fill="#fff" stroke="#1a1a1a" stroke-width="0.65"/>
<ellipse cx="590.7" cy="626.2" rx="2.45" ry="2.2" fill="#fff" stroke="#1a1a1a" stroke-width="0.65"/>
<ellipse cx="596.8" cy="628.1" rx="2.45" ry="2.2" fill="#fff" stroke="#1a1a1a" stroke-width="0.65"/>
<ellipse cx="602.9" cy="627.7" rx="2.45" ry="2.2" fill="#fff" stroke="#1a1a1a" stroke-width="0.65"/>
<ellipse cx="608.9" cy="627.2" rx="2.45" ry="2.2" fill="#fff" stroke="#1a1a1a" stroke-width="0.65"/>
<ellipse cx="615.0" cy="630.0" rx="2.45" ry="2.2" fill="#fff" stroke="#1a1a1a" stroke-width="0.65"/>
<ellipse cx="621.1" cy="630.0" rx="2.45" ry="2.2" fill="#fff" stroke="#1a1a1a" stroke-width="0.65"/>
<ellipse cx="627.1" cy="626.1" rx="2.45" ry="2.2" fill="#fff" stroke="#1a1a1a" stroke-width="0.65"/>
<path d="M408.7,696.0 L414.8,696.0 L420.8,696.0 L426.9,696.0 L433.0,696.0 L439.1,693.2 L445.1,685.6 L451.2,678.0 L457.3,670.5 L463.3,663.9 L469.4,656.3 L475.5,648.7 L481.5,643.1 L487.6,637.4 L493.7,632.7 L499.7,629.8 L505.8,627.4 L511.9,626.1 L517.9,625.7 L524.0,625.1 L530.1,625.0 L536.1,625.0 L542.2,624.9 L548.3,624.8 L554.3,624.7 L560.4,624.6 L566.5,624.5 L572.5,627.4 L578.6,625.5 L584.7,626.8 L590.7,625.5 L596.8,627.4 L602.9,626.9 L608.9,626.4 L615.0,629.3 L621.1,629.3 L627.1,623.4" fill="none" stroke="#333" stroke-width="0.6"/>
<path d="M408.7,696.0V694.5M406.7,694.5h4M414.8,696.0V694.4M412.8,694.4h4M420.8,696.0V694.4M418.8,694.4h4M426.9,696.0V694.3M424.9,694.3h4M433.0,696.0V694.2M431.0,694.2h4M439.1,693.2V691.3M437.1,691.3h4M445.1,685.6V683.7M443.1,683.7h4M451.2,678.0V675.8M449.2,675.8h4M457.3,670.5V668.0M455.3,668.0h4M463.3,663.9V661.0M461.3,661.0h4M469.4,656.3V653.1M467.4,653.1h4M475.5,648.7V645.3M473.5,645.3h4M481.5,643.1V639.3M479.5,639.3h4M487.6,637.4V633.5M485.6,633.5h4M493.7,632.7V628.7M491.7,628.7h4M499.7,629.8V625.7M497.7,625.7h4M505.8,627.4V623.1M503.8,623.1h4M511.9,626.1V621.7M509.9,621.7h4M517.9,625.7V621.2M515.9,621.2h4M524.0,625.1V620.5M522.0,620.5h4M530.1,625.0V620.3M528.1,620.3h4M536.1,625.0V620.2M534.1,620.2h4M542.2,624.9V620.1M540.2,620.1h4M548.3,624.8V620.1M546.3,620.1h4M554.3,624.7V620.0M552.3,620.0h4M560.4,624.6V619.9M558.4,619.9h4M566.5,624.5V619.8M564.5,619.8h4M572.5,627.4V622.7M570.5,622.7h4M578.6,625.5V620.8M576.6,620.8h4M584.7,626.8V622.1M582.7,622.1h4M590.7,625.5V620.8M588.7,620.8h4M596.8,627.4V622.7M594.8,622.7h4M602.9,626.9V622.2M600.9,622.2h4M608.9,626.4V621.7M606.9,621.7h4M615.0,629.3V624.5M613.0,624.5h4M621.1,629.3V624.5M619.1,624.5h4M627.1,623.4V618.7M625.1,618.7h4" stroke="#555" stroke-width="0.7" fill="none"/>
<ellipse cx="408.7" cy="696.0" rx="2.45" ry="2.2" fill="#3d7fc8" stroke="#1a1a1a" stroke-width="0.65"/>
<ellipse cx="414.8" cy="696.0" rx="2.45" ry="2.2" fill="#3d7fc8" stroke="#1a1a1a" stroke-width="0.65"/>
<ellipse cx="420.8" cy="696.0" rx="2.45" ry="2.2" fill="#3d7fc8" stroke="#1a1a1a" stroke-width="0.65"/>
<ellipse cx="426.9" cy="696.0" rx="2.45" ry="2.2" fill="#3d7fc8" stroke="#1a1a1a" stroke-width="0.65"/>
<ellipse cx="433.0" cy="696.0" rx="2.45" ry="2.2" fill="#3d7fc8" stroke="#1a1a1a" stroke-width="0.65"/>
<ellipse cx="439.1" cy="693.2" rx="2.45" ry="2.2" fill="#3d7fc8" stroke="#1a1a1a" stroke-width="0.65"/>
<ellipse cx="445.1" cy="685.6" rx="2.45" ry="2.2" fill="#3d7fc8" stroke="#1a1a1a" stroke-width="0.65"/>
<ellipse cx="451.2" cy="678.0" rx="2.45" ry="2.2" fill="#3d7fc8" stroke="#1a1a1a" stroke-width="0.65"/>
<ellipse cx="457.3" cy="670.5" rx="2.45" ry="2.2" fill="#3d7fc8" stroke="#1a1a1a" stroke-width="0.65"/>
<ellipse cx="463.3" cy="663.9" rx="2.45" ry="2.2" fill="#3d7fc8" stroke="#1a1a1a" stroke-width="0.65"/>
<ellipse cx="469.4" cy="656.3" rx="2.45" ry="2.2" fill="#3d7fc8" stroke="#1a1a1a" stroke-width="0.65"/>
<ellipse cx="475.5" cy="648.7" rx="2.45" ry="2.2" fill="#3d7fc8" stroke="#1a1a1a" stroke-width="0.65"/>
<ellipse cx="481.5" cy="643.1" rx="2.45" ry="2.2" fill="#3d7fc8" stroke="#1a1a1a" stroke-width="0.65"/>
<ellipse cx="487.6" cy="637.4" rx="2.45" ry="2.2" fill="#3d7fc8" stroke="#1a1a1a" stroke-width="0.65"/>
<ellipse cx="493.7" cy="632.7" rx="2.45" ry="2.2" fill="#3d7fc8" stroke="#1a1a1a" stroke-width="0.65"/>
<ellipse cx="499.7" cy="629.8" rx="2.45" ry="2.2" fill="#3d7fc8" stroke="#1a1a1a" stroke-width="0.65"/>
<ellipse cx="505.8" cy="627.4" rx="2.45" ry="2.2" fill="#3d7fc8" stroke="#1a1a1a" stroke-width="0.65"/>
<ellipse cx="511.9" cy="626.1" rx="2.45" ry="2.2" fill="#3d7fc8" stroke="#1a1a1a" stroke-width="0.65"/>
<ellipse cx="517.9" cy="625.7" rx="2.45" ry="2.2" fill="#3d7fc8" stroke="#1a1a1a" stroke-width="0.65"/>
<ellipse cx="524.0" cy="625.1" rx="2.45" ry="2.2" fill="#3d7fc8" stroke="#1a1a1a" stroke-width="0.65"/>
<ellipse cx="530.1" cy="625.0" rx="2.45" ry="2.2" fill="#3d7fc8" stroke="#1a1a1a" stroke-width="0.65"/>
<ellipse cx="536.1" cy="625.0" rx="2.45" ry="2.2" fill="#3d7fc8" stroke="#1a1a1a" stroke-width="0.65"/>
<ellipse cx="542.2" cy="624.9" rx="2.45" ry="2.2" fill="#3d7fc8" stroke="#1a1a1a" stroke-width="0.65"/>
<ellipse cx="548.3" cy="624.8" rx="2.45" ry="2.2" fill="#3d7fc8" stroke="#1a1a1a" stroke-width="0.65"/>
<ellipse cx="554.3" cy="624.7" rx="2.45" ry="2.2" fill="#3d7fc8" stroke="#1a1a1a" stroke-width="0.65"/>
<ellipse cx="560.4" cy="624.6" rx="2.45" ry="2.2" fill="#3d7fc8" stroke="#1a1a1a" stroke-width="0.65"/>
<ellipse cx="566.5" cy="624.5" rx="2.45" ry="2.2" fill="#3d7fc8" stroke="#1a1a1a" stroke-width="0.65"/>
<ellipse cx="572.5" cy="627.4" rx="2.45" ry="2.2" fill="#3d7fc8" stroke="#1a1a1a" stroke-width="0.65"/>
<ellipse cx="578.6" cy="625.5" rx="2.45" ry="2.2" fill="#3d7fc8" stroke="#1a1a1a" stroke-width="0.65"/>
<ellipse cx="584.7" cy="626.8" rx="2.45" ry="2.2" fill="#3d7fc8" stroke="#1a1a1a" stroke-width="0.65"/>
<ellipse cx="590.7" cy="625.5" rx="2.45" ry="2.2" fill="#3d7fc8" stroke="#1a1a1a" stroke-width="0.65"/>
<ellipse cx="596.8" cy="627.4" rx="2.45" ry="2.2" fill="#3d7fc8" stroke="#1a1a1a" stroke-width="0.65"/>
<ellipse cx="602.9" cy="626.9" rx="2.45" ry="2.2" fill="#3d7fc8" stroke="#1a1a1a" stroke-width="0.65"/>
<ellipse cx="608.9" cy="626.4" rx="2.45" ry="2.2" fill="#3d7fc8" stroke="#1a1a1a" stroke-width="0.65"/>
<ellipse cx="615.0" cy="629.3" rx="2.45" ry="2.2" fill="#3d7fc8" stroke="#1a1a1a" stroke-width="0.65"/>
<ellipse cx="621.1" cy="629.3" rx="2.45" ry="2.2" fill="#3d7fc8" stroke="#1a1a1a" stroke-width="0.65"/>
<ellipse cx="627.1" cy="623.4" rx="2.45" ry="2.2" fill="#3d7fc8" stroke="#1a1a1a" stroke-width="0.65"/>
<path d="M408.7,694.1 L414.8,694.1 L420.8,694.1 L426.9,694.1 L433.0,694.1 L439.1,691.3 L445.1,683.7 L451.2,676.1 L457.3,668.6 L463.3,661.0 L469.4,653.5 L475.5,645.9 L481.5,639.3 L487.6,633.6 L493.7,628.9 L499.7,625.1 L505.8,623.2 L511.9,621.3 L517.9,620.4 L524.0,619.4 L530.1,619.3 L536.1,619.1 L542.2,619.0 L548.3,618.8 L554.3,618.7 L560.4,618.5 L566.5,619.4 L572.5,620.2 L578.6,619.8 L584.7,621.5 L590.7,620.6 L596.8,622.5 L602.9,622.7 L608.9,622.9 L615.0,623.2 L621.1,623.4 L627.1,623.4" fill="none" stroke="#333" stroke-width="0.6"/>
<path d="M408.7,694.1V692.6M406.7,692.6h4M414.8,694.1V692.5M412.8,692.5h4M420.8,694.1V692.3M418.8,692.3h4M426.9,694.1V692.2M424.9,692.2h4M433.0,694.1V692.1M431.0,692.1h4M439.1,691.3V689.1M437.1,689.1h4M445.1,683.7V681.4M443.1,681.4h4M451.2,676.1V673.5M449.2,673.5h4M457.3,668.6V665.5M455.3,665.5h4M463.3,661.0V657.5M461.3,657.5h4M469.4,653.5V649.6M467.4,649.6h4M475.5,645.9V641.6M473.5,641.6h4M481.5,639.3V634.6M479.5,634.6h4M487.6,633.6V628.8M485.6,628.8h4M493.7,628.9V623.9M491.7,623.9h4M499.7,625.1V620.0M497.7,620.0h4M505.8,623.2V618.0M503.8,618.0h4M511.9,621.3V616.0M509.9,616.0h4M517.9,620.4V615.0M515.9,615.0h4M524.0,619.4V613.9M522.0,613.9h4M530.1,619.3V613.6M528.1,613.6h4M536.1,619.1V613.5M534.1,613.5h4M542.2,619.0V613.3M540.2,613.3h4M548.3,618.8V613.1M546.3,613.1h4M554.3,618.7V613.0M552.3,613.0h4M560.4,618.5V612.8M558.4,612.8h4M566.5,619.4V613.7M564.5,613.7h4M572.5,620.2V614.5M570.5,614.5h4M578.6,619.8V614.2M576.6,614.2h4M584.7,621.5V615.9M582.7,615.9h4M590.7,620.6V614.9M588.7,614.9h4M596.8,622.5V616.8M594.8,616.8h4M602.9,622.7V617.0M600.9,617.0h4M608.9,622.9V617.3M606.9,617.3h4M615.0,623.2V617.5M613.0,617.5h4M621.1,623.4V617.7M619.1,617.7h4M627.1,623.4V617.7M625.1,617.7h4" stroke="#555" stroke-width="0.7" fill="none"/>
<ellipse cx="408.7" cy="694.1" rx="2.45" ry="2.2" fill="#e5402a" stroke="#1a1a1a" stroke-width="0.65"/>
<ellipse cx="414.8" cy="694.1" rx="2.45" ry="2.2" fill="#e5402a" stroke="#1a1a1a" stroke-width="0.65"/>
<ellipse cx="420.8" cy="694.1" rx="2.45" ry="2.2" fill="#e5402a" stroke="#1a1a1a" stroke-width="0.65"/>
<ellipse cx="426.9" cy="694.1" rx="2.45" ry="2.2" fill="#e5402a" stroke="#1a1a1a" stroke-width="0.65"/>
<ellipse cx="433.0" cy="694.1" rx="2.45" ry="2.2" fill="#e5402a" stroke="#1a1a1a" stroke-width="0.65"/>
<ellipse cx="439.1" cy="691.3" rx="2.45" ry="2.2" fill="#e5402a" stroke="#1a1a1a" stroke-width="0.65"/>
<ellipse cx="445.1" cy="683.7" rx="2.45" ry="2.2" fill="#e5402a" stroke="#1a1a1a" stroke-width="0.65"/>
<ellipse cx="451.2" cy="676.1" rx="2.45" ry="2.2" fill="#e5402a" stroke="#1a1a1a" stroke-width="0.65"/>
<ellipse cx="457.3" cy="668.6" rx="2.45" ry="2.2" fill="#e5402a" stroke="#1a1a1a" stroke-width="0.65"/>
<ellipse cx="463.3" cy="661.0" rx="2.45" ry="2.2" fill="#e5402a" stroke="#1a1a1a" stroke-width="0.65"/>
<ellipse cx="469.4" cy="653.5" rx="2.45" ry="2.2" fill="#e5402a" stroke="#1a1a1a" stroke-width="0.65"/>
<ellipse cx="475.5" cy="645.9" rx="2.45" ry="2.2" fill="#e5402a" stroke="#1a1a1a" stroke-width="0.65"/>
<ellipse cx="481.5" cy="639.3" rx="2.45" ry="2.2" fill="#e5402a" stroke="#1a1a1a" stroke-width="0.65"/>
<ellipse cx="487.6" cy="633.6" rx="2.45" ry="2.2" fill="#e5402a" stroke="#1a1a1a" stroke-width="0.65"/>
<ellipse cx="493.7" cy="628.9" rx="2.45" ry="2.2" fill="#e5402a" stroke="#1a1a1a" stroke-width="0.65"/>
<ellipse cx="499.7" cy="625.1" rx="2.45" ry="2.2" fill="#e5402a" stroke="#1a1a1a" stroke-width="0.65"/>
<ellipse cx="505.8" cy="623.2" rx="2.45" ry="2.2" fill="#e5402a" stroke="#1a1a1a" stroke-width="0.65"/>
<ellipse cx="511.9" cy="621.3" rx="2.45" ry="2.2" fill="#e5402a" stroke="#1a1a1a" stroke-width="0.65"/>
<ellipse cx="517.9" cy="620.4" rx="2.45" ry="2.2" fill="#e5402a" stroke="#1a1a1a" stroke-width="0.65"/>
<ellipse cx="524.0" cy="619.4" rx="2.45" ry="2.2" fill="#e5402a" stroke="#1a1a1a" stroke-width="0.65"/>
<ellipse cx="530.1" cy="619.3" rx="2.45" ry="2.2" fill="#e5402a" stroke="#1a1a1a" stroke-width="0.65"/>
<ellipse cx="536.1" cy="619.1" rx="2.45" ry="2.2" fill="#e5402a" stroke="#1a1a1a" stroke-width="0.65"/>
<ellipse cx="542.2" cy="619.0" rx="2.45" ry="2.2" fill="#e5402a" stroke="#1a1a1a" stroke-width="0.65"/>
<ellipse cx="548.3" cy="618.8" rx="2.45" ry="2.2" fill="#e5402a" stroke="#1a1a1a" stroke-width="0.65"/>
<ellipse cx="554.3" cy="618.7" rx="2.45" ry="2.2" fill="#e5402a" stroke="#1a1a1a" stroke-width="0.65"/>
<ellipse cx="560.4" cy="618.5" rx="2.45" ry="2.2" fill="#e5402a" stroke="#1a1a1a" stroke-width="0.65"/>
<ellipse cx="566.5" cy="619.4" rx="2.45" ry="2.2" fill="#e5402a" stroke="#1a1a1a" stroke-width="0.65"/>
<ellipse cx="572.5" cy="620.2" rx="2.45" ry="2.2" fill="#e5402a" stroke="#1a1a1a" stroke-width="0.65"/>
<ellipse cx="578.6" cy="619.8" rx="2.45" ry="2.2" fill="#e5402a" stroke="#1a1a1a" stroke-width="0.65"/>
<ellipse cx="584.7" cy="621.5" rx="2.45" ry="2.2" fill="#e5402a" stroke="#1a1a1a" stroke-width="0.65"/>
<ellipse cx="590.7" cy="620.6" rx="2.45" ry="2.2" fill="#e5402a" stroke="#1a1a1a" stroke-width="0.65"/>
<ellipse cx="596.8" cy="622.5" rx="2.45" ry="2.2" fill="#e5402a" stroke="#1a1a1a" stroke-width="0.65"/>
<ellipse cx="602.9" cy="622.7" rx="2.45" ry="2.2" fill="#e5402a" stroke="#1a1a1a" stroke-width="0.65"/>
<ellipse cx="608.9" cy="622.9" rx="2.45" ry="2.2" fill="#e5402a" stroke="#1a1a1a" stroke-width="0.65"/>
<ellipse cx="615.0" cy="623.2" rx="2.45" ry="2.2" fill="#e5402a" stroke="#1a1a1a" stroke-width="0.65"/>
<ellipse cx="621.1" cy="623.4" rx="2.45" ry="2.2" fill="#e5402a" stroke="#1a1a1a" stroke-width="0.65"/>
<ellipse cx="627.1" cy="623.4" rx="2.45" ry="2.2" fill="#e5402a" stroke="#1a1a1a" stroke-width="0.65"/>
<path d="M408.7,687.5 L414.8,687.5 L420.8,687.5 L426.9,687.5 L433.0,687.5 L439.1,684.6 L445.1,677.1 L451.2,669.5 L457.3,662.0 L463.3,651.6 L469.4,642.1 L475.5,632.7 L481.5,624.2 L487.6,615.7 L493.7,608.1 L499.7,602.4 L505.8,599.6 L511.9,595.8 L517.9,593.0 L524.0,591.1 L530.1,589.8 L536.1,588.8 L542.2,587.9 L548.3,587.4 L554.3,586.9 L560.4,587.0 L566.5,587.0 L572.5,587.0 L578.6,587.1 L584.7,587.1 L590.7,587.1 L596.8,589.6 L602.9,589.6 L608.9,590.5 L615.0,591.1 L621.1,588.6 L627.1,590.9" fill="none" stroke="#333" stroke-width="0.6"/>
<path d="M408.7,687.5V685.2M406.7,685.2h4M414.8,687.5V685.1M412.8,685.1h4M420.8,687.5V685.0M418.8,685.0h4M426.9,687.5V684.9M424.9,684.9h4M433.0,687.5V684.8M431.0,684.8h4M439.1,684.6V681.8M437.1,681.8h4M445.1,677.1V673.5M443.1,673.5h4M451.2,669.5V665.3M449.2,665.3h4M457.3,662.0V657.0M455.3,657.0h4M463.3,651.6V645.9M461.3,645.9h4M469.4,642.1V635.7M467.4,635.7h4M475.5,632.7V625.5M473.5,625.5h4M481.5,624.2V616.2M479.5,616.2h4M487.6,615.7V607.0M485.6,607.0h4M493.7,608.1V598.7M491.7,598.7h4M499.7,602.4V592.6M497.7,592.6h4M505.8,599.6V589.4M503.8,589.4h4M511.9,595.8V585.2M509.9,585.2h4M517.9,593.0V582.0M515.9,582.0h4M524.0,591.1V579.8M522.0,579.8h4M530.1,589.8V578.1M528.1,578.1h4M536.1,588.8V577.0M534.1,577.0h4M542.2,587.9V576.0M540.2,576.0h4M548.3,587.4V575.5M546.3,575.5h4M554.3,586.9V574.9M552.3,574.9h4M560.4,587.0V574.9M558.4,574.9h4M566.5,587.0V574.9M564.5,574.9h4M572.5,587.0V574.8M570.5,574.8h4M578.6,587.1V574.8M576.6,574.8h4M584.7,587.1V574.8M582.7,574.8h4M590.7,587.1V574.8M588.7,574.8h4M596.8,589.6V577.3M594.8,577.3h4M602.9,589.6V577.3M600.9,577.3h4M608.9,590.5V578.2M606.9,578.2h4M615.0,591.1V578.8M613.0,578.8h4M621.1,588.6V576.4M619.1,576.4h4M627.1,590.9V578.6M625.1,578.6h4" stroke="#5a5a5a" stroke-width="0.7" fill="none"/>
<ellipse cx="408.7" cy="687.5" rx="2.45" ry="2.2" fill="#000" stroke="#1a1a1a" stroke-width="0.65"/>
<ellipse cx="414.8" cy="687.5" rx="2.45" ry="2.2" fill="#000" stroke="#1a1a1a" stroke-width="0.65"/>
<ellipse cx="420.8" cy="687.5" rx="2.45" ry="2.2" fill="#000" stroke="#1a1a1a" stroke-width="0.65"/>
<ellipse cx="426.9" cy="687.5" rx="2.45" ry="2.2" fill="#000" stroke="#1a1a1a" stroke-width="0.65"/>
<ellipse cx="433.0" cy="687.5" rx="2.45" ry="2.2" fill="#000" stroke="#1a1a1a" stroke-width="0.65"/>
<ellipse cx="439.1" cy="684.6" rx="2.45" ry="2.2" fill="#000" stroke="#1a1a1a" stroke-width="0.65"/>
<ellipse cx="445.1" cy="677.1" rx="2.45" ry="2.2" fill="#000" stroke="#1a1a1a" stroke-width="0.65"/>
<ellipse cx="451.2" cy="669.5" rx="2.45" ry="2.2" fill="#000" stroke="#1a1a1a" stroke-width="0.65"/>
<ellipse cx="457.3" cy="662.0" rx="2.45" ry="2.2" fill="#000" stroke="#1a1a1a" stroke-width="0.65"/>
<ellipse cx="463.3" cy="651.6" rx="2.45" ry="2.2" fill="#000" stroke="#1a1a1a" stroke-width="0.65"/>
<ellipse cx="469.4" cy="642.1" rx="2.45" ry="2.2" fill="#000" stroke="#1a1a1a" stroke-width="0.65"/>
<ellipse cx="475.5" cy="632.7" rx="2.45" ry="2.2" fill="#000" stroke="#1a1a1a" stroke-width="0.65"/>
<ellipse cx="481.5" cy="624.2" rx="2.45" ry="2.2" fill="#000" stroke="#1a1a1a" stroke-width="0.65"/>
<ellipse cx="487.6" cy="615.7" rx="2.45" ry="2.2" fill="#000" stroke="#1a1a1a" stroke-width="0.65"/>
<ellipse cx="493.7" cy="608.1" rx="2.45" ry="2.2" fill="#000" stroke="#1a1a1a" stroke-width="0.65"/>
<ellipse cx="499.7" cy="602.4" rx="2.45" ry="2.2" fill="#000" stroke="#1a1a1a" stroke-width="0.65"/>
<ellipse cx="505.8" cy="599.6" rx="2.45" ry="2.2" fill="#000" stroke="#1a1a1a" stroke-width="0.65"/>
<ellipse cx="511.9" cy="595.8" rx="2.45" ry="2.2" fill="#000" stroke="#1a1a1a" stroke-width="0.65"/>
<ellipse cx="517.9" cy="593.0" rx="2.45" ry="2.2" fill="#000" stroke="#1a1a1a" stroke-width="0.65"/>
<ellipse cx="524.0" cy="591.1" rx="2.45" ry="2.2" fill="#000" stroke="#1a1a1a" stroke-width="0.65"/>
<ellipse cx="530.1" cy="589.8" rx="2.45" ry="2.2" fill="#000" stroke="#1a1a1a" stroke-width="0.65"/>
<ellipse cx="536.1" cy="588.8" rx="2.45" ry="2.2" fill="#000" stroke="#1a1a1a" stroke-width="0.65"/>
<ellipse cx="542.2" cy="587.9" rx="2.45" ry="2.2" fill="#000" stroke="#1a1a1a" stroke-width="0.65"/>
<ellipse cx="548.3" cy="587.4" rx="2.45" ry="2.2" fill="#000" stroke="#1a1a1a" stroke-width="0.65"/>
<ellipse cx="554.3" cy="586.9" rx="2.45" ry="2.2" fill="#000" stroke="#1a1a1a" stroke-width="0.65"/>
<ellipse cx="560.4" cy="587.0" rx="2.45" ry="2.2" fill="#000" stroke="#1a1a1a" stroke-width="0.65"/>
<ellipse cx="566.5" cy="587.0" rx="2.45" ry="2.2" fill="#000" stroke="#1a1a1a" stroke-width="0.65"/>
<ellipse cx="572.5" cy="587.0" rx="2.45" ry="2.2" fill="#000" stroke="#1a1a1a" stroke-width="0.65"/>
<ellipse cx="578.6" cy="587.1" rx="2.45" ry="2.2" fill="#000" stroke="#1a1a1a" stroke-width="0.65"/>
<ellipse cx="584.7" cy="587.1" rx="2.45" ry="2.2" fill="#000" stroke="#1a1a1a" stroke-width="0.65"/>
<ellipse cx="590.7" cy="587.1" rx="2.45" ry="2.2" fill="#000" stroke="#1a1a1a" stroke-width="0.65"/>
<ellipse cx="596.8" cy="589.6" rx="2.45" ry="2.2" fill="#000" stroke="#1a1a1a" stroke-width="0.65"/>
<ellipse cx="602.9" cy="589.6" rx="2.45" ry="2.2" fill="#000" stroke="#1a1a1a" stroke-width="0.65"/>
<ellipse cx="608.9" cy="590.5" rx="2.45" ry="2.2" fill="#000" stroke="#1a1a1a" stroke-width="0.65"/>
<ellipse cx="615.0" cy="591.1" rx="2.45" ry="2.2" fill="#000" stroke="#1a1a1a" stroke-width="0.65"/>
<ellipse cx="621.1" cy="588.6" rx="2.45" ry="2.2" fill="#000" stroke="#1a1a1a" stroke-width="0.65"/>
<ellipse cx="627.1" cy="590.9" rx="2.45" ry="2.2" fill="#000" stroke="#1a1a1a" stroke-width="0.65"/>
<line x1="520" y1="666.4" x2="544.5" y2="666.4" stroke="#555" stroke-width="0.9"/>
<circle cx="532.3" cy="666.4" r="3.1" fill="#fff" stroke="#1a1a1a" stroke-width="0.7"/>
<line x1="520" y1="683.4" x2="544.5" y2="683.4" stroke="#555" stroke-width="0.9"/>
<circle cx="532.3" cy="683.4" r="3.1" fill="#000" stroke="#1a1a1a" stroke-width="0.7"/>
<line x1="520" y1="700.3" x2="544.5" y2="700.3" stroke="#555" stroke-width="0.9"/>
<circle cx="532.3" cy="700.3" r="3.1" fill="#3d7fc8" stroke="#1a1a1a" stroke-width="0.7"/>
<line x1="520" y1="717.4" x2="544.5" y2="717.4" stroke="#555" stroke-width="0.9"/>
<circle cx="532.3" cy="717.4" r="3.1" fill="#e5402a" stroke="#1a1a1a" stroke-width="0.7"/>
<text class="t" x="117.80" y="702.50" font-size="10" text-anchor="start" fill="#000"><tspan font-style="italic">Spg11</tspan><tspan font-size="7.40" dx="-0.3" dy="-3.00" font-style="italic">+/+</tspan></text>
<text class="t" x="117.80" y="719.50" font-size="10" text-anchor="start" fill="#000"><tspan font-style="italic">Spg11</tspan><tspan font-size="7.40" dx="-0.3" dy="-3.00" font-style="italic">–/–</tspan></text>
<text x="549.2" y="670.2" font-size="9.8" fill="#000" class="t"><tspan font-style="italic">Spg11</tspan><tspan font-size="6.3" dy="-3.7" font-style="italic">+/+</tspan><tspan dy="3.7"> untreated</tspan></text>
<text x="549.2" y="686.8" font-size="9.8" fill="#000" class="t"><tspan font-style="italic">Spg11</tspan><tspan font-size="6.3" dy="-3.7" font-style="italic">–/–</tspan><tspan dy="3.7"> untreated</tspan></text>
<text x="549.2" y="704.2" font-size="9.8" fill="#000" class="t"><tspan font-style="italic">Spg11</tspan><tspan font-size="6.3" dy="-3.7" font-style="italic">+/+</tspan><tspan dy="3.7"> MBCD:cholesterol</tspan></text>
<text x="549.2" y="720.8" font-size="9.8" fill="#000" class="t"><tspan font-style="italic">Spg11</tspan><tspan font-size="6.3" dy="-3.7" font-style="italic">–/–</tspan><tspan dy="3.7"> MBCD:cholesterol</tspan></text>
</svg>
</body></html>
